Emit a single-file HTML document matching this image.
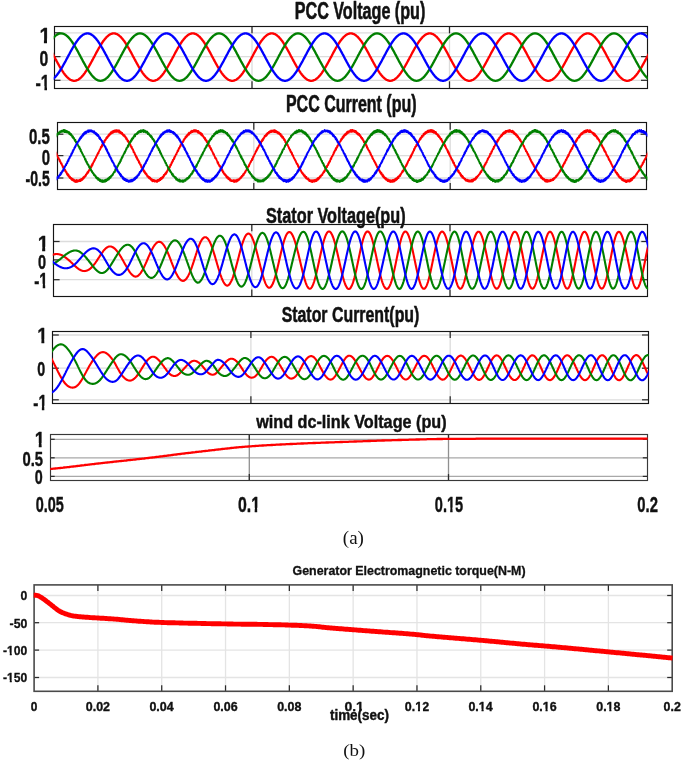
<!DOCTYPE html>
<html><head><meta charset="utf-8"><title>Wind DFIG simulation results</title>
<style>html,body{margin:0;padding:0;background:#fff;} svg{display:block;}</style></head>
<body>
<svg width="685" height="762" viewBox="0 0 685 762">
<rect width="685" height="762" fill="#fff"/>
<line x1="54.5" y1="32.8" x2="647.0" y2="32.8" stroke="#dcdcdc" stroke-width="1.3"/>
<line x1="54.5" y1="56.6" x2="647.0" y2="56.6" stroke="#dcdcdc" stroke-width="1.3"/>
<line x1="54.5" y1="80.3" x2="647.0" y2="80.3" stroke="#dcdcdc" stroke-width="1.3"/>
<line x1="252.0" y1="26.3" x2="252.0" y2="88.3" stroke="#dcdcdc" stroke-width="1.3"/>
<line x1="449.5" y1="26.3" x2="449.5" y2="88.3" stroke="#dcdcdc" stroke-width="1.3"/>
<line x1="54.5" y1="32.8" x2="60.5" y2="32.8" stroke="#2a2a2a" stroke-width="1.25"/>
<line x1="641.0" y1="32.8" x2="647.0" y2="32.8" stroke="#2a2a2a" stroke-width="1.25"/>
<line x1="54.5" y1="56.6" x2="60.5" y2="56.6" stroke="#2a2a2a" stroke-width="1.25"/>
<line x1="641.0" y1="56.6" x2="647.0" y2="56.6" stroke="#2a2a2a" stroke-width="1.25"/>
<line x1="54.5" y1="80.3" x2="60.5" y2="80.3" stroke="#2a2a2a" stroke-width="1.25"/>
<line x1="641.0" y1="80.3" x2="647.0" y2="80.3" stroke="#2a2a2a" stroke-width="1.25"/>
<line x1="252.0" y1="26.3" x2="252.0" y2="33.3" stroke="#2a2a2a" stroke-width="1.25"/>
<line x1="252.0" y1="81.3" x2="252.0" y2="88.3" stroke="#2a2a2a" stroke-width="1.25"/>
<line x1="449.5" y1="26.3" x2="449.5" y2="33.3" stroke="#2a2a2a" stroke-width="1.25"/>
<line x1="449.5" y1="81.3" x2="449.5" y2="88.3" stroke="#2a2a2a" stroke-width="1.25"/>
<rect x="54.5" y="26.5" width="593.0" height="62.0" fill="none" stroke="#151515" stroke-width="1.15"/>
<clipPath id="c1"><rect x="53.7" y="25.5" width="594.1" height="63.6"/></clipPath>
<g clip-path="url(#c1)">
<polyline fill="none" stroke="#ff0000" stroke-width="2.35" stroke-linejoin="round" stroke-linecap="round" points="52.5,53.3 53,54.3 53.5,55.2 54,56.2 54.5,57.1 55,58 55.5,59 56,59.9 56.5,60.9 57,61.8 57.5,62.7 58,63.6 58.5,64.5 59,65.4 59.5,66.3 60,67.1 60.5,68 61,68.8 61.5,69.6 62,70.4 62.5,71.2 63,71.9 63.5,72.7 64,73.4 64.5,74 65,74.7 65.5,75.3 66,75.9 66.5,76.4 67,77 67.5,77.5 68,77.9 68.5,78.4 69,78.8 69.5,79.1 70,79.5 70.5,79.8 71,80 71.5,80.2 72,80.4 72.5,80.6 73,80.7 73.5,80.8 74,80.8 74.5,80.8 75,80.8 75.5,80.7 76,80.6 76.5,80.4 77,80.2 77.5,80 78,79.8 78.5,79.5 79,79.1 79.5,78.8 80,78.4 80.5,77.9 81,77.5 81.5,77 82,76.4 82.5,75.9 83,75.3 83.5,74.7 84,74 84.5,73.4 85,72.7 85.5,71.9 86,71.2 86.5,70.4 87,69.6 87.5,68.8 88,68 88.5,67.1 89,66.3 89.5,65.4 90,64.5 90.5,63.6 91,62.7 91.5,61.8 92,60.9 92.5,59.9 93,59 93.5,58 94,57.1 94.5,56.2 95,55.2 95.5,54.3 96,53.3 96.5,52.4 97,51.5 97.5,50.6 98,49.7 98.5,48.8 99,47.9 99.5,47.1 100,46.2 100.5,45.4 101,44.6 101.5,43.8 102,43 102.5,42.3 103,41.5 103.5,40.8 104,40.2 104.5,39.5 105,38.9 105.5,38.3 106,37.8 106.5,37.2 107,36.7 107.5,36.3 108,35.8 108.5,35.4 109,35.1 109.5,34.7 110,34.4 110.5,34.2 111,34 111.5,33.8 112,33.6 112.5,33.5 113,33.4 113.5,33.4 114,33.4 114.5,33.4 115,33.5 115.5,33.6 116,33.8 116.5,34 117,34.2 117.5,34.4 118,34.7 118.5,35.1 119,35.4 119.5,35.8 120,36.3 120.5,36.7 121,37.2 121.5,37.8 122,38.3 122.5,38.9 123,39.5 123.5,40.2 124,40.8 124.5,41.5 125,42.3 125.5,43 126,43.8 126.5,44.6 127,45.4 127.5,46.2 128,47.1 128.5,47.9 129,48.8 129.5,49.7 130,50.6 130.5,51.5 131,52.4 131.5,53.3 132,54.3 132.5,55.2 133,56.2 133.5,57.1 134,58 134.5,59 135,59.9 135.5,60.9 136,61.8 136.5,62.7 137,63.6 137.5,64.5 138,65.4 138.5,66.3 139,67.1 139.5,68 140,68.8 140.5,69.6 141,70.4 141.5,71.2 142,71.9 142.5,72.7 143,73.4 143.5,74 144,74.7 144.5,75.3 145,75.9 145.5,76.4 146,77 146.5,77.5 147,77.9 147.5,78.4 148,78.8 148.5,79.1 149,79.5 149.5,79.8 150,80 150.5,80.2 151,80.4 151.5,80.6 152,80.7 152.5,80.8 153,80.8 153.5,80.8 154,80.8 154.5,80.7 155,80.6 155.5,80.4 156,80.2 156.5,80 157,79.8 157.5,79.5 158,79.1 158.5,78.8 159,78.4 159.5,77.9 160,77.5 160.5,77 161,76.4 161.5,75.9 162,75.3 162.5,74.7 163,74 163.5,73.4 164,72.7 164.5,71.9 165,71.2 165.5,70.4 166,69.6 166.5,68.8 167,68 167.5,67.1 168,66.3 168.5,65.4 169,64.5 169.5,63.6 170,62.7 170.5,61.8 171,60.9 171.5,59.9 172,59 172.5,58 173,57.1 173.5,56.2 174,55.2 174.5,54.3 175,53.3 175.5,52.4 176,51.5 176.5,50.6 177,49.7 177.5,48.8 178,47.9 178.5,47.1 179,46.2 179.5,45.4 180,44.6 180.5,43.8 181,43 181.5,42.3 182,41.5 182.5,40.8 183,40.2 183.5,39.5 184,38.9 184.5,38.3 185,37.8 185.5,37.2 186,36.7 186.5,36.3 187,35.8 187.5,35.4 188,35.1 188.5,34.7 189,34.4 189.5,34.2 190,34 190.5,33.8 191,33.6 191.5,33.5 192,33.4 192.5,33.4 193,33.4 193.5,33.4 194,33.5 194.5,33.6 195,33.8 195.5,34 196,34.2 196.5,34.4 197,34.7 197.5,35.1 198,35.4 198.5,35.8 199,36.3 199.5,36.7 200,37.2 200.5,37.8 201,38.3 201.5,38.9 202,39.5 202.5,40.2 203,40.8 203.5,41.5 204,42.3 204.5,43 205,43.8 205.5,44.6 206,45.4 206.5,46.2 207,47.1 207.5,47.9 208,48.8 208.5,49.7 209,50.6 209.5,51.5 210,52.4 210.5,53.3 211,54.3 211.5,55.2 212,56.2 212.5,57.1 213,58 213.5,59 214,59.9 214.5,60.9 215,61.8 215.5,62.7 216,63.6 216.5,64.5 217,65.4 217.5,66.3 218,67.1 218.5,68 219,68.8 219.5,69.6 220,70.4 220.5,71.2 221,71.9 221.5,72.7 222,73.4 222.5,74 223,74.7 223.5,75.3 224,75.9 224.5,76.4 225,77 225.5,77.5 226,77.9 226.5,78.4 227,78.8 227.5,79.1 228,79.5 228.5,79.8 229,80 229.5,80.2 230,80.4 230.5,80.6 231,80.7 231.5,80.8 232,80.8 232.5,80.8 233,80.8 233.5,80.7 234,80.6 234.5,80.4 235,80.2 235.5,80 236,79.8 236.5,79.5 237,79.1 237.5,78.8 238,78.4 238.5,77.9 239,77.5 239.5,77 240,76.4 240.5,75.9 241,75.3 241.5,74.7 242,74 242.5,73.4 243,72.7 243.5,71.9 244,71.2 244.5,70.4 245,69.6 245.5,68.8 246,68 246.5,67.1 247,66.3 247.5,65.4 248,64.5 248.5,63.6 249,62.7 249.5,61.8 250,60.9 250.5,59.9 251,59 251.5,58 252,57.1 252.5,56.2 253,55.2 253.5,54.3 254,53.3 254.5,52.4 255,51.5 255.5,50.6 256,49.7 256.5,48.8 257,47.9 257.5,47.1 258,46.2 258.5,45.4 259,44.6 259.5,43.8 260,43 260.5,42.3 261,41.5 261.5,40.8 262,40.2 262.5,39.5 263,38.9 263.5,38.3 264,37.8 264.5,37.2 265,36.7 265.5,36.3 266,35.8 266.5,35.4 267,35.1 267.5,34.7 268,34.4 268.5,34.2 269,34 269.5,33.8 270,33.6 270.5,33.5 271,33.4 271.5,33.4 272,33.4 272.5,33.4 273,33.5 273.5,33.6 274,33.8 274.5,34 275,34.2 275.5,34.4 276,34.7 276.5,35.1 277,35.4 277.5,35.8 278,36.3 278.5,36.7 279,37.2 279.5,37.8 280,38.3 280.5,38.9 281,39.5 281.5,40.2 282,40.8 282.5,41.5 283,42.3 283.5,43 284,43.8 284.5,44.6 285,45.4 285.5,46.2 286,47.1 286.5,47.9 287,48.8 287.5,49.7 288,50.6 288.5,51.5 289,52.4 289.5,53.3 290,54.3 290.5,55.2 291,56.2 291.5,57.1 292,58 292.5,59 293,59.9 293.5,60.9 294,61.8 294.5,62.7 295,63.6 295.5,64.5 296,65.4 296.5,66.3 297,67.1 297.5,68 298,68.8 298.5,69.6 299,70.4 299.5,71.2 300,71.9 300.5,72.7 301,73.4 301.5,74 302,74.7 302.5,75.3 303,75.9 303.5,76.4 304,77 304.5,77.5 305,77.9 305.5,78.4 306,78.8 306.5,79.1 307,79.5 307.5,79.8 308,80 308.5,80.2 309,80.4 309.5,80.6 310,80.7 310.5,80.8 311,80.8 311.5,80.8 312,80.8 312.5,80.7 313,80.6 313.5,80.4 314,80.2 314.5,80 315,79.8 315.5,79.5 316,79.1 316.5,78.8 317,78.4 317.5,77.9 318,77.5 318.5,77 319,76.4 319.5,75.9 320,75.3 320.5,74.7 321,74 321.5,73.4 322,72.7 322.5,71.9 323,71.2 323.5,70.4 324,69.6 324.5,68.8 325,68 325.5,67.1 326,66.3 326.5,65.4 327,64.5 327.5,63.6 328,62.7 328.5,61.8 329,60.9 329.5,59.9 330,59 330.5,58 331,57.1 331.5,56.2 332,55.2 332.5,54.3 333,53.3 333.5,52.4 334,51.5 334.5,50.6 335,49.7 335.5,48.8 336,47.9 336.5,47.1 337,46.2 337.5,45.4 338,44.6 338.5,43.8 339,43 339.5,42.3 340,41.5 340.5,40.8 341,40.2 341.5,39.5 342,38.9 342.5,38.3 343,37.8 343.5,37.2 344,36.7 344.5,36.3 345,35.8 345.5,35.4 346,35.1 346.5,34.7 347,34.4 347.5,34.2 348,34 348.5,33.8 349,33.6 349.5,33.5 350,33.4 350.5,33.4 351,33.4 351.5,33.4 352,33.5 352.5,33.6 353,33.8 353.5,34 354,34.2 354.5,34.4 355,34.7 355.5,35.1 356,35.4 356.5,35.8 357,36.3 357.5,36.7 358,37.2 358.5,37.8 359,38.3 359.5,38.9 360,39.5 360.5,40.2 361,40.8 361.5,41.5 362,42.3 362.5,43 363,43.8 363.5,44.6 364,45.4 364.5,46.2 365,47.1 365.5,47.9 366,48.8 366.5,49.7 367,50.6 367.5,51.5 368,52.4 368.5,53.3 369,54.3 369.5,55.2 370,56.2 370.5,57.1 371,58 371.5,59 372,59.9 372.5,60.9 373,61.8 373.5,62.7 374,63.6 374.5,64.5 375,65.4 375.5,66.3 376,67.1 376.5,68 377,68.8 377.5,69.6 378,70.4 378.5,71.2 379,71.9 379.5,72.7 380,73.4 380.5,74 381,74.7 381.5,75.3 382,75.9 382.5,76.4 383,77 383.5,77.5 384,77.9 384.5,78.4 385,78.8 385.5,79.1 386,79.5 386.5,79.8 387,80 387.5,80.2 388,80.4 388.5,80.6 389,80.7 389.5,80.8 390,80.8 390.5,80.8 391,80.8 391.5,80.7 392,80.6 392.5,80.4 393,80.2 393.5,80 394,79.8 394.5,79.5 395,79.1 395.5,78.8 396,78.4 396.5,77.9 397,77.5 397.5,77 398,76.4 398.5,75.9 399,75.3 399.5,74.7 400,74 400.5,73.4 401,72.7 401.5,71.9 402,71.2 402.5,70.4 403,69.6 403.5,68.8 404,68 404.5,67.1 405,66.3 405.5,65.4 406,64.5 406.5,63.6 407,62.7 407.5,61.8 408,60.9 408.5,59.9 409,59 409.5,58 410,57.1 410.5,56.2 411,55.2 411.5,54.3 412,53.3 412.5,52.4 413,51.5 413.5,50.6 414,49.7 414.5,48.8 415,47.9 415.5,47.1 416,46.2 416.5,45.4 417,44.6 417.5,43.8 418,43 418.5,42.3 419,41.5 419.5,40.8 420,40.2 420.5,39.5 421,38.9 421.5,38.3 422,37.8 422.5,37.2 423,36.7 423.5,36.3 424,35.8 424.5,35.4 425,35.1 425.5,34.7 426,34.4 426.5,34.2 427,34 427.5,33.8 428,33.6 428.5,33.5 429,33.4 429.5,33.4 430,33.4 430.5,33.4 431,33.5 431.5,33.6 432,33.8 432.5,34 433,34.2 433.5,34.4 434,34.7 434.5,35.1 435,35.4 435.5,35.8 436,36.3 436.5,36.7 437,37.2 437.5,37.8 438,38.3 438.5,38.9 439,39.5 439.5,40.2 440,40.8 440.5,41.5 441,42.3 441.5,43 442,43.8 442.5,44.6 443,45.4 443.5,46.2 444,47.1 444.5,47.9 445,48.8 445.5,49.7 446,50.6 446.5,51.5 447,52.4 447.5,53.3 448,54.3 448.5,55.2 449,56.2 449.5,57.1 450,58 450.5,59 451,59.9 451.5,60.9 452,61.8 452.5,62.7 453,63.6 453.5,64.5 454,65.4 454.5,66.3 455,67.1 455.5,68 456,68.8 456.5,69.6 457,70.4 457.5,71.2 458,71.9 458.5,72.7 459,73.4 459.5,74 460,74.7 460.5,75.3 461,75.9 461.5,76.4 462,77 462.5,77.5 463,77.9 463.5,78.4 464,78.8 464.5,79.1 465,79.5 465.5,79.8 466,80 466.5,80.2 467,80.4 467.5,80.6 468,80.7 468.5,80.8 469,80.8 469.5,80.8 470,80.8 470.5,80.7 471,80.6 471.5,80.4 472,80.2 472.5,80 473,79.8 473.5,79.5 474,79.1 474.5,78.8 475,78.4 475.5,77.9 476,77.5 476.5,77 477,76.4 477.5,75.9 478,75.3 478.5,74.7 479,74 479.5,73.4 480,72.7 480.5,71.9 481,71.2 481.5,70.4 482,69.6 482.5,68.8 483,68 483.5,67.1 484,66.3 484.5,65.4 485,64.5 485.5,63.6 486,62.7 486.5,61.8 487,60.9 487.5,59.9 488,59 488.5,58 489,57.1 489.5,56.2 490,55.2 490.5,54.3 491,53.3 491.5,52.4 492,51.5 492.5,50.6 493,49.7 493.5,48.8 494,47.9 494.5,47.1 495,46.2 495.5,45.4 496,44.6 496.5,43.8 497,43 497.5,42.3 498,41.5 498.5,40.8 499,40.2 499.5,39.5 500,38.9 500.5,38.3 501,37.8 501.5,37.2 502,36.7 502.5,36.3 503,35.8 503.5,35.4 504,35.1 504.5,34.7 505,34.4 505.5,34.2 506,34 506.5,33.8 507,33.6 507.5,33.5 508,33.4 508.5,33.4 509,33.4 509.5,33.4 510,33.5 510.5,33.6 511,33.8 511.5,34 512,34.2 512.5,34.4 513,34.7 513.5,35.1 514,35.4 514.5,35.8 515,36.3 515.5,36.7 516,37.2 516.5,37.8 517,38.3 517.5,38.9 518,39.5 518.5,40.2 519,40.8 519.5,41.5 520,42.3 520.5,43 521,43.8 521.5,44.6 522,45.4 522.5,46.2 523,47.1 523.5,47.9 524,48.8 524.5,49.7 525,50.6 525.5,51.5 526,52.4 526.5,53.3 527,54.3 527.5,55.2 528,56.2 528.5,57.1 529,58 529.5,59 530,59.9 530.5,60.9 531,61.8 531.5,62.7 532,63.6 532.5,64.5 533,65.4 533.5,66.3 534,67.1 534.5,68 535,68.8 535.5,69.6 536,70.4 536.5,71.2 537,71.9 537.5,72.7 538,73.4 538.5,74 539,74.7 539.5,75.3 540,75.9 540.5,76.4 541,77 541.5,77.5 542,77.9 542.5,78.4 543,78.8 543.5,79.1 544,79.5 544.5,79.8 545,80 545.5,80.2 546,80.4 546.5,80.6 547,80.7 547.5,80.8 548,80.8 548.5,80.8 549,80.8 549.5,80.7 550,80.6 550.5,80.4 551,80.2 551.5,80 552,79.8 552.5,79.5 553,79.1 553.5,78.8 554,78.4 554.5,77.9 555,77.5 555.5,77 556,76.4 556.5,75.9 557,75.3 557.5,74.7 558,74 558.5,73.4 559,72.7 559.5,71.9 560,71.2 560.5,70.4 561,69.6 561.5,68.8 562,68 562.5,67.1 563,66.3 563.5,65.4 564,64.5 564.5,63.6 565,62.7 565.5,61.8 566,60.9 566.5,59.9 567,59 567.5,58 568,57.1 568.5,56.2 569,55.2 569.5,54.3 570,53.3 570.5,52.4 571,51.5 571.5,50.6 572,49.7 572.5,48.8 573,47.9 573.5,47.1 574,46.2 574.5,45.4 575,44.6 575.5,43.8 576,43 576.5,42.3 577,41.5 577.5,40.8 578,40.2 578.5,39.5 579,38.9 579.5,38.3 580,37.8 580.5,37.2 581,36.7 581.5,36.3 582,35.8 582.5,35.4 583,35.1 583.5,34.7 584,34.4 584.5,34.2 585,34 585.5,33.8 586,33.6 586.5,33.5 587,33.4 587.5,33.4 588,33.4 588.5,33.4 589,33.5 589.5,33.6 590,33.8 590.5,34 591,34.2 591.5,34.4 592,34.7 592.5,35.1 593,35.4 593.5,35.8 594,36.3 594.5,36.7 595,37.2 595.5,37.8 596,38.3 596.5,38.9 597,39.5 597.5,40.2 598,40.8 598.5,41.5 599,42.3 599.5,43 600,43.8 600.5,44.6 601,45.4 601.5,46.2 602,47.1 602.5,47.9 603,48.8 603.5,49.7 604,50.6 604.5,51.5 605,52.4 605.5,53.3 606,54.3 606.5,55.2 607,56.2 607.5,57.1 608,58 608.5,59 609,59.9 609.5,60.9 610,61.8 610.5,62.7 611,63.6 611.5,64.5 612,65.4 612.5,66.3 613,67.1 613.5,68 614,68.8 614.5,69.6 615,70.4 615.5,71.2 616,71.9 616.5,72.7 617,73.4 617.5,74 618,74.7 618.5,75.3 619,75.9 619.5,76.4 620,77 620.5,77.5 621,77.9 621.5,78.4 622,78.8 622.5,79.1 623,79.5 623.5,79.8 624,80 624.5,80.2 625,80.4 625.5,80.6 626,80.7 626.5,80.8 627,80.8 627.5,80.8 628,80.8 628.5,80.7 629,80.6 629.5,80.4 630,80.2 630.5,80 631,79.8 631.5,79.5 632,79.1 632.5,78.8 633,78.4 633.5,77.9 634,77.5 634.5,77 635,76.4 635.5,75.9 636,75.3 636.5,74.7 637,74 637.5,73.4 638,72.7 638.5,71.9 639,71.2 639.5,70.4 640,69.6 640.5,68.8 641,68 641.5,67.1 642,66.3 642.5,65.4 643,64.5 643.5,63.6 644,62.7 644.5,61.8 645,60.9 645.5,59.9 646,59 646.5,58 647,57.1 647.5,56.2 648,55.2 648.5,54.3"/>
<polyline fill="none" stroke="#008000" stroke-width="2.35" stroke-linejoin="round" stroke-linecap="round" points="52.5,38.7 53,38.1 53.5,37.6 54,37.1 54.5,36.6 55,36.1 55.5,35.7 56,35.3 56.5,35 57,34.6 57.5,34.4 58,34.1 58.5,33.9 59,33.7 59.5,33.6 60,33.5 60.5,33.4 61,33.4 61.5,33.4 62,33.5 62.5,33.6 63,33.7 63.5,33.8 64,34 64.5,34.3 65,34.5 65.5,34.8 66,35.2 66.5,35.6 67,36 67.5,36.4 68,36.9 68.5,37.4 69,37.9 69.5,38.5 70,39.1 70.5,39.7 71,40.4 71.5,41.1 72,41.8 72.5,42.5 73,43.3 73.5,44 74,44.8 74.5,45.7 75,46.5 75.5,47.3 76,48.2 76.5,49.1 77,50 77.5,50.9 78,51.8 78.5,52.7 79,53.7 79.5,54.6 80,55.5 80.5,56.5 81,57.4 81.5,58.4 82,59.3 82.5,60.2 83,61.2 83.5,62.1 84,63 84.5,63.9 85,64.8 85.5,65.7 86,66.6 86.5,67.4 87,68.3 87.5,69.1 88,69.9 88.5,70.7 89,71.4 89.5,72.2 90,72.9 90.5,73.6 91,74.2 91.5,74.9 92,75.5 92.5,76.1 93,76.6 93.5,77.1 94,77.6 94.5,78.1 95,78.5 95.5,78.9 96,79.2 96.5,79.6 97,79.8 97.5,80.1 98,80.3 98.5,80.5 99,80.6 99.5,80.7 100,80.8 100.5,80.8 101,80.8 101.5,80.7 102,80.6 102.5,80.5 103,80.4 103.5,80.2 104,79.9 104.5,79.7 105,79.4 105.5,79 106,78.6 106.5,78.2 107,77.8 107.5,77.3 108,76.8 108.5,76.3 109,75.7 109.5,75.1 110,74.5 110.5,73.8 111,73.1 111.5,72.4 112,71.7 112.5,70.9 113,70.2 113.5,69.4 114,68.5 114.5,67.7 115,66.9 115.5,66 116,65.1 116.5,64.2 117,63.3 117.5,62.4 118,61.5 118.5,60.5 119,59.6 119.5,58.7 120,57.7 120.5,56.8 121,55.8 121.5,54.9 122,54 122.5,53 123,52.1 123.5,51.2 124,50.3 124.5,49.4 125,48.5 125.5,47.6 126,46.8 126.5,45.9 127,45.1 127.5,44.3 128,43.5 128.5,42.8 129,42 129.5,41.3 130,40.6 130.5,40 131,39.3 131.5,38.7 132,38.1 132.5,37.6 133,37.1 133.5,36.6 134,36.1 134.5,35.7 135,35.3 135.5,35 136,34.6 136.5,34.4 137,34.1 137.5,33.9 138,33.7 138.5,33.6 139,33.5 139.5,33.4 140,33.4 140.5,33.4 141,33.5 141.5,33.6 142,33.7 142.5,33.8 143,34 143.5,34.3 144,34.5 144.5,34.8 145,35.2 145.5,35.6 146,36 146.5,36.4 147,36.9 147.5,37.4 148,37.9 148.5,38.5 149,39.1 149.5,39.7 150,40.4 150.5,41.1 151,41.8 151.5,42.5 152,43.3 152.5,44 153,44.8 153.5,45.7 154,46.5 154.5,47.3 155,48.2 155.5,49.1 156,50 156.5,50.9 157,51.8 157.5,52.7 158,53.7 158.5,54.6 159,55.5 159.5,56.5 160,57.4 160.5,58.4 161,59.3 161.5,60.2 162,61.2 162.5,62.1 163,63 163.5,63.9 164,64.8 164.5,65.7 165,66.6 165.5,67.4 166,68.3 166.5,69.1 167,69.9 167.5,70.7 168,71.4 168.5,72.2 169,72.9 169.5,73.6 170,74.2 170.5,74.9 171,75.5 171.5,76.1 172,76.6 172.5,77.1 173,77.6 173.5,78.1 174,78.5 174.5,78.9 175,79.2 175.5,79.6 176,79.8 176.5,80.1 177,80.3 177.5,80.5 178,80.6 178.5,80.7 179,80.8 179.5,80.8 180,80.8 180.5,80.7 181,80.6 181.5,80.5 182,80.4 182.5,80.2 183,79.9 183.5,79.7 184,79.4 184.5,79 185,78.6 185.5,78.2 186,77.8 186.5,77.3 187,76.8 187.5,76.3 188,75.7 188.5,75.1 189,74.5 189.5,73.8 190,73.1 190.5,72.4 191,71.7 191.5,70.9 192,70.2 192.5,69.4 193,68.5 193.5,67.7 194,66.9 194.5,66 195,65.1 195.5,64.2 196,63.3 196.5,62.4 197,61.5 197.5,60.5 198,59.6 198.5,58.7 199,57.7 199.5,56.8 200,55.8 200.5,54.9 201,54 201.5,53 202,52.1 202.5,51.2 203,50.3 203.5,49.4 204,48.5 204.5,47.6 205,46.8 205.5,45.9 206,45.1 206.5,44.3 207,43.5 207.5,42.8 208,42 208.5,41.3 209,40.6 209.5,40 210,39.3 210.5,38.7 211,38.1 211.5,37.6 212,37.1 212.5,36.6 213,36.1 213.5,35.7 214,35.3 214.5,35 215,34.6 215.5,34.4 216,34.1 216.5,33.9 217,33.7 217.5,33.6 218,33.5 218.5,33.4 219,33.4 219.5,33.4 220,33.5 220.5,33.6 221,33.7 221.5,33.8 222,34 222.5,34.3 223,34.5 223.5,34.8 224,35.2 224.5,35.6 225,36 225.5,36.4 226,36.9 226.5,37.4 227,37.9 227.5,38.5 228,39.1 228.5,39.7 229,40.4 229.5,41.1 230,41.8 230.5,42.5 231,43.3 231.5,44 232,44.8 232.5,45.7 233,46.5 233.5,47.3 234,48.2 234.5,49.1 235,50 235.5,50.9 236,51.8 236.5,52.7 237,53.7 237.5,54.6 238,55.5 238.5,56.5 239,57.4 239.5,58.4 240,59.3 240.5,60.2 241,61.2 241.5,62.1 242,63 242.5,63.9 243,64.8 243.5,65.7 244,66.6 244.5,67.4 245,68.3 245.5,69.1 246,69.9 246.5,70.7 247,71.4 247.5,72.2 248,72.9 248.5,73.6 249,74.2 249.5,74.9 250,75.5 250.5,76.1 251,76.6 251.5,77.1 252,77.6 252.5,78.1 253,78.5 253.5,78.9 254,79.2 254.5,79.6 255,79.8 255.5,80.1 256,80.3 256.5,80.5 257,80.6 257.5,80.7 258,80.8 258.5,80.8 259,80.8 259.5,80.7 260,80.6 260.5,80.5 261,80.4 261.5,80.2 262,79.9 262.5,79.7 263,79.4 263.5,79 264,78.6 264.5,78.2 265,77.8 265.5,77.3 266,76.8 266.5,76.3 267,75.7 267.5,75.1 268,74.5 268.5,73.8 269,73.1 269.5,72.4 270,71.7 270.5,70.9 271,70.2 271.5,69.4 272,68.5 272.5,67.7 273,66.9 273.5,66 274,65.1 274.5,64.2 275,63.3 275.5,62.4 276,61.5 276.5,60.5 277,59.6 277.5,58.7 278,57.7 278.5,56.8 279,55.8 279.5,54.9 280,54 280.5,53 281,52.1 281.5,51.2 282,50.3 282.5,49.4 283,48.5 283.5,47.6 284,46.8 284.5,45.9 285,45.1 285.5,44.3 286,43.5 286.5,42.8 287,42 287.5,41.3 288,40.6 288.5,40 289,39.3 289.5,38.7 290,38.1 290.5,37.6 291,37.1 291.5,36.6 292,36.1 292.5,35.7 293,35.3 293.5,35 294,34.6 294.5,34.4 295,34.1 295.5,33.9 296,33.7 296.5,33.6 297,33.5 297.5,33.4 298,33.4 298.5,33.4 299,33.5 299.5,33.6 300,33.7 300.5,33.8 301,34 301.5,34.3 302,34.5 302.5,34.8 303,35.2 303.5,35.6 304,36 304.5,36.4 305,36.9 305.5,37.4 306,37.9 306.5,38.5 307,39.1 307.5,39.7 308,40.4 308.5,41.1 309,41.8 309.5,42.5 310,43.3 310.5,44 311,44.8 311.5,45.7 312,46.5 312.5,47.3 313,48.2 313.5,49.1 314,50 314.5,50.9 315,51.8 315.5,52.7 316,53.7 316.5,54.6 317,55.5 317.5,56.5 318,57.4 318.5,58.4 319,59.3 319.5,60.2 320,61.2 320.5,62.1 321,63 321.5,63.9 322,64.8 322.5,65.7 323,66.6 323.5,67.4 324,68.3 324.5,69.1 325,69.9 325.5,70.7 326,71.4 326.5,72.2 327,72.9 327.5,73.6 328,74.2 328.5,74.9 329,75.5 329.5,76.1 330,76.6 330.5,77.1 331,77.6 331.5,78.1 332,78.5 332.5,78.9 333,79.2 333.5,79.6 334,79.8 334.5,80.1 335,80.3 335.5,80.5 336,80.6 336.5,80.7 337,80.8 337.5,80.8 338,80.8 338.5,80.7 339,80.6 339.5,80.5 340,80.4 340.5,80.2 341,79.9 341.5,79.7 342,79.4 342.5,79 343,78.6 343.5,78.2 344,77.8 344.5,77.3 345,76.8 345.5,76.3 346,75.7 346.5,75.1 347,74.5 347.5,73.8 348,73.1 348.5,72.4 349,71.7 349.5,70.9 350,70.2 350.5,69.4 351,68.5 351.5,67.7 352,66.9 352.5,66 353,65.1 353.5,64.2 354,63.3 354.5,62.4 355,61.5 355.5,60.5 356,59.6 356.5,58.7 357,57.7 357.5,56.8 358,55.8 358.5,54.9 359,54 359.5,53 360,52.1 360.5,51.2 361,50.3 361.5,49.4 362,48.5 362.5,47.6 363,46.8 363.5,45.9 364,45.1 364.5,44.3 365,43.5 365.5,42.8 366,42 366.5,41.3 367,40.6 367.5,40 368,39.3 368.5,38.7 369,38.1 369.5,37.6 370,37.1 370.5,36.6 371,36.1 371.5,35.7 372,35.3 372.5,35 373,34.6 373.5,34.4 374,34.1 374.5,33.9 375,33.7 375.5,33.6 376,33.5 376.5,33.4 377,33.4 377.5,33.4 378,33.5 378.5,33.6 379,33.7 379.5,33.8 380,34 380.5,34.3 381,34.5 381.5,34.8 382,35.2 382.5,35.6 383,36 383.5,36.4 384,36.9 384.5,37.4 385,37.9 385.5,38.5 386,39.1 386.5,39.7 387,40.4 387.5,41.1 388,41.8 388.5,42.5 389,43.3 389.5,44 390,44.8 390.5,45.7 391,46.5 391.5,47.3 392,48.2 392.5,49.1 393,50 393.5,50.9 394,51.8 394.5,52.7 395,53.7 395.5,54.6 396,55.5 396.5,56.5 397,57.4 397.5,58.4 398,59.3 398.5,60.2 399,61.2 399.5,62.1 400,63 400.5,63.9 401,64.8 401.5,65.7 402,66.6 402.5,67.4 403,68.3 403.5,69.1 404,69.9 404.5,70.7 405,71.4 405.5,72.2 406,72.9 406.5,73.6 407,74.2 407.5,74.9 408,75.5 408.5,76.1 409,76.6 409.5,77.1 410,77.6 410.5,78.1 411,78.5 411.5,78.9 412,79.2 412.5,79.6 413,79.8 413.5,80.1 414,80.3 414.5,80.5 415,80.6 415.5,80.7 416,80.8 416.5,80.8 417,80.8 417.5,80.7 418,80.6 418.5,80.5 419,80.4 419.5,80.2 420,79.9 420.5,79.7 421,79.4 421.5,79 422,78.6 422.5,78.2 423,77.8 423.5,77.3 424,76.8 424.5,76.3 425,75.7 425.5,75.1 426,74.5 426.5,73.8 427,73.1 427.5,72.4 428,71.7 428.5,70.9 429,70.2 429.5,69.4 430,68.5 430.5,67.7 431,66.9 431.5,66 432,65.1 432.5,64.2 433,63.3 433.5,62.4 434,61.5 434.5,60.5 435,59.6 435.5,58.7 436,57.7 436.5,56.8 437,55.8 437.5,54.9 438,54 438.5,53 439,52.1 439.5,51.2 440,50.3 440.5,49.4 441,48.5 441.5,47.6 442,46.8 442.5,45.9 443,45.1 443.5,44.3 444,43.5 444.5,42.8 445,42 445.5,41.3 446,40.6 446.5,40 447,39.3 447.5,38.7 448,38.1 448.5,37.6 449,37.1 449.5,36.6 450,36.1 450.5,35.7 451,35.3 451.5,35 452,34.6 452.5,34.4 453,34.1 453.5,33.9 454,33.7 454.5,33.6 455,33.5 455.5,33.4 456,33.4 456.5,33.4 457,33.5 457.5,33.6 458,33.7 458.5,33.8 459,34 459.5,34.3 460,34.5 460.5,34.8 461,35.2 461.5,35.6 462,36 462.5,36.4 463,36.9 463.5,37.4 464,37.9 464.5,38.5 465,39.1 465.5,39.7 466,40.4 466.5,41.1 467,41.8 467.5,42.5 468,43.3 468.5,44 469,44.8 469.5,45.7 470,46.5 470.5,47.3 471,48.2 471.5,49.1 472,50 472.5,50.9 473,51.8 473.5,52.7 474,53.7 474.5,54.6 475,55.5 475.5,56.5 476,57.4 476.5,58.4 477,59.3 477.5,60.2 478,61.2 478.5,62.1 479,63 479.5,63.9 480,64.8 480.5,65.7 481,66.6 481.5,67.4 482,68.3 482.5,69.1 483,69.9 483.5,70.7 484,71.4 484.5,72.2 485,72.9 485.5,73.6 486,74.2 486.5,74.9 487,75.5 487.5,76.1 488,76.6 488.5,77.1 489,77.6 489.5,78.1 490,78.5 490.5,78.9 491,79.2 491.5,79.6 492,79.8 492.5,80.1 493,80.3 493.5,80.5 494,80.6 494.5,80.7 495,80.8 495.5,80.8 496,80.8 496.5,80.7 497,80.6 497.5,80.5 498,80.4 498.5,80.2 499,79.9 499.5,79.7 500,79.4 500.5,79 501,78.6 501.5,78.2 502,77.8 502.5,77.3 503,76.8 503.5,76.3 504,75.7 504.5,75.1 505,74.5 505.5,73.8 506,73.1 506.5,72.4 507,71.7 507.5,70.9 508,70.2 508.5,69.4 509,68.5 509.5,67.7 510,66.9 510.5,66 511,65.1 511.5,64.2 512,63.3 512.5,62.4 513,61.5 513.5,60.5 514,59.6 514.5,58.7 515,57.7 515.5,56.8 516,55.8 516.5,54.9 517,54 517.5,53 518,52.1 518.5,51.2 519,50.3 519.5,49.4 520,48.5 520.5,47.6 521,46.8 521.5,45.9 522,45.1 522.5,44.3 523,43.5 523.5,42.8 524,42 524.5,41.3 525,40.6 525.5,40 526,39.3 526.5,38.7 527,38.1 527.5,37.6 528,37.1 528.5,36.6 529,36.1 529.5,35.7 530,35.3 530.5,35 531,34.6 531.5,34.4 532,34.1 532.5,33.9 533,33.7 533.5,33.6 534,33.5 534.5,33.4 535,33.4 535.5,33.4 536,33.5 536.5,33.6 537,33.7 537.5,33.8 538,34 538.5,34.3 539,34.5 539.5,34.8 540,35.2 540.5,35.6 541,36 541.5,36.4 542,36.9 542.5,37.4 543,37.9 543.5,38.5 544,39.1 544.5,39.7 545,40.4 545.5,41.1 546,41.8 546.5,42.5 547,43.3 547.5,44 548,44.8 548.5,45.7 549,46.5 549.5,47.3 550,48.2 550.5,49.1 551,50 551.5,50.9 552,51.8 552.5,52.7 553,53.7 553.5,54.6 554,55.5 554.5,56.5 555,57.4 555.5,58.4 556,59.3 556.5,60.2 557,61.2 557.5,62.1 558,63 558.5,63.9 559,64.8 559.5,65.7 560,66.6 560.5,67.4 561,68.3 561.5,69.1 562,69.9 562.5,70.7 563,71.4 563.5,72.2 564,72.9 564.5,73.6 565,74.2 565.5,74.9 566,75.5 566.5,76.1 567,76.6 567.5,77.1 568,77.6 568.5,78.1 569,78.5 569.5,78.9 570,79.2 570.5,79.6 571,79.8 571.5,80.1 572,80.3 572.5,80.5 573,80.6 573.5,80.7 574,80.8 574.5,80.8 575,80.8 575.5,80.7 576,80.6 576.5,80.5 577,80.4 577.5,80.2 578,79.9 578.5,79.7 579,79.4 579.5,79 580,78.6 580.5,78.2 581,77.8 581.5,77.3 582,76.8 582.5,76.3 583,75.7 583.5,75.1 584,74.5 584.5,73.8 585,73.1 585.5,72.4 586,71.7 586.5,70.9 587,70.2 587.5,69.4 588,68.5 588.5,67.7 589,66.9 589.5,66 590,65.1 590.5,64.2 591,63.3 591.5,62.4 592,61.5 592.5,60.5 593,59.6 593.5,58.7 594,57.7 594.5,56.8 595,55.8 595.5,54.9 596,54 596.5,53 597,52.1 597.5,51.2 598,50.3 598.5,49.4 599,48.5 599.5,47.6 600,46.8 600.5,45.9 601,45.1 601.5,44.3 602,43.5 602.5,42.8 603,42 603.5,41.3 604,40.6 604.5,40 605,39.3 605.5,38.7 606,38.1 606.5,37.6 607,37.1 607.5,36.6 608,36.1 608.5,35.7 609,35.3 609.5,35 610,34.6 610.5,34.4 611,34.1 611.5,33.9 612,33.7 612.5,33.6 613,33.5 613.5,33.4 614,33.4 614.5,33.4 615,33.5 615.5,33.6 616,33.7 616.5,33.8 617,34 617.5,34.3 618,34.5 618.5,34.8 619,35.2 619.5,35.6 620,36 620.5,36.4 621,36.9 621.5,37.4 622,37.9 622.5,38.5 623,39.1 623.5,39.7 624,40.4 624.5,41.1 625,41.8 625.5,42.5 626,43.3 626.5,44 627,44.8 627.5,45.7 628,46.5 628.5,47.3 629,48.2 629.5,49.1 630,50 630.5,50.9 631,51.8 631.5,52.7 632,53.7 632.5,54.6 633,55.5 633.5,56.5 634,57.4 634.5,58.4 635,59.3 635.5,60.2 636,61.2 636.5,62.1 637,63 637.5,63.9 638,64.8 638.5,65.7 639,66.6 639.5,67.4 640,68.3 640.5,69.1 641,69.9 641.5,70.7 642,71.4 642.5,72.2 643,72.9 643.5,73.6 644,74.2 644.5,74.9 645,75.5 645.5,76.1 646,76.6 646.5,77.1 647,77.6 647.5,78.1 648,78.5 648.5,78.9"/>
<polyline fill="none" stroke="#0000ff" stroke-width="2.35" stroke-linejoin="round" stroke-linecap="round" points="52.5,79.2 53,78.9 53.5,78.5 54,78.1 54.5,77.6 55,77.1 55.5,76.6 56,76.1 56.5,75.5 57,74.9 57.5,74.2 58,73.6 58.5,72.9 59,72.2 59.5,71.4 60,70.7 60.5,69.9 61,69.1 61.5,68.3 62,67.4 62.5,66.6 63,65.7 63.5,64.8 64,63.9 64.5,63 65,62.1 65.5,61.2 66,60.2 66.5,59.3 67,58.4 67.5,57.4 68,56.5 68.5,55.5 69,54.6 69.5,53.7 70,52.7 70.5,51.8 71,50.9 71.5,50 72,49.1 72.5,48.2 73,47.3 73.5,46.5 74,45.7 74.5,44.8 75,44 75.5,43.3 76,42.5 76.5,41.8 77,41.1 77.5,40.4 78,39.7 78.5,39.1 79,38.5 79.5,37.9 80,37.4 80.5,36.9 81,36.4 81.5,36 82,35.6 82.5,35.2 83,34.8 83.5,34.5 84,34.3 84.5,34 85,33.8 85.5,33.7 86,33.6 86.5,33.5 87,33.4 87.5,33.4 88,33.4 88.5,33.5 89,33.6 89.5,33.7 90,33.9 90.5,34.1 91,34.4 91.5,34.6 92,35 92.5,35.3 93,35.7 93.5,36.1 94,36.6 94.5,37.1 95,37.6 95.5,38.1 96,38.7 96.5,39.3 97,40 97.5,40.6 98,41.3 98.5,42 99,42.8 99.5,43.5 100,44.3 100.5,45.1 101,45.9 101.5,46.8 102,47.6 102.5,48.5 103,49.4 103.5,50.3 104,51.2 104.5,52.1 105,53 105.5,54 106,54.9 106.5,55.8 107,56.8 107.5,57.7 108,58.7 108.5,59.6 109,60.5 109.5,61.5 110,62.4 110.5,63.3 111,64.2 111.5,65.1 112,66 112.5,66.9 113,67.7 113.5,68.5 114,69.4 114.5,70.2 115,70.9 115.5,71.7 116,72.4 116.5,73.1 117,73.8 117.5,74.5 118,75.1 118.5,75.7 119,76.3 119.5,76.8 120,77.3 120.5,77.8 121,78.2 121.5,78.6 122,79 122.5,79.4 123,79.7 123.5,79.9 124,80.2 124.5,80.4 125,80.5 125.5,80.6 126,80.7 126.5,80.8 127,80.8 127.5,80.8 128,80.7 128.5,80.6 129,80.5 129.5,80.3 130,80.1 130.5,79.8 131,79.6 131.5,79.2 132,78.9 132.5,78.5 133,78.1 133.5,77.6 134,77.1 134.5,76.6 135,76.1 135.5,75.5 136,74.9 136.5,74.2 137,73.6 137.5,72.9 138,72.2 138.5,71.4 139,70.7 139.5,69.9 140,69.1 140.5,68.3 141,67.4 141.5,66.6 142,65.7 142.5,64.8 143,63.9 143.5,63 144,62.1 144.5,61.2 145,60.2 145.5,59.3 146,58.4 146.5,57.4 147,56.5 147.5,55.5 148,54.6 148.5,53.7 149,52.7 149.5,51.8 150,50.9 150.5,50 151,49.1 151.5,48.2 152,47.3 152.5,46.5 153,45.7 153.5,44.8 154,44 154.5,43.3 155,42.5 155.5,41.8 156,41.1 156.5,40.4 157,39.7 157.5,39.1 158,38.5 158.5,37.9 159,37.4 159.5,36.9 160,36.4 160.5,36 161,35.6 161.5,35.2 162,34.8 162.5,34.5 163,34.3 163.5,34 164,33.8 164.5,33.7 165,33.6 165.5,33.5 166,33.4 166.5,33.4 167,33.4 167.5,33.5 168,33.6 168.5,33.7 169,33.9 169.5,34.1 170,34.4 170.5,34.6 171,35 171.5,35.3 172,35.7 172.5,36.1 173,36.6 173.5,37.1 174,37.6 174.5,38.1 175,38.7 175.5,39.3 176,40 176.5,40.6 177,41.3 177.5,42 178,42.8 178.5,43.5 179,44.3 179.5,45.1 180,45.9 180.5,46.8 181,47.6 181.5,48.5 182,49.4 182.5,50.3 183,51.2 183.5,52.1 184,53 184.5,54 185,54.9 185.5,55.8 186,56.8 186.5,57.7 187,58.7 187.5,59.6 188,60.5 188.5,61.5 189,62.4 189.5,63.3 190,64.2 190.5,65.1 191,66 191.5,66.9 192,67.7 192.5,68.5 193,69.4 193.5,70.2 194,70.9 194.5,71.7 195,72.4 195.5,73.1 196,73.8 196.5,74.5 197,75.1 197.5,75.7 198,76.3 198.5,76.8 199,77.3 199.5,77.8 200,78.2 200.5,78.6 201,79 201.5,79.4 202,79.7 202.5,79.9 203,80.2 203.5,80.4 204,80.5 204.5,80.6 205,80.7 205.5,80.8 206,80.8 206.5,80.8 207,80.7 207.5,80.6 208,80.5 208.5,80.3 209,80.1 209.5,79.8 210,79.6 210.5,79.2 211,78.9 211.5,78.5 212,78.1 212.5,77.6 213,77.1 213.5,76.6 214,76.1 214.5,75.5 215,74.9 215.5,74.2 216,73.6 216.5,72.9 217,72.2 217.5,71.4 218,70.7 218.5,69.9 219,69.1 219.5,68.3 220,67.4 220.5,66.6 221,65.7 221.5,64.8 222,63.9 222.5,63 223,62.1 223.5,61.2 224,60.2 224.5,59.3 225,58.4 225.5,57.4 226,56.5 226.5,55.5 227,54.6 227.5,53.7 228,52.7 228.5,51.8 229,50.9 229.5,50 230,49.1 230.5,48.2 231,47.3 231.5,46.5 232,45.7 232.5,44.8 233,44 233.5,43.3 234,42.5 234.5,41.8 235,41.1 235.5,40.4 236,39.7 236.5,39.1 237,38.5 237.5,37.9 238,37.4 238.5,36.9 239,36.4 239.5,36 240,35.6 240.5,35.2 241,34.8 241.5,34.5 242,34.3 242.5,34 243,33.8 243.5,33.7 244,33.6 244.5,33.5 245,33.4 245.5,33.4 246,33.4 246.5,33.5 247,33.6 247.5,33.7 248,33.9 248.5,34.1 249,34.4 249.5,34.6 250,35 250.5,35.3 251,35.7 251.5,36.1 252,36.6 252.5,37.1 253,37.6 253.5,38.1 254,38.7 254.5,39.3 255,40 255.5,40.6 256,41.3 256.5,42 257,42.8 257.5,43.5 258,44.3 258.5,45.1 259,45.9 259.5,46.8 260,47.6 260.5,48.5 261,49.4 261.5,50.3 262,51.2 262.5,52.1 263,53 263.5,54 264,54.9 264.5,55.8 265,56.8 265.5,57.7 266,58.7 266.5,59.6 267,60.5 267.5,61.5 268,62.4 268.5,63.3 269,64.2 269.5,65.1 270,66 270.5,66.9 271,67.7 271.5,68.5 272,69.4 272.5,70.2 273,70.9 273.5,71.7 274,72.4 274.5,73.1 275,73.8 275.5,74.5 276,75.1 276.5,75.7 277,76.3 277.5,76.8 278,77.3 278.5,77.8 279,78.2 279.5,78.6 280,79 280.5,79.4 281,79.7 281.5,79.9 282,80.2 282.5,80.4 283,80.5 283.5,80.6 284,80.7 284.5,80.8 285,80.8 285.5,80.8 286,80.7 286.5,80.6 287,80.5 287.5,80.3 288,80.1 288.5,79.8 289,79.6 289.5,79.2 290,78.9 290.5,78.5 291,78.1 291.5,77.6 292,77.1 292.5,76.6 293,76.1 293.5,75.5 294,74.9 294.5,74.2 295,73.6 295.5,72.9 296,72.2 296.5,71.4 297,70.7 297.5,69.9 298,69.1 298.5,68.3 299,67.4 299.5,66.6 300,65.7 300.5,64.8 301,63.9 301.5,63 302,62.1 302.5,61.2 303,60.2 303.5,59.3 304,58.4 304.5,57.4 305,56.5 305.5,55.5 306,54.6 306.5,53.7 307,52.7 307.5,51.8 308,50.9 308.5,50 309,49.1 309.5,48.2 310,47.3 310.5,46.5 311,45.7 311.5,44.8 312,44 312.5,43.3 313,42.5 313.5,41.8 314,41.1 314.5,40.4 315,39.7 315.5,39.1 316,38.5 316.5,37.9 317,37.4 317.5,36.9 318,36.4 318.5,36 319,35.6 319.5,35.2 320,34.8 320.5,34.5 321,34.3 321.5,34 322,33.8 322.5,33.7 323,33.6 323.5,33.5 324,33.4 324.5,33.4 325,33.4 325.5,33.5 326,33.6 326.5,33.7 327,33.9 327.5,34.1 328,34.4 328.5,34.6 329,35 329.5,35.3 330,35.7 330.5,36.1 331,36.6 331.5,37.1 332,37.6 332.5,38.1 333,38.7 333.5,39.3 334,40 334.5,40.6 335,41.3 335.5,42 336,42.8 336.5,43.5 337,44.3 337.5,45.1 338,45.9 338.5,46.8 339,47.6 339.5,48.5 340,49.4 340.5,50.3 341,51.2 341.5,52.1 342,53 342.5,54 343,54.9 343.5,55.8 344,56.8 344.5,57.7 345,58.7 345.5,59.6 346,60.5 346.5,61.5 347,62.4 347.5,63.3 348,64.2 348.5,65.1 349,66 349.5,66.9 350,67.7 350.5,68.5 351,69.4 351.5,70.2 352,70.9 352.5,71.7 353,72.4 353.5,73.1 354,73.8 354.5,74.5 355,75.1 355.5,75.7 356,76.3 356.5,76.8 357,77.3 357.5,77.8 358,78.2 358.5,78.6 359,79 359.5,79.4 360,79.7 360.5,79.9 361,80.2 361.5,80.4 362,80.5 362.5,80.6 363,80.7 363.5,80.8 364,80.8 364.5,80.8 365,80.7 365.5,80.6 366,80.5 366.5,80.3 367,80.1 367.5,79.8 368,79.6 368.5,79.2 369,78.9 369.5,78.5 370,78.1 370.5,77.6 371,77.1 371.5,76.6 372,76.1 372.5,75.5 373,74.9 373.5,74.2 374,73.6 374.5,72.9 375,72.2 375.5,71.4 376,70.7 376.5,69.9 377,69.1 377.5,68.3 378,67.4 378.5,66.6 379,65.7 379.5,64.8 380,63.9 380.5,63 381,62.1 381.5,61.2 382,60.2 382.5,59.3 383,58.4 383.5,57.4 384,56.5 384.5,55.5 385,54.6 385.5,53.7 386,52.7 386.5,51.8 387,50.9 387.5,50 388,49.1 388.5,48.2 389,47.3 389.5,46.5 390,45.7 390.5,44.8 391,44 391.5,43.3 392,42.5 392.5,41.8 393,41.1 393.5,40.4 394,39.7 394.5,39.1 395,38.5 395.5,37.9 396,37.4 396.5,36.9 397,36.4 397.5,36 398,35.6 398.5,35.2 399,34.8 399.5,34.5 400,34.3 400.5,34 401,33.8 401.5,33.7 402,33.6 402.5,33.5 403,33.4 403.5,33.4 404,33.4 404.5,33.5 405,33.6 405.5,33.7 406,33.9 406.5,34.1 407,34.4 407.5,34.6 408,35 408.5,35.3 409,35.7 409.5,36.1 410,36.6 410.5,37.1 411,37.6 411.5,38.1 412,38.7 412.5,39.3 413,40 413.5,40.6 414,41.3 414.5,42 415,42.8 415.5,43.5 416,44.3 416.5,45.1 417,45.9 417.5,46.8 418,47.6 418.5,48.5 419,49.4 419.5,50.3 420,51.2 420.5,52.1 421,53 421.5,54 422,54.9 422.5,55.8 423,56.8 423.5,57.7 424,58.7 424.5,59.6 425,60.5 425.5,61.5 426,62.4 426.5,63.3 427,64.2 427.5,65.1 428,66 428.5,66.9 429,67.7 429.5,68.5 430,69.4 430.5,70.2 431,70.9 431.5,71.7 432,72.4 432.5,73.1 433,73.8 433.5,74.5 434,75.1 434.5,75.7 435,76.3 435.5,76.8 436,77.3 436.5,77.8 437,78.2 437.5,78.6 438,79 438.5,79.4 439,79.7 439.5,79.9 440,80.2 440.5,80.4 441,80.5 441.5,80.6 442,80.7 442.5,80.8 443,80.8 443.5,80.8 444,80.7 444.5,80.6 445,80.5 445.5,80.3 446,80.1 446.5,79.8 447,79.6 447.5,79.2 448,78.9 448.5,78.5 449,78.1 449.5,77.6 450,77.1 450.5,76.6 451,76.1 451.5,75.5 452,74.9 452.5,74.2 453,73.6 453.5,72.9 454,72.2 454.5,71.4 455,70.7 455.5,69.9 456,69.1 456.5,68.3 457,67.4 457.5,66.6 458,65.7 458.5,64.8 459,63.9 459.5,63 460,62.1 460.5,61.2 461,60.2 461.5,59.3 462,58.4 462.5,57.4 463,56.5 463.5,55.5 464,54.6 464.5,53.7 465,52.7 465.5,51.8 466,50.9 466.5,50 467,49.1 467.5,48.2 468,47.3 468.5,46.5 469,45.7 469.5,44.8 470,44 470.5,43.3 471,42.5 471.5,41.8 472,41.1 472.5,40.4 473,39.7 473.5,39.1 474,38.5 474.5,37.9 475,37.4 475.5,36.9 476,36.4 476.5,36 477,35.6 477.5,35.2 478,34.8 478.5,34.5 479,34.3 479.5,34 480,33.8 480.5,33.7 481,33.6 481.5,33.5 482,33.4 482.5,33.4 483,33.4 483.5,33.5 484,33.6 484.5,33.7 485,33.9 485.5,34.1 486,34.4 486.5,34.6 487,35 487.5,35.3 488,35.7 488.5,36.1 489,36.6 489.5,37.1 490,37.6 490.5,38.1 491,38.7 491.5,39.3 492,40 492.5,40.6 493,41.3 493.5,42 494,42.8 494.5,43.5 495,44.3 495.5,45.1 496,45.9 496.5,46.8 497,47.6 497.5,48.5 498,49.4 498.5,50.3 499,51.2 499.5,52.1 500,53 500.5,54 501,54.9 501.5,55.8 502,56.8 502.5,57.7 503,58.7 503.5,59.6 504,60.5 504.5,61.5 505,62.4 505.5,63.3 506,64.2 506.5,65.1 507,66 507.5,66.9 508,67.7 508.5,68.5 509,69.4 509.5,70.2 510,70.9 510.5,71.7 511,72.4 511.5,73.1 512,73.8 512.5,74.5 513,75.1 513.5,75.7 514,76.3 514.5,76.8 515,77.3 515.5,77.8 516,78.2 516.5,78.6 517,79 517.5,79.4 518,79.7 518.5,79.9 519,80.2 519.5,80.4 520,80.5 520.5,80.6 521,80.7 521.5,80.8 522,80.8 522.5,80.8 523,80.7 523.5,80.6 524,80.5 524.5,80.3 525,80.1 525.5,79.8 526,79.6 526.5,79.2 527,78.9 527.5,78.5 528,78.1 528.5,77.6 529,77.1 529.5,76.6 530,76.1 530.5,75.5 531,74.9 531.5,74.2 532,73.6 532.5,72.9 533,72.2 533.5,71.4 534,70.7 534.5,69.9 535,69.1 535.5,68.3 536,67.4 536.5,66.6 537,65.7 537.5,64.8 538,63.9 538.5,63 539,62.1 539.5,61.2 540,60.2 540.5,59.3 541,58.4 541.5,57.4 542,56.5 542.5,55.5 543,54.6 543.5,53.7 544,52.7 544.5,51.8 545,50.9 545.5,50 546,49.1 546.5,48.2 547,47.3 547.5,46.5 548,45.7 548.5,44.8 549,44 549.5,43.3 550,42.5 550.5,41.8 551,41.1 551.5,40.4 552,39.7 552.5,39.1 553,38.5 553.5,37.9 554,37.4 554.5,36.9 555,36.4 555.5,36 556,35.6 556.5,35.2 557,34.8 557.5,34.5 558,34.3 558.5,34 559,33.8 559.5,33.7 560,33.6 560.5,33.5 561,33.4 561.5,33.4 562,33.4 562.5,33.5 563,33.6 563.5,33.7 564,33.9 564.5,34.1 565,34.4 565.5,34.6 566,35 566.5,35.3 567,35.7 567.5,36.1 568,36.6 568.5,37.1 569,37.6 569.5,38.1 570,38.7 570.5,39.3 571,40 571.5,40.6 572,41.3 572.5,42 573,42.8 573.5,43.5 574,44.3 574.5,45.1 575,45.9 575.5,46.8 576,47.6 576.5,48.5 577,49.4 577.5,50.3 578,51.2 578.5,52.1 579,53 579.5,54 580,54.9 580.5,55.8 581,56.8 581.5,57.7 582,58.7 582.5,59.6 583,60.5 583.5,61.5 584,62.4 584.5,63.3 585,64.2 585.5,65.1 586,66 586.5,66.9 587,67.7 587.5,68.5 588,69.4 588.5,70.2 589,70.9 589.5,71.7 590,72.4 590.5,73.1 591,73.8 591.5,74.5 592,75.1 592.5,75.7 593,76.3 593.5,76.8 594,77.3 594.5,77.8 595,78.2 595.5,78.6 596,79 596.5,79.4 597,79.7 597.5,79.9 598,80.2 598.5,80.4 599,80.5 599.5,80.6 600,80.7 600.5,80.8 601,80.8 601.5,80.8 602,80.7 602.5,80.6 603,80.5 603.5,80.3 604,80.1 604.5,79.8 605,79.6 605.5,79.2 606,78.9 606.5,78.5 607,78.1 607.5,77.6 608,77.1 608.5,76.6 609,76.1 609.5,75.5 610,74.9 610.5,74.2 611,73.6 611.5,72.9 612,72.2 612.5,71.4 613,70.7 613.5,69.9 614,69.1 614.5,68.3 615,67.4 615.5,66.6 616,65.7 616.5,64.8 617,63.9 617.5,63 618,62.1 618.5,61.2 619,60.2 619.5,59.3 620,58.4 620.5,57.4 621,56.5 621.5,55.5 622,54.6 622.5,53.7 623,52.7 623.5,51.8 624,50.9 624.5,50 625,49.1 625.5,48.2 626,47.3 626.5,46.5 627,45.7 627.5,44.8 628,44 628.5,43.3 629,42.5 629.5,41.8 630,41.1 630.5,40.4 631,39.7 631.5,39.1 632,38.5 632.5,37.9 633,37.4 633.5,36.9 634,36.4 634.5,36 635,35.6 635.5,35.2 636,34.8 636.5,34.5 637,34.3 637.5,34 638,33.8 638.5,33.7 639,33.6 639.5,33.5 640,33.4 640.5,33.4 641,33.4 641.5,33.5 642,33.6 642.5,33.7 643,33.9 643.5,34.1 644,34.4 644.5,34.6 645,35 645.5,35.3 646,35.7 646.5,36.1 647,36.6 647.5,37.1 648,37.6 648.5,38.1"/>
</g>
<line x1="57.4" y1="134.2" x2="646.6" y2="134.2" stroke="#dcdcdc" stroke-width="1.3"/>
<line x1="57.4" y1="155.6" x2="646.6" y2="155.6" stroke="#dcdcdc" stroke-width="1.3"/>
<line x1="57.4" y1="178.0" x2="646.6" y2="178.0" stroke="#dcdcdc" stroke-width="1.3"/>
<line x1="253.8" y1="122.8" x2="253.8" y2="189.9" stroke="#dcdcdc" stroke-width="1.3"/>
<line x1="450.2" y1="122.8" x2="450.2" y2="189.9" stroke="#dcdcdc" stroke-width="1.3"/>
<line x1="57.4" y1="134.2" x2="63.4" y2="134.2" stroke="#2a2a2a" stroke-width="1.25"/>
<line x1="640.6" y1="134.2" x2="646.6" y2="134.2" stroke="#2a2a2a" stroke-width="1.25"/>
<line x1="57.4" y1="155.6" x2="63.4" y2="155.6" stroke="#2a2a2a" stroke-width="1.25"/>
<line x1="640.6" y1="155.6" x2="646.6" y2="155.6" stroke="#2a2a2a" stroke-width="1.25"/>
<line x1="57.4" y1="178.0" x2="63.4" y2="178.0" stroke="#2a2a2a" stroke-width="1.25"/>
<line x1="640.6" y1="178.0" x2="646.6" y2="178.0" stroke="#2a2a2a" stroke-width="1.25"/>
<line x1="253.8" y1="122.8" x2="253.8" y2="129.8" stroke="#2a2a2a" stroke-width="1.25"/>
<line x1="253.8" y1="182.9" x2="253.8" y2="189.9" stroke="#2a2a2a" stroke-width="1.25"/>
<line x1="450.2" y1="122.8" x2="450.2" y2="129.8" stroke="#2a2a2a" stroke-width="1.25"/>
<line x1="450.2" y1="182.9" x2="450.2" y2="189.9" stroke="#2a2a2a" stroke-width="1.25"/>
<rect x="57.5" y="122.5" width="589.0" height="67.0" fill="none" stroke="#151515" stroke-width="1.15"/>
<clipPath id="c2"><rect x="56.6" y="122.0" width="590.8000000000001" height="68.7"/></clipPath>
<g clip-path="url(#c2)">
<polyline fill="none" stroke="#ff0000" stroke-width="1.6" stroke-linejoin="round" stroke-linecap="round" points="55.4,152.4 55.7,152 56,154.2 56.3,152.9 56.6,154.8 56.9,154.3 57.2,156.4 57.5,155.7 57.8,157.8 58.1,157 58.4,158.7 58.7,157.8 59,159.9 59.3,159 59.6,161.4 59.9,159.8 60.2,162.2 60.5,161.3 60.8,163.7 61.1,162.7 61.4,164.2 61.7,163.3 62,165.6 62.3,165 62.6,167.2 62.9,165.8 63.2,168 63.5,166.8 63.8,168.7 64.1,167.9 64.4,170 64.7,169.4 65,171.2 65.3,169.7 65.6,171.8 65.9,170.9 66.2,172.8 66.5,171.7 66.8,174.1 67.1,173 67.4,175.1 67.7,173.5 68,175.8 68.3,174.2 68.6,176.3 68.9,175 69.2,177.4 69.5,176.2 69.8,178.1 70.1,176.6 70.4,178.4 70.7,177.5 71,179.2 71.3,177.9 71.6,179.9 71.9,178.4 72.2,180.1 72.5,178.8 72.8,180.5 73.1,179.3 73.4,180.5 73.7,179.2 74,181.4 74.3,179.7 74.6,181.8 74.9,180.2 75.2,181.9 75.5,180.4 75.8,182.1 76.1,180.1 76.4,181.9 76.7,179.9 77,182.1 77.3,180.1 77.6,181.5 77.9,180.4 78.2,181.4 78.5,180.4 78.8,181.4 79.1,179.7 79.4,181.1 79.7,179.9 80,181.2 80.3,179.2 80.6,181.3 80.9,179 81.2,180.3 81.5,178.7 81.8,180.3 82.1,178.7 82.4,179.8 82.7,177.9 83,179.2 83.3,177.1 83.6,178.6 83.9,176.6 84.2,177.9 84.5,176.2 84.8,177.2 85.1,175.6 85.4,176.5 85.7,174.5 86,175.9 86.3,173.8 86.6,174.5 86.9,172.9 87.2,173.8 87.5,171.8 87.8,173 88.1,171.2 88.4,172.6 88.7,170.3 89,171.1 89.3,169.3 89.6,170.2 89.9,168.5 90.2,169.2 90.5,166.8 90.8,168.2 91.1,165.9 91.4,167.4 91.7,164.7 92,166.2 92.3,163.6 92.6,165.1 92.9,162.9 93.2,163.7 93.5,161.7 93.8,162.3 94.1,160.3 94.4,161.2 94.7,159.1 95,160.2 95.3,158.3 95.6,158.9 95.9,156.9 96.2,157.9 96.5,155.9 96.8,156.3 97.1,154.4 97.4,155.2 97.7,153 98,154 98.3,152.2 98.6,153.3 98.9,151 99.2,151.5 99.5,149.8 99.8,150.4 100.1,148.7 100.4,149.4 100.7,146.9 101,148 101.3,146.2 101.6,147.3 101.9,144.7 102.2,146.5 102.5,144.3 102.8,145 103.1,142.6 103.4,143.5 103.7,141.8 104,142.6 104.3,140.6 104.6,142.3 104.9,139.9 105.2,140.5 105.5,139.3 105.8,140 106.1,137.8 106.4,138.9 106.7,137.1 107,138.3 107.3,136.6 107.6,137.7 107.9,135.8 108.2,136.7 108.5,134.7 108.8,136.1 109.1,134 109.4,135.4 109.7,133.9 110,134.8 110.3,132.7 110.6,134.3 110.9,132.1 111.2,133.3 111.5,132.1 111.8,133.5 112.1,131.4 112.4,133 112.7,131 113,132.9 113.3,130.7 113.6,132.3 113.9,130.5 114.2,132.2 114.5,130.5 114.8,132 115.1,130.1 115.4,132 115.7,130.2 116,131.3 116.3,130.1 116.6,132 116.9,130 117.2,131.9 117.5,130.3 117.8,131.7 118.1,130.2 118.4,131.7 118.7,130.3 119,132.6 119.3,130.4 119.6,132.2 119.9,131.5 120.2,133.2 120.5,131.6 120.8,133.1 121.1,132 121.4,133.9 121.7,132.7 122,134.2 122.3,132.8 122.6,135 122.9,133.9 123.2,135.6 123.5,134.2 123.8,136 124.1,134.8 124.4,136.5 124.7,135.2 125,137.2 125.3,136.3 125.6,138 125.9,137 126.2,139.5 126.5,137.7 126.8,139.7 127.1,138.8 127.4,141.2 127.7,140.1 128,141.8 128.3,140.6 128.6,143 128.9,141.8 129.2,144 129.5,142.7 129.8,144.8 130.1,143.8 130.4,146 130.7,144.8 131,147.1 131.3,146.2 131.6,148.1 131.9,146.9 132.2,149.1 132.5,148.7 132.8,150.1 133.1,149.2 133.4,152.1 133.7,150.9 134,152.7 134.3,152.2 134.6,154.1 134.9,153.1 135.2,155.5 135.5,154.5 135.8,156.8 136.1,155.5 136.4,157.9 136.7,156.5 137,159.2 137.3,157.9 137.6,160.2 137.9,159.1 138.2,161 138.5,160.3 138.8,162.8 139.1,161.1 139.4,163.2 139.7,162.5 140,164.6 140.3,164.1 140.6,165.6 140.9,164.6 141.2,167.4 141.5,166 141.8,168 142.1,167.1 142.4,169.4 142.7,167.9 143,169.8 143.3,169.4 143.6,171.5 143.9,170.1 144.2,172.3 144.5,170.8 144.8,173.2 145.1,171.8 145.4,174 145.7,173.1 146,174.6 146.3,173.3 146.6,175.2 146.9,174.3 147.2,176.7 147.5,175.5 147.8,176.8 148.1,176 148.4,177.7 148.7,176.6 149,178.4 149.3,176.8 149.6,178.7 149.9,177.4 150.2,179.2 150.5,177.9 150.8,179.9 151.1,178.5 151.4,180 151.7,179.2 152,181 152.3,179.3 152.6,181.4 152.9,180 153.2,181.3 153.5,179.9 153.8,181.2 154.1,179.9 154.4,181.7 154.7,180.5 155,181.6 155.3,180.2 155.6,181.5 155.9,180.5 156.2,181.7 156.5,180.5 156.8,182 157.1,180.1 157.4,182 157.7,179.8 158,181.2 158.3,179.9 158.6,180.8 158.9,179.7 159.2,180.9 159.5,178.9 159.8,180.3 160.1,178.8 160.4,180.3 160.7,177.9 161,179.2 161.3,178.1 161.6,179.3 161.9,177.2 162.2,178.4 162.5,176.5 162.8,178 163.1,176.3 163.4,177.5 163.7,174.9 164,176.3 164.3,174.5 164.6,175.5 164.9,173.6 165.2,174.6 165.5,172.8 165.8,174.3 166.1,172 166.4,173.4 166.7,171.3 167,172.5 167.3,170.4 167.6,170.9 167.9,168.9 168.2,170 168.5,168.4 168.8,168.8 169.1,166.8 169.4,167.7 169.7,166.4 170,167.4 170.3,164.6 170.6,165.8 170.9,164 171.2,165.1 171.5,162.4 171.8,163.7 172.1,161.4 172.4,162.4 172.7,159.9 173,161.3 173.3,159.5 173.6,159.7 173.9,157.8 174.2,159.1 174.5,156.6 174.8,157.9 175.1,155.7 175.4,156.3 175.7,154.5 176,155.1 176.3,153.3 176.6,154.3 176.9,152.2 177.2,152.6 177.5,150.5 177.8,151.6 178.1,149.7 178.4,150.9 178.7,148 179,149.1 179.3,147.5 179.6,148.2 179.9,146 180.2,146.9 180.5,144.9 180.8,146.1 181.1,143.6 181.4,144.7 181.7,142.7 182,143.5 182.3,142.2 182.6,142.5 182.9,141.1 183.2,142.1 183.5,139.9 183.8,140.9 184.1,138.9 184.4,139.7 184.7,138.4 185,138.8 185.3,136.8 185.6,138.1 185.9,136.4 186.2,137.3 186.5,135.3 186.8,136.9 187.1,134.9 187.4,136 187.7,134.2 188,135.4 188.3,133.4 188.6,134.8 188.9,132.6 189.2,134.6 189.5,132.8 189.8,133.6 190.1,132.3 190.4,133.2 190.7,131.3 191,133 191.3,131.1 191.6,132.2 191.9,130.6 192.2,132.3 192.5,130.7 192.8,132.3 193.1,130.8 193.4,131.6 193.7,130 194,131.4 194.3,130.5 194.6,131.7 194.9,129.9 195.2,131.8 195.5,130.5 195.8,131.6 196.1,130.1 196.4,131.7 196.7,130.7 197,131.6 197.3,130.8 197.6,132.6 197.9,131.2 198.2,132.6 198.5,130.8 198.8,133.1 199.1,131.7 199.4,133.4 199.7,132.3 200,133.7 200.3,132.6 200.6,134.6 200.9,132.7 201.2,135 201.5,133.7 201.8,135.7 202.1,133.8 202.4,136 202.7,134.9 203,136.5 203.3,135.9 203.6,137.7 203.9,136.8 204.2,138.4 204.5,137.5 204.8,139.3 205.1,137.8 205.4,140.4 205.7,139 206,140.9 206.3,140 206.6,142.1 206.9,140.6 207.2,142.6 207.5,142 207.8,143.5 208.1,143.1 208.4,145.2 208.7,143.6 209,146.5 209.3,145.4 209.6,147.1 209.9,145.8 210.2,148.3 210.5,147.4 210.8,149.7 211.1,148.1 211.4,150.3 211.7,149.6 212,151.5 212.3,151.1 212.6,153 212.9,152.2 213.2,154.4 213.5,153.3 213.8,155.1 214.1,154.3 214.4,156.3 214.7,156 215,158.2 215.3,157.1 215.6,158.6 215.9,158 216.2,159.7 216.5,158.9 216.8,161 217.1,160.8 217.4,162.9 217.7,161.5 218,164 218.3,162.4 218.6,165 218.9,164.2 219.2,166.1 219.5,165.3 219.8,166.6 220.1,165.8 220.4,168 220.7,166.9 221,169.2 221.3,167.9 221.6,170.4 221.9,168.8 222.2,171.2 222.5,169.9 222.8,172.5 223.1,171.1 223.4,173.1 223.7,172.1 224,174.2 224.3,173.2 224.6,174.8 224.9,173.6 225.2,175.5 225.5,174.8 225.8,176.1 226.1,175 226.4,177.5 226.7,175.7 227,178 227.3,176.6 227.6,178.1 227.9,176.9 228.2,179.1 228.5,177.6 228.8,179.3 229.1,178.1 229.4,179.8 229.7,178.4 230,180.7 230.3,179.1 230.6,181 230.9,179.7 231.2,181.2 231.5,180.1 231.8,181.2 232.1,180.2 232.4,181.3 232.7,180.2 233,181.4 233.3,180.7 233.6,181.7 233.9,179.9 234.2,182.1 234.5,180.4 234.8,181.6 235.1,180.6 235.4,181.7 235.7,180 236,181.9 236.3,180 236.6,181.7 236.9,179.5 237.2,181.4 237.5,179.6 237.8,180.8 238.1,179.4 238.4,180.5 238.7,179.1 239,180 239.3,178.5 239.6,179.5 239.9,178 240.2,178.6 240.5,177.2 240.8,178.4 241.1,176.5 241.4,177.5 241.7,175.9 242,176.9 242.3,175.5 242.6,176.3 242.9,174.3 243.2,175.4 243.5,173.5 243.8,175 244.1,173.2 244.4,173.7 244.7,172.1 245,173.1 245.3,171 245.6,172.1 245.9,170.4 246.2,170.9 246.5,169.3 246.8,170.3 247.1,167.9 247.4,168.9 247.7,166.7 248,167.7 248.3,166.3 248.6,166.8 248.9,164.7 249.2,166.2 249.5,163.7 249.8,164.4 250.1,162.5 250.4,163.1 250.7,161.1 251,162.2 251.3,160.5 251.6,160.9 251.9,158.7 252.2,160.3 252.5,158.1 252.8,159.2 253.1,156.3 253.4,157.4 253.7,155.8 254,156.1 254.3,154.3 254.6,154.9 254.9,153.3 255.2,153.8 255.5,151.5 255.8,152.4 256.1,150.3 256.4,151.5 256.7,149.3 257,150.4 257.3,147.9 257.6,149 257.9,147.3 258.2,148.1 258.5,146 258.8,146.9 259.1,145.1 259.4,145.6 259.7,143.8 260,145.1 260.3,142.4 260.6,143.7 260.9,141.3 261.2,143.2 261.5,140.9 261.8,141.5 262.1,139.5 262.4,141.2 262.7,138.7 263,140.3 263.3,138 263.6,139.1 263.9,137.4 264.2,138.1 264.5,135.9 264.8,137.1 265.1,135.8 265.4,136.3 265.7,134.8 266,136.1 266.3,134.1 266.6,135.7 266.9,133.3 267.2,134.9 267.5,132.8 267.8,134.2 268.1,132.7 268.4,133.3 268.7,131.8 269,133 269.3,131.6 269.6,133 269.9,131 270.2,132.3 270.5,131 270.8,131.9 271.1,130.4 271.4,132.2 271.7,130.7 272,131.6 272.3,130.5 272.6,131.8 272.9,130.3 273.2,132 273.5,130.3 273.8,131.8 274.1,130 274.4,132.1 274.7,130.1 275,132.2 275.3,130.3 275.6,131.6 275.9,130.8 276.2,132.5 276.5,131 276.8,132.7 277.1,131.5 277.4,133 277.7,131.7 278,133.7 278.3,132.4 278.6,133.7 278.9,132.3 279.2,134.2 279.5,133 279.8,134.7 280.1,133.9 280.4,135.3 280.7,133.9 281,136.4 281.3,135.1 281.6,137 281.9,135.4 282.2,137.8 282.5,136.8 282.8,138.1 283.1,136.9 283.4,139 283.7,137.9 284,140.2 284.3,138.7 284.6,140.7 284.9,139.6 285.2,142.3 285.5,141.1 285.8,143.2 286.1,142.3 286.4,144.3 286.7,143 287,145.2 287.3,143.8 287.6,145.7 287.9,144.8 288.2,146.9 288.5,146.5 288.8,148.3 289.1,147.6 289.4,149.6 289.7,148.8 290,150.8 290.3,149.5 290.6,152.2 290.9,151 291.2,152.8 291.5,152 291.8,154.3 292.1,152.9 292.4,155.5 292.7,154.5 293,156.4 293.3,155.5 293.6,157.9 293.9,157.2 294.2,158.8 294.5,158.4 294.8,160.2 295.1,159.4 295.4,161.1 295.7,160.4 296,162.7 296.3,161.8 296.6,164 296.9,163.1 297.2,164.5 297.5,163.7 297.8,166.1 298.1,164.8 298.4,167.5 298.7,166.1 299,168.5 299.3,167.1 299.6,169.3 299.9,168.2 300.2,170.7 300.5,169.4 300.8,171.2 301.1,170.3 301.4,172.4 301.7,171.6 302,173.3 302.3,172.5 302.6,174 302.9,173 303.2,175 303.5,173.7 303.8,175.8 304.1,175 304.4,176.4 304.7,175.1 305,177.2 305.3,175.8 305.6,178 305.9,176.6 306.2,178.7 306.5,176.9 306.8,178.7 307.1,178.2 307.4,179.3 307.7,178.6 308,179.7 308.3,178.4 308.6,180.2 308.9,179.2 309.2,181.2 309.5,179.5 309.8,181 310.1,180 310.4,181.4 310.7,180.2 311,181.6 311.3,180.2 311.6,181.4 311.9,180 312.2,182.3 312.5,180.3 312.8,181.5 313.1,180 313.4,181.7 313.7,180.3 314,181.5 314.3,179.8 314.6,181.8 314.9,180.1 315.2,181.3 315.5,179.8 315.8,181 316.1,179.3 316.4,181.2 316.7,179.5 317,180.7 317.3,178.4 317.6,179.7 317.9,177.8 318.2,179.8 318.5,177.5 318.8,178.6 319.1,177.2 319.4,178.6 319.7,176.5 320,177.4 320.3,175.6 320.6,177 320.9,175.4 321.2,176.2 321.5,174.7 321.8,175.4 322.1,174 322.4,175.1 322.7,173.1 323,173.7 323.3,172 323.6,172.9 323.9,171.1 324.2,172.3 324.5,170.3 324.8,171.5 325.1,169.1 325.4,170.4 325.7,168.1 326,168.6 326.3,166.6 326.6,167.6 326.9,165.6 327.2,167.2 327.5,165 327.8,165.6 328.1,163.6 328.4,164.9 328.7,162.2 329,163.4 329.3,161.3 329.6,162.5 329.9,160.4 330.2,161.5 330.5,158.6 330.8,159.7 331.1,157.6 331.4,158.9 331.7,156.4 332,157.1 332.3,155.7 332.6,156.1 332.9,154.5 333.2,155.1 333.5,152.7 333.8,154 334.1,151.4 334.4,152.7 334.7,150.6 335,151.2 335.3,149 335.6,150.5 335.9,147.8 336.2,149.6 336.5,147.4 336.8,148.1 337.1,145.9 337.4,147.1 337.7,145.2 338,146 338.3,143.6 338.6,144.7 338.9,143 339.2,143.9 339.5,142 339.8,142.6 340.1,141.1 340.4,141.6 340.7,139.9 341,140.9 341.3,138.6 341.6,140 341.9,138 342.2,139.2 342.5,136.9 342.8,138.2 343.1,136 343.4,137.8 343.7,135.5 344,137 344.3,134.6 344.6,135.8 344.9,134.1 345.2,135.4 345.5,133.6 345.8,135.1 346.1,133 346.4,134.3 346.7,132 347,133.9 347.3,131.7 347.6,133.4 347.9,131.2 348.2,132.9 348.5,131.2 348.8,132.8 349.1,131.1 349.4,131.9 349.7,130.7 350,131.8 350.3,130 350.6,131.9 350.9,129.9 351.2,131.8 351.5,130.4 351.8,132 352.1,129.8 352.4,131.4 352.7,129.9 353,131.8 353.3,130.5 353.6,131.7 353.9,130.2 354.2,131.8 354.5,130.5 354.8,132.3 355.1,130.9 355.4,132.3 355.7,130.9 356,133 356.3,131.4 356.6,133.5 356.9,132.2 357.2,134 357.5,132.6 357.8,134.7 358.1,133.1 358.4,134.6 358.7,133.7 359,135.4 359.3,133.9 359.6,136 359.9,134.6 360.2,136.5 360.5,136 360.8,137.5 361.1,136.3 361.4,138.5 361.7,137.4 362,139.2 362.3,137.9 362.6,139.9 362.9,138.8 363.2,141 363.5,139.9 363.8,142.3 364.1,141 364.4,142.8 364.7,142.2 365,143.8 365.3,143.4 365.6,145.1 365.9,144 366.2,146.1 366.5,144.8 366.8,147.7 367.1,146.1 367.4,148.7 367.7,147.6 368,149.8 368.3,149 368.6,150.3 368.9,150.1 369.2,151.8 369.5,150.8 369.8,152.7 370.1,152.2 370.4,154.4 370.7,153 371,155.5 371.3,154.8 371.6,156.3 371.9,155.7 372.2,158.2 372.5,156.7 372.8,159.2 373.1,158.4 373.4,159.9 373.7,159.7 374,161.3 374.3,160.5 374.6,162.4 374.9,161.6 375.2,163.7 375.5,162.6 375.8,165 376.1,163.8 376.4,165.9 376.7,165 377,167.5 377.3,166.6 377.6,168.7 377.9,167.2 378.2,169.8 378.5,168.5 378.8,170.4 379.1,169.2 379.4,171.5 379.7,170.2 380,172.6 380.3,171.5 380.6,173.4 380.9,172.2 381.2,174.5 381.5,172.6 381.8,175 382.1,174 382.4,176.1 382.7,174.3 383,176.8 383.3,175 383.6,177.7 383.9,176.1 384.2,177.8 384.5,177.1 384.8,178.5 385.1,177.6 385.4,179.3 385.7,177.8 386,180 386.3,178.2 386.6,179.9 386.9,178.9 387.2,180.6 387.5,179.2 387.8,181.3 388.1,179.4 388.4,181.1 388.7,180 389,181.5 389.3,180.4 389.6,181.6 389.9,179.8 390.2,182.1 390.5,180.2 390.8,181.9 391.1,180.5 391.4,181.9 391.7,180.3 392,182 392.3,179.9 392.6,182 392.9,180.4 393.2,181.3 393.5,179.8 393.8,181.8 394.1,179.6 394.4,181.4 394.7,179.6 395,180.6 395.3,178.6 395.6,180.7 395.9,178.7 396.2,180.2 396.5,178 396.8,179.7 397.1,177.6 397.4,179.1 397.7,176.7 398,178.3 398.3,176.3 398.6,178.1 398.9,176.2 399.2,176.8 399.5,175.2 399.8,176.3 400.1,174.4 400.4,175.9 400.7,173.8 401,174.5 401.3,173 401.6,173.5 401.9,171.7 402.2,172.5 402.5,170.5 402.8,172.2 403.1,170.3 403.4,171.2 403.7,169.2 404,170 404.3,168.1 404.6,168.7 404.9,166.8 405.2,168.2 405.5,166.1 405.8,166.5 406.1,164.7 406.4,166 406.7,163.7 407,164.8 407.3,162.4 407.6,163.3 407.9,161 408.2,161.9 408.5,160 408.8,160.6 409.1,158.8 409.4,160.2 409.7,158 410,158.3 410.3,156.4 410.6,157.8 410.9,155.2 411.2,156.6 411.5,154.2 411.8,155.4 412.1,153.1 412.4,154 412.7,151.8 413,152.9 413.3,150.9 413.6,151.3 413.9,148.9 414.2,150.5 414.5,148.1 414.8,149 415.1,146.6 415.4,147.7 415.7,146.1 416,146.5 416.3,144.6 416.6,146.1 416.9,144 417.2,144.9 417.5,142.4 417.8,143.4 418.1,141.6 418.4,142.7 418.7,141 419,142 419.3,139.9 419.6,140.4 419.9,138.5 420.2,139.8 420.5,137.6 420.8,139.1 421.1,137.3 421.4,138.1 421.7,135.8 422,137.2 422.3,135.7 422.6,136.9 422.9,135 423.2,135.8 423.5,133.6 423.8,135.6 424.1,133.7 424.4,134.3 424.7,132.8 425,134.3 425.3,132 425.6,133.4 425.9,131.9 426.2,133.1 426.5,131.6 426.8,133 427.1,131 427.4,132.4 427.7,130.5 428,132 428.3,130.4 428.6,132.2 428.9,130.5 429.2,131.4 429.5,130.6 429.8,132 430.1,129.9 430.4,131.9 430.7,130.5 431,131.5 431.3,129.8 431.6,131.8 431.9,130.3 432.2,132.3 432.5,130 432.8,131.9 433.1,130.5 433.4,132.6 433.7,130.6 434,133 434.3,131 434.6,132.6 434.9,131.8 435.2,133.1 435.5,131.9 435.8,133.9 436.1,132.1 436.4,134.1 436.7,133.4 437,134.5 437.3,133.9 437.6,135.9 437.9,134.2 438.2,136 438.5,135 438.8,137.1 439.1,135.9 439.4,137.3 439.7,136.4 440,138.6 440.3,137.7 440.6,139.3 440.9,138.5 441.2,140.2 441.5,138.9 441.8,141.2 442.1,140.2 442.4,142.3 442.7,141.3 443,143.2 443.3,142.2 443.6,144.2 443.9,143 444.2,145.3 444.5,143.9 444.8,146.5 445.1,144.9 445.4,147.1 445.7,146 446,148.6 446.3,147.8 446.6,149.2 446.9,148.9 447.2,150.8 447.5,149.7 447.8,152.3 448.1,150.7 448.4,153.5 448.7,151.9 449,154.7 449.3,153 449.6,155.8 449.9,154.9 450.2,156.8 450.5,155.9 450.8,158.1 451.1,157.2 451.4,159.5 451.7,158.4 452,160.3 452.3,159.7 452.6,161.9 452.9,160.3 453.2,163.1 453.5,162 453.8,163.8 454.1,162.6 454.4,165.4 454.7,164.4 455,166.1 455.3,165.6 455.6,167.6 455.9,166 456.2,168.7 456.5,167.1 456.8,169.4 457.1,168.5 457.4,170.6 457.7,169.5 458,171.8 458.3,170.4 458.6,172.4 458.9,170.9 459.2,173.1 459.5,172.4 459.8,173.8 460.1,172.7 460.4,175.1 460.7,174 461,176.2 461.3,174.3 461.6,176.4 461.9,175.8 462.2,177.7 462.5,175.7 462.8,178 463.1,176.6 463.4,178.2 463.7,177.4 464,178.8 464.3,178.2 464.6,179.3 464.9,178.4 465.2,180.2 465.5,178.9 465.8,180.8 466.1,179.6 466.4,180.7 466.7,179.8 467,181.2 467.3,179.6 467.6,181.2 467.9,179.7 468.2,181.5 468.5,180.4 468.8,181.6 469.1,180.1 469.4,181.4 469.7,180.4 470,181.7 470.3,180.3 470.6,181.7 470.9,180.6 471.2,181.4 471.5,179.7 471.8,181.6 472.1,179.6 472.4,181.7 472.7,179.6 473,181.4 473.3,179.4 473.6,180.6 473.9,178.7 474.2,180.2 474.5,178.8 474.8,179.9 475.1,178.2 475.4,179.8 475.7,177.3 476,179.1 476.3,176.7 476.6,178.1 476.9,176.6 477.2,177.5 477.5,175.7 477.8,176.6 478.1,175.4 478.4,176 478.7,174.6 479,175.2 479.3,173.8 479.6,174.4 479.9,172.7 480.2,173.8 480.5,171.5 480.8,172.7 481.1,170.9 481.4,172.2 481.7,170.3 482,170.9 482.3,169.2 482.6,169.5 482.9,167.5 483.2,169 483.5,166.8 483.8,168.1 484.1,165.3 484.4,166.8 484.7,164.6 485,165.2 485.3,163.1 485.6,164.7 485.9,162.6 486.2,163.2 486.5,161.4 486.8,162.5 487.1,160.1 487.4,160.6 487.7,158.4 488,159.6 488.3,157.9 488.6,158.2 488.9,156.7 489.2,157.3 489.5,155.4 489.8,156.3 490.1,153.6 490.4,154.6 490.7,153.2 491,154 491.3,151.4 491.6,152.9 491.9,150.7 492.2,151.5 492.5,149.4 492.8,149.9 493.1,148.2 493.4,149.3 493.7,146.6 494,148.2 494.3,146 494.6,146.7 494.9,145 495.2,145.5 495.5,143.3 495.8,144.3 496.1,142.2 496.4,144 496.7,141.6 497,142.7 497.3,140.1 497.6,141.8 497.9,139.3 498.2,140.9 498.5,139 498.8,140 499.1,137.6 499.4,138.7 499.7,137.3 500,137.9 500.3,136.1 500.6,137.2 500.9,135.3 501.2,136.5 501.5,134.5 501.8,136.2 502.1,134.4 502.4,135.3 502.7,133.1 503,134.2 503.3,132.8 503.6,134.3 503.9,132.1 504.2,133.5 504.5,132 504.8,132.8 505.1,131.4 505.4,133.1 505.7,130.8 506,132.6 506.3,130.8 506.6,132 506.9,130.7 507.2,131.7 507.5,130.5 507.8,131.4 508.1,130.2 508.4,132 508.7,130.3 509,132 509.3,130.1 509.6,131.9 509.9,129.8 510.2,131.4 510.5,130.4 510.8,131.6 511.1,130.7 511.4,132.3 511.7,131.1 512,132.4 512.3,130.6 512.6,132.6 512.9,131.1 513.2,132.7 513.5,131.4 513.8,133.6 514.1,132 514.4,134.2 514.7,132.5 515,134.5 515.3,133.5 515.6,135.2 515.9,133.9 516.2,135.8 516.5,134.4 516.8,136 517.1,135.1 517.4,137.3 517.7,135.7 518,137.4 518.3,136.6 518.6,138.9 518.9,137.8 519.2,139 519.5,138 519.8,140.4 520.1,139 520.4,141.1 520.7,140.1 521,141.9 521.3,141.4 521.6,143.2 521.9,141.8 522.2,144.2 522.5,143.6 522.8,144.8 523.1,144 523.4,146.2 523.7,145.6 524,147.2 524.3,146.1 524.6,148.6 524.9,147.9 525.2,149.5 525.5,149.1 525.8,151.3 526.1,150 526.4,152 526.7,151.5 527,153.1 527.3,152 527.6,154.7 527.9,153.5 528.2,155.5 528.5,154.3 528.8,156.7 529.1,156.1 529.4,157.8 529.7,157.1 530,159.5 530.3,158.3 530.6,160.7 530.9,159.6 531.2,161.8 531.5,161 531.8,162.8 532.1,162 532.4,163.8 532.7,162.8 533,164.9 533.3,164.1 533.6,166.1 533.9,164.9 534.2,167.1 534.5,166.5 534.8,168.6 535.1,167.6 535.4,169.7 535.7,168 536,170.4 536.3,169.4 536.6,171.1 536.9,170.2 537.2,172.4 537.5,171.3 537.8,173.1 538.1,172.1 538.4,174.3 538.7,172.7 539,175.5 539.3,173.9 539.6,175.6 539.9,174.9 540.2,176.7 540.5,175.2 540.8,177.7 541.1,175.8 541.4,178.3 541.7,176.8 542,178.7 542.3,177.6 542.6,179.3 542.9,178 543.2,179.8 543.5,178.8 543.8,179.8 544.1,178.7 544.4,180.5 544.7,179.5 545,181.4 545.3,180 545.6,181.6 545.9,179.5 546.2,181.1 546.5,179.7 546.8,181.9 547.1,180.4 547.4,182 547.7,179.9 548,181.5 548.3,180.5 548.6,181.6 548.9,180 549.2,181.5 549.5,180.6 549.8,181.4 550.1,179.8 550.4,181.3 550.7,179.5 551,180.9 551.3,179.7 551.6,180.7 551.9,179.6 552.2,180.5 552.5,178.9 552.8,180.1 553.1,178.7 553.4,180.2 553.7,178 554,179 554.3,177.8 554.6,178.9 554.9,177.2 555.2,177.9 555.5,176.7 555.8,177.5 556.1,175.6 556.4,176.9 556.7,175.2 557,175.9 557.3,174.4 557.6,175.7 557.9,173.8 558.2,174.2 558.5,172.9 558.8,173.7 559.1,172.1 559.4,172.6 559.7,170.9 560,171.8 560.3,169.8 560.6,171.1 560.9,169 561.2,169.5 561.5,167.5 561.8,168.6 562.1,167 562.4,167.3 562.7,165.2 563,166.8 563.3,164.4 563.6,165.2 563.9,163.1 564.2,164 564.5,162.1 564.8,163.5 565.1,161.1 565.4,161.8 565.7,159.5 566,160.5 566.3,158.9 566.6,159.8 566.9,157.4 567.2,158.2 567.5,156.5 567.8,157.2 568.1,154.7 568.4,156.5 568.7,154.2 569,155.2 569.3,152.8 569.6,153.4 569.9,151.6 570.2,152.1 570.5,150.1 570.8,151.4 571.1,149.4 571.4,149.7 571.7,147.8 572,149.4 572.3,147.2 572.6,148.2 572.9,145.7 573.2,146.5 573.5,144.4 573.8,145.8 574.1,143.7 574.4,144.6 574.7,142.7 575,143.6 575.3,141.7 575.6,142.4 575.9,140.2 576.2,141.8 576.5,139.4 576.8,140.9 577.1,138.4 577.4,139.8 577.7,137.6 578,138.5 578.3,137.3 578.6,137.8 578.9,135.8 579.2,137.6 579.5,135.5 579.8,136.9 580.1,134.3 580.4,135.5 580.7,133.9 581,135 581.3,133.1 581.6,134.5 581.9,132.8 582.2,134.1 582.5,132.4 582.8,133.8 583.1,131.7 583.4,132.8 583.7,131.3 584,132.7 584.3,130.7 584.6,132.8 584.9,131.1 585.2,132.4 585.5,130.4 585.8,132 586.1,130.7 586.4,132.1 586.7,130.1 587,131.8 587.3,129.7 587.6,131.4 587.9,130.2 588.2,131.3 588.5,130.4 588.8,132.2 589.1,130.4 589.4,132.2 589.7,130.1 590,132.1 590.3,130.4 590.6,132.1 590.9,131.3 591.2,132.4 591.5,131.6 591.8,132.7 592.1,132.1 592.4,133.1 592.7,132.5 593,134 593.3,132.8 593.6,134.9 593.9,133.1 594.2,135.4 594.5,133.6 594.8,136 595.1,134 595.4,136.2 595.7,135.3 596,136.7 596.3,135.5 596.6,137.6 596.9,136.2 597.2,138.8 597.5,137.2 597.8,139.1 598.1,138 598.4,140 598.7,139 599,140.9 599.3,139.8 599.6,141.9 599.9,141.5 600.2,143.2 600.5,142.5 600.8,143.9 601.1,143.4 601.4,145 601.7,144.3 602,146.6 602.3,145.4 602.6,147.6 602.9,146.8 603.2,148.6 603.5,147.6 603.8,150.2 604.1,148.8 604.4,151.4 604.7,150.1 605,152.2 605.3,151 605.6,153 605.9,152.1 606.2,154.8 606.5,153.9 606.8,155.9 607.1,154.9 607.4,156.7 607.7,156.2 608,157.8 608.3,156.8 608.6,159.6 608.9,158.2 609.2,160.3 609.5,159.4 609.8,161.5 610.1,160.8 610.4,162.5 610.7,161.6 611,163.9 611.3,162.9 611.6,164.9 611.9,164.5 612.2,166.5 612.5,165.2 612.8,167.5 613.1,166.5 613.4,168.6 613.7,167.1 614,169.8 614.3,168.3 614.6,170.5 614.9,169.6 615.2,171.9 615.5,170.7 615.8,172.6 616.1,171.7 616.4,173.4 616.7,172.6 617,174.6 617.3,172.9 617.6,175 617.9,173.8 618.2,176.2 618.5,174.5 618.8,176.9 619.1,175.8 619.4,177.5 619.7,176.4 620,178.1 620.3,177.2 620.6,178.3 620.9,177.1 621.2,179.2 621.5,178 621.8,179.9 622.1,178.9 622.4,180.4 622.7,178.7 623,180.3 623.3,179 623.6,181 623.9,179.6 624.2,181.1 624.5,180.2 624.8,181.3 625.1,180.3 625.4,181.9 625.7,180.1 626,182.2 626.3,180.6 626.6,182.1 626.9,180.2 627.2,181.8 627.5,180.1 627.8,181.5 628.1,180 628.4,181.5 628.7,180.1 629,181.7 629.3,180.1 629.6,181.7 629.9,180 630.2,181.4 630.5,178.9 630.8,181 631.1,179 631.4,180.6 631.7,178.4 632,180.3 632.3,177.9 632.6,179 632.9,177.5 633.2,178.5 633.5,176.9 633.8,177.9 634.1,176.4 634.4,177.8 634.7,176.1 635,176.7 635.3,175.3 635.6,176 635.9,174.3 636.2,174.9 636.5,173.5 636.8,174.6 637.1,172.5 637.4,173.3 637.7,171.7 638,172.3 638.3,171 638.6,171.7 638.9,170 639.2,170.8 639.5,169 639.8,170 640.1,167.4 640.4,169 640.7,166.4 641,167.7 641.3,165.2 641.6,166.2 641.9,164.8 642.2,165.3 642.5,162.9 642.8,164.3 643.1,162.1 643.4,162.9 643.7,160.9 644,162.2 644.3,159.8 644.6,160.4 644.9,158.7 645.2,159.5 645.5,157.8 645.8,158 646.1,156.1 646.4,156.8 646.7,155.2 647,156.1 647.3,153.6 647.6,154.6 647.9,153 648.2,153.9 648.5,151.3"/>
<polyline fill="none" stroke="#008000" stroke-width="1.6" stroke-linejoin="round" stroke-linecap="round" points="55.4,137.5 55.7,135.2 56,136.7 56.3,135 56.6,135.6 56.9,133.7 57.2,135.1 57.5,133.3 57.8,134.8 58.1,132.8 58.4,133.7 58.7,132.2 59,133.6 59.3,132 59.6,133.1 59.9,131.4 60.2,132.4 60.5,131.2 60.8,132.2 61.1,130.8 61.4,131.9 61.7,130.6 62,131.9 62.3,130.6 62.6,131.6 62.9,130.2 63.2,131.8 63.5,129.8 63.8,131.8 64.1,130.1 64.4,132.1 64.7,129.8 65,131.8 65.3,130.3 65.6,132.3 65.9,130.5 66.2,132.4 66.5,130.9 66.8,132.1 67.1,131.1 67.4,132.6 67.7,131.4 68,132.7 68.3,132 68.6,133 68.9,131.7 69.2,134.1 69.5,132.3 69.8,134.5 70.1,133 70.4,134.9 70.7,133.5 71,135.5 71.3,134 71.6,136 71.9,135.1 72.2,137.2 72.5,135.7 72.8,137.9 73.1,136.4 73.4,138.4 73.7,137.4 74,139 74.3,138.3 74.6,140.6 74.9,139.5 75.2,141.5 75.5,139.8 75.8,142.4 76.1,141.4 76.4,143.4 76.7,141.7 77,144 77.3,143.4 77.6,144.9 77.9,144.4 78.2,146.1 78.5,145.7 78.8,147.2 79.1,146.5 79.4,148.7 79.7,147.1 80,149.3 80.3,148.4 80.6,151.2 80.9,149.5 81.2,152 81.5,151.2 81.8,153 82.1,152.4 82.4,154.2 82.7,153.6 83,155.5 83.3,155 83.6,156.5 83.9,155.9 84.2,157.6 84.5,156.8 84.8,159.4 85.1,158.5 85.4,160.6 85.7,159 86,161.8 86.3,160.8 86.6,162.9 86.9,161.6 87.2,164.2 87.5,163 87.8,164.9 88.1,164.2 88.4,165.8 88.7,164.9 89,167.5 89.3,166.3 89.6,168.4 89.9,167 90.2,169 90.5,168.1 90.8,170.3 91.1,169.4 91.4,171.4 91.7,170.5 92,172.3 92.3,171.3 92.6,173.2 92.9,172.5 93.2,173.8 93.5,173.3 93.8,175.1 94.1,174.3 94.4,175.5 94.7,174.4 95,176.2 95.3,175.8 95.6,177.2 95.9,176 96.2,178.2 96.5,176.7 96.8,178.6 97.1,177.5 97.4,178.8 97.7,177.7 98,180 98.3,178 98.6,180 98.9,178.9 99.2,180.4 99.5,179 99.8,181.1 100.1,179.8 100.4,181 100.7,179.5 101,181.6 101.3,180.3 101.6,181.5 101.9,180.2 102.2,182 102.5,180 102.8,182.1 103.1,180.6 103.4,181.5 103.7,180.2 104,182 104.3,180.6 104.6,181.7 104.9,179.8 105.2,181.8 105.5,179.6 105.8,181.4 106.1,179.7 106.4,181.2 106.7,179.2 107,180.5 107.3,178.8 107.6,180.2 107.9,178.2 108.2,179.7 108.5,177.9 108.8,179.7 109.1,177.4 109.4,179 109.7,176.7 110,177.9 110.3,176.5 110.6,178 110.9,175.7 111.2,176.8 111.5,175.2 111.8,176 112.1,174.7 112.4,175.6 112.7,173.9 113,174.8 113.3,173 113.6,173.4 113.9,171.8 114.2,172.5 114.5,171.2 114.8,172.3 115.1,169.5 115.4,171 115.7,168.7 116,169.6 116.3,168.2 116.6,168.6 116.9,166.8 117.2,168 117.5,165.7 117.8,166.6 118.1,164.9 118.4,165.3 118.7,163.5 119,164.2 119.3,162.4 119.6,163.4 119.9,161.3 120.2,162.5 120.5,159.9 120.8,161.3 121.1,158.8 121.4,159.8 121.7,157.2 122,158.4 122.3,156.2 122.6,157.5 122.9,155.4 123.2,156 123.5,154.1 123.8,154.6 124.1,152.9 124.4,153.5 124.7,151.3 125,152.9 125.3,150.8 125.6,151.5 125.9,149.1 126.2,150 126.5,147.8 126.8,148.9 127.1,147.2 127.4,147.5 127.7,145.6 128,147.2 128.3,144.6 128.6,146.1 128.9,143.8 129.2,144.4 129.5,142.2 129.8,143.4 130.1,141.3 130.4,142.6 130.7,140.6 131,141.8 131.3,139.4 131.6,141 131.9,138.3 132.2,139.9 132.5,137.9 132.8,139 133.1,137.1 133.4,138.4 133.7,136 134,137 134.3,135.1 134.6,136.8 134.9,134.2 135.2,136.3 135.5,134 135.8,134.9 136.1,133.7 136.4,134.2 136.7,133.1 137,134.3 137.3,132.7 137.6,133.5 137.9,131.7 138.2,132.9 138.5,131.3 138.8,132.9 139.1,131 139.4,132 139.7,130.7 140,131.8 140.3,130.9 140.6,132.3 140.9,130 141.2,132.2 141.5,130.5 141.8,131.6 142.1,130.4 142.4,131.5 142.7,130.4 143,131.7 143.3,129.9 143.6,132.2 143.9,130 144.2,131.9 144.5,130.6 144.8,132 145.1,130.6 145.4,132.5 145.7,131.1 146,132.7 146.3,131.6 146.6,132.6 146.9,131.4 147.2,133.2 147.5,131.8 147.8,134.3 148.1,132.8 148.4,134.2 148.7,133.1 149,134.8 149.3,134.1 149.6,135.6 149.9,134.7 150.2,136.3 150.5,135.3 150.8,137.1 151.1,135.6 151.4,137.4 151.7,136.2 152,138.7 152.3,137.3 152.6,139.5 152.9,138.5 153.2,139.9 153.5,139.1 153.8,141.1 154.1,139.8 154.4,142 154.7,140.9 155,143.4 155.3,142 155.6,144.3 155.9,143.4 156.2,145.7 156.5,144.4 156.8,146.2 157.1,145.1 157.4,147.8 157.7,146.5 158,148.2 158.3,147.6 158.6,150.1 158.9,148.4 159.2,150.7 159.5,149.7 159.8,152.3 160.1,150.8 160.4,153.6 160.7,152.2 161,154.4 161.3,153.6 161.6,155.8 161.9,154.9 162.2,156.9 162.5,156.3 162.8,157.9 163.1,157.5 163.4,158.9 163.7,158.7 164,160.1 164.3,159.8 164.6,161.4 164.9,160.4 165.2,162.9 165.5,162.3 165.8,163.7 166.1,162.8 166.4,165.3 166.7,164.3 167,165.9 167.3,165.4 167.6,167.2 167.9,166.6 168.2,168.9 168.5,167.2 168.8,169.7 169.1,168.4 169.4,170.8 169.7,169.2 170,171.6 170.3,170.5 170.6,172.3 170.9,171.4 171.2,173.2 171.5,172.6 171.8,174.6 172.1,173.5 172.4,175 172.7,173.6 173,176.1 173.3,174.7 173.6,176.3 173.9,175.9 174.2,177 174.5,176.5 174.8,177.8 175.1,177.2 175.4,178.3 175.7,177 176,179.6 176.3,177.8 176.6,179.9 176.9,178.6 177.2,180.1 177.5,179 177.8,180.8 178.1,179.5 178.4,180.8 178.7,179.9 179,181.4 179.3,179.4 179.6,181.6 179.9,180.3 180.2,181.4 180.5,180.1 180.8,181.8 181.1,180.4 181.4,181.4 181.7,180.6 182,181.6 182.3,180.2 182.6,182 182.9,180 183.2,182 183.5,180.3 183.8,181.8 184.1,180.2 184.4,181.1 184.7,179.9 185,180.9 185.3,179.4 185.6,180.9 185.9,179.3 186.2,180.1 186.5,178.5 186.8,179.8 187.1,177.7 187.4,179 187.7,177.9 188,178.8 188.3,177.3 188.6,178.4 188.9,176.4 189.2,177.6 189.5,175.6 189.8,177 190.1,175 190.4,176 190.7,174.1 191,175 191.3,173.6 191.6,174.6 191.9,172.7 192.2,173.8 192.5,171.4 192.8,173 193.1,170.6 193.4,171.7 193.7,169.8 194,171 194.3,168.4 194.6,170.1 194.9,167.6 195.2,169 195.5,167.1 195.8,167.6 196.1,165.2 196.4,166.8 196.7,164.3 197,165.8 197.3,163.5 197.6,163.9 197.9,162.1 198.2,163.1 198.5,161.1 198.8,161.7 199.1,160.1 199.4,161 199.7,158.3 200,159.2 200.3,157.4 200.6,158.2 200.9,156.2 201.2,157 201.5,154.7 201.8,155.9 202.1,153.8 202.4,154.8 202.7,152.5 203,153.8 203.3,151.6 203.6,152 203.9,150.7 204.2,151.1 204.5,148.9 204.8,150.1 205.1,148 205.4,148.5 205.7,147 206,147.8 206.3,145.5 206.6,146.9 206.9,144.7 207.2,145.8 207.5,143.9 207.8,144.5 208.1,142.3 208.4,143.8 208.7,141.1 209,142.7 209.3,140.3 209.6,141.5 209.9,139.5 210.2,140.4 210.5,138.2 210.8,139.6 211.1,137.9 211.4,139.1 211.7,136.8 212,137.9 212.3,135.7 212.6,136.8 212.9,135.6 213.2,136.5 213.5,135 213.8,136.1 214.1,133.5 214.4,135 214.7,133 215,134.5 215.3,132.7 215.6,134 215.9,131.9 216.2,133.4 216.5,131.4 216.8,133 217.1,131.6 217.4,133.2 217.7,131.4 218,132.1 218.3,130.6 218.6,132.5 218.9,130.2 219.2,132.1 219.5,130.7 219.8,131.4 220.1,130 220.4,132 220.7,129.7 221,131.6 221.3,130.1 221.6,131.5 221.9,130.5 222.2,131.9 222.5,130.1 222.8,131.5 223.1,130.4 223.4,132.4 223.7,130.5 224,132.2 224.3,131.4 224.6,132.4 224.9,131.6 225.2,132.9 225.5,131.7 225.8,133.4 226.1,132.4 226.4,133.8 226.7,132.9 227,134.7 227.3,132.9 227.6,135.4 227.9,133.9 228.2,135.9 228.5,134.7 228.8,136.2 229.1,135.2 229.4,136.9 229.7,136.1 230,138.2 230.3,136.7 230.6,138.8 230.9,137.7 231.2,139.6 231.5,138.2 231.8,140.7 232.1,139.5 232.4,141.7 232.7,139.9 233,142 233.3,141.3 233.6,143.2 233.9,141.8 234.2,144.4 234.5,143.6 234.8,145.3 235.1,144.1 235.4,146.1 235.7,145.2 236,147.7 236.3,146.3 236.6,148.4 236.9,147.3 237.2,149.7 237.5,148.7 237.8,150.8 238.1,150.4 238.4,151.8 238.7,151.2 239,153.7 239.3,152.3 239.6,154.2 239.9,154 240.2,156.2 240.5,154.9 240.8,157.3 241.1,155.8 241.4,158.4 241.7,156.9 242,159.3 242.3,158.6 242.6,160.2 242.9,159.2 243.2,161.4 243.5,160.5 243.8,162.6 244.1,161.9 244.4,164.4 244.7,163 245,165.3 245.3,164.2 245.6,166 245.9,165 246.2,167.6 246.5,166.1 246.8,168.8 247.1,167.7 247.4,169.8 247.7,168.5 248,170.4 248.3,169.5 248.6,172 248.9,170.9 249.2,172.7 249.5,171.5 249.8,173.5 250.1,172.2 250.4,174.1 250.7,173.6 251,174.9 251.3,174.1 251.6,176.1 251.9,174.8 252.2,177 252.5,175.7 252.8,177.1 253.1,176.2 253.4,178.3 253.7,176.9 254,178.3 254.3,177.5 254.6,179.4 254.9,178.1 255.2,180.1 255.5,178.7 255.8,180.4 256.1,179 256.4,180.3 256.7,179.5 257,180.7 257.3,179.5 257.6,181.6 257.9,179.6 258.2,181.6 258.5,180.4 258.8,181.8 259.1,180 259.4,181.6 259.7,180.3 260,181.8 260.3,180.3 260.6,181.5 260.9,180.3 261.2,181.6 261.5,180.2 261.8,181.3 262.1,180.2 262.4,181.2 262.7,179.7 263,181.7 263.3,179.4 263.6,180.9 263.9,179.4 264.2,180.8 264.5,179.2 264.8,179.9 265.1,178.2 265.4,179.8 265.7,177.9 266,179.3 266.3,177.7 266.6,178.4 266.9,176.9 267.2,178.2 267.5,176.7 267.8,177.2 268.1,175.3 268.4,177 268.7,175.2 269,176 269.3,174 269.6,175.6 269.9,173.7 270.2,174.6 270.5,172.4 270.8,173.8 271.1,171.9 271.4,172.6 271.7,170.5 272,171.6 272.3,169.7 272.6,170.7 272.9,168.7 273.2,170 273.5,167.5 273.8,168.4 274.1,166.5 274.4,167.2 274.7,165.7 275,166.7 275.3,164.2 275.6,165.8 275.9,163.5 276.2,164.3 276.5,162 276.8,163.3 277.1,160.6 277.4,161.8 277.7,160.1 278,160.5 278.3,158.4 278.6,159.2 278.9,157.6 279.2,158.6 279.5,155.8 279.8,157.1 280.1,154.8 280.4,155.8 280.7,154 281,154.8 281.3,152.9 281.6,153.5 281.9,151.3 282.2,152.7 282.5,149.9 282.8,150.9 283.1,149.1 283.4,149.6 283.7,148.3 284,149.3 284.3,147 284.6,147.6 284.9,145.4 285.2,146.4 285.5,144.6 285.8,145.2 286.1,143.2 286.4,144.3 286.7,142.7 287,143.3 287.3,141.3 287.6,142.4 287.9,140.5 288.2,141.3 288.5,139.6 288.8,140.5 289.1,138.6 289.4,139.8 289.7,137.8 290,138.4 290.3,137.2 290.6,137.8 290.9,135.6 291.2,137.1 291.5,135.3 291.8,136 292.1,134.5 292.4,135.3 292.7,134.1 293,134.9 293.3,133.4 293.6,134.2 293.9,133 294.2,133.6 294.5,132.2 294.8,133.3 295.1,131.5 295.4,133.3 295.7,131.4 296,133.1 296.3,131.2 296.6,132 296.9,130.4 297.2,132.5 297.5,130.9 297.8,131.9 298.1,130.7 298.4,131.9 298.7,129.9 299,131.4 299.3,129.9 299.6,131.7 299.9,130.4 300.2,131.5 300.5,130.4 300.8,131.5 301.1,130.3 301.4,131.6 301.7,130.1 302,132 302.3,130.8 302.6,132.6 302.9,131.3 303.2,132.4 303.5,131.2 303.8,133.2 304.1,131.7 304.4,133.7 304.7,132.1 305,134.1 305.3,132.4 305.6,134.7 305.9,132.9 306.2,135 306.5,133.6 306.8,135.9 307.1,134.9 307.4,136.4 307.7,134.8 308,137 308.3,136 308.6,137.7 308.9,136.4 309.2,138.6 309.5,137.8 309.8,139.7 310.1,138 310.4,140.5 310.7,139.7 311,141 311.3,140.5 311.6,142.5 311.9,140.9 312.2,143.6 312.5,142.6 312.8,144.5 313.1,143.1 313.4,145.4 313.7,144.7 314,146.5 314.3,145.6 314.6,147.5 314.9,147 315.2,148.6 315.5,147.6 315.8,149.7 316.1,148.8 316.4,151 316.7,150.3 317,152.5 317.3,150.9 317.6,153.6 317.9,152.3 318.2,154.6 318.5,153.4 318.8,156.2 319.1,154.8 319.4,157.2 319.7,156.4 320,157.9 320.3,157.2 320.6,159.3 320.9,158.7 321.2,160.7 321.5,160.1 321.8,161.9 322.1,160.7 322.4,163.2 322.7,162.4 323,163.8 323.3,162.9 323.6,165.6 323.9,164 324.2,166.5 324.5,165.6 324.8,167.8 325.1,166.6 325.4,169 325.7,167.6 326,169.2 326.3,169 326.6,171 326.9,169.8 327.2,171.4 327.5,171 327.8,172.5 328.1,171.1 328.4,173.1 328.7,172.2 329,174.3 329.3,173 329.6,175.5 329.9,173.7 330.2,175.8 330.5,174.7 330.8,176.5 331.1,175.8 331.4,177.2 331.7,175.9 332,178.5 332.3,176.7 332.6,178.5 332.9,177.8 333.2,179.5 333.5,178 333.8,180.1 334.1,178.3 334.4,180.1 334.7,178.9 335,180.9 335.3,179.3 335.6,180.6 335.9,179.7 336.2,181.5 336.5,179.8 336.8,181.8 337.1,179.9 337.4,181.8 337.7,180 338,181.6 338.3,180.6 338.6,181.5 338.9,180.4 339.2,181.8 339.5,180.5 339.8,182.1 340.1,180.5 340.4,181.3 340.7,180.1 341,181.4 341.3,180.3 341.6,181.3 341.9,179.6 342.2,181.3 342.5,179.2 342.8,180.4 343.1,178.5 343.4,180.6 343.7,178.2 344,179.7 344.3,178.3 344.6,179.6 344.9,177.2 345.2,178.9 345.5,177.3 345.8,178.1 346.1,176.6 346.4,177.9 346.7,175.8 347,177.1 347.3,174.7 347.6,176.1 347.9,173.9 348.2,175.1 348.5,173.7 348.8,174.7 349.1,172.5 349.4,173.2 349.7,171.6 350,172.8 350.3,170.4 350.6,171.9 350.9,169.9 351.2,170.3 351.5,168.3 351.8,169.7 352.1,167.8 352.4,168.3 352.7,166.2 353,167.2 353.3,165.2 353.6,166.6 353.9,164.6 354.2,165.7 354.5,162.9 354.8,163.8 355.1,162.1 355.4,163 355.7,161 356,162.2 356.3,159.8 356.6,160.8 356.9,158.2 357.2,159.8 357.5,157.2 357.8,158.7 358.1,156.2 358.4,157.3 358.7,155.3 359,155.8 359.3,153.9 359.6,154.7 359.9,152.9 360.2,153.1 360.5,151.3 360.8,152.7 361.1,149.8 361.4,151.1 361.7,149.2 362,150.1 362.3,148 362.6,148.5 362.9,146.7 363.2,147.3 363.5,145.9 363.8,146.8 364.1,144.6 364.4,145.1 364.7,143.4 365,144.1 365.3,141.9 365.6,143.3 365.9,141.2 366.2,142.7 366.5,140.3 366.8,141.6 367.1,139.4 367.4,140.7 367.7,138.4 368,139.5 368.3,137.2 368.6,138.7 368.9,136.9 369.2,138.2 369.5,135.9 369.8,137.3 370.1,135.2 370.4,136.4 370.7,134.2 371,135.4 371.3,133.5 371.6,135.2 371.9,133 372.2,134.9 372.5,132.5 372.8,133.6 373.1,131.9 373.4,133.7 373.7,131.3 374,132.9 374.3,131.1 374.6,132.9 374.9,130.9 375.2,132.6 375.5,130.9 375.8,132.1 376.1,130.4 376.4,132.3 376.7,130.1 377,131.4 377.3,129.9 377.6,131.9 377.9,129.9 378.2,131.9 378.5,130 378.8,131.8 379.1,130.5 379.4,131.8 379.7,130 380,132.3 380.3,130.7 380.6,132.3 380.9,130.9 381.2,132.5 381.5,131.1 381.8,132.5 382.1,131.3 382.4,133 382.7,131.8 383,133.8 383.3,132.1 383.6,133.8 383.9,132.9 384.2,134.6 384.5,133.6 384.8,135.4 385.1,133.7 385.4,135.4 385.7,134.9 386,136 386.3,135.2 386.6,136.9 386.9,136 387.2,137.9 387.5,136.5 387.8,138.8 388.1,138 388.4,139.4 388.7,138.2 389,140.7 389.3,139.1 389.6,141.6 389.9,140.6 390.2,142.2 390.5,141.5 390.8,143.2 391.1,142.3 391.4,144.2 391.7,143.2 392,145.1 392.3,144.3 392.6,146.4 392.9,145.3 393.2,148 393.5,146.7 393.8,148.4 394.1,148.2 394.4,150.2 394.7,149.2 395,151.2 395.3,149.9 395.6,152.6 395.9,151 396.2,153.6 396.5,152.7 396.8,154.7 397.1,153.8 397.4,155.8 397.7,154.5 398,157.4 398.3,156.3 398.6,158.7 398.9,157 399.2,159.5 399.5,158.5 399.8,160.7 400.1,159.7 400.4,162.1 400.7,160.7 401,162.7 401.3,162.5 401.6,164.3 401.9,163.4 402.2,165.6 402.5,164.8 402.8,166.3 403.1,165.4 403.4,167.8 403.7,166.7 404,168.7 404.3,167.8 404.6,169.5 404.9,168.8 405.2,170.9 405.5,169.6 405.8,171.4 406.1,170.6 406.4,173 406.7,171.7 407,173.9 407.3,172.3 407.6,174.4 407.9,173.7 408.2,175.3 408.5,174.3 408.8,176.5 409.1,174.6 409.4,176.9 409.7,175.5 410,177.8 410.3,175.9 410.6,178.3 410.9,177 411.2,178.5 411.5,177.3 411.8,179 412.1,178.4 412.4,180.1 412.7,178.3 413,180.2 413.3,178.7 413.6,181 413.9,179.4 414.2,180.6 414.5,179.9 414.8,181.2 415.1,180.1 415.4,181.2 415.7,180.2 416,181.7 416.3,180.1 416.6,182.1 416.9,180.2 417.2,182.3 417.5,180.6 417.8,181.9 418.1,180.4 418.4,181.7 418.7,180.5 419,181.7 419.3,179.9 419.6,181.2 419.9,180.2 420.2,180.9 420.5,179.6 420.8,181.3 421.1,179.7 421.4,180.2 421.7,178.6 422,180.1 422.3,178.5 422.6,180 422.9,178.2 423.2,179.7 423.5,177.6 423.8,178.7 424.1,176.5 424.4,178.2 424.7,176.5 425,177.3 425.3,175.3 425.6,176.6 425.9,175 426.2,175.6 426.5,174.5 426.8,174.9 427.1,173.4 427.4,174.8 427.7,172.4 428,173.1 428.3,171.5 428.6,172.4 428.9,170.2 429.2,172 429.5,169.5 429.8,170.8 430.1,168.7 430.4,169.3 430.7,167.4 431,168.2 431.3,166.5 431.6,167.7 431.9,165.6 432.2,166.6 432.5,164.5 432.8,165.4 433.1,163.4 433.4,164.1 433.7,162.1 434,162.6 434.3,160.7 434.6,161.4 434.9,159.5 435.2,160.6 435.5,158.2 435.8,159.3 436.1,157.6 436.4,158.1 436.7,155.9 437,156.6 437.3,155.1 437.6,155.5 437.9,153.4 438.2,154.4 438.5,152.7 438.8,153.5 439.1,151.4 439.4,152.3 439.7,149.8 440,151.1 440.3,148.6 440.6,149.6 440.9,147.5 441.2,148.8 441.5,146.7 441.8,147.7 442.1,145.3 442.4,146.2 442.7,144.6 443,145.4 443.3,143.5 443.6,144.3 443.9,142.4 444.2,143.3 444.5,141.5 444.8,142.4 445.1,140.1 445.4,141.3 445.7,139.4 446,140.1 446.3,138.1 446.6,139.9 446.9,137.3 447.2,138.5 447.5,136.4 447.8,137.8 448.1,136.1 448.4,137 448.7,135.6 449,136 449.3,134.4 449.6,136 449.9,133.4 450.2,135.2 450.5,133.4 450.8,134 451.1,132.4 451.4,133.5 451.7,131.9 452,133.7 452.3,132 452.6,133.2 452.9,131.3 453.2,132.5 453.5,130.7 453.8,132.2 454.1,130.6 454.4,131.8 454.7,130.1 455,132.1 455.3,130.3 455.6,131.4 455.9,129.8 456.2,131.7 456.5,129.8 456.8,132.1 457.1,130.1 457.4,131.7 457.7,130.4 458,131.8 458.3,130.4 458.6,131.6 458.9,130.8 459.2,132.4 459.5,130.4 459.8,132.4 460.1,130.6 460.4,132.8 460.7,131.5 461,133.3 461.3,131.6 461.6,133.8 461.9,131.8 462.2,133.9 462.5,133 462.8,134.6 463.1,133.4 463.4,135.2 463.7,133.6 464,135.6 464.3,134.5 464.6,136.8 464.9,135 465.2,136.8 465.5,136.2 465.8,137.9 466.1,136.7 466.4,138.7 466.7,137.8 467,139.6 467.3,138.4 467.6,140.2 467.9,139.5 468.2,141.8 468.5,140.3 468.8,142.7 469.1,141.2 469.4,143.8 469.7,142.8 470,144.1 470.3,143.8 470.6,145.4 470.9,144.9 471.2,146.8 471.5,145.4 471.8,148 472.1,146.8 472.4,148.8 472.7,148.1 473,150.4 473.3,148.8 473.6,151.5 473.9,150.3 474.2,152 474.5,151.8 474.8,153.2 475.1,152.3 475.4,154.5 475.7,153.8 476,156.2 476.3,154.8 476.6,157.2 476.9,156.1 477.2,158.3 477.5,157.2 477.8,159.3 478.1,158.9 478.4,160.6 478.7,159.7 479,161.8 479.3,161.4 479.6,163.5 479.9,162.5 480.2,164.1 480.5,163 480.8,165.7 481.1,164.4 481.4,166.7 481.7,165.7 482,167.8 482.3,166.8 482.6,168.6 482.9,167.6 483.2,169.8 483.5,168.4 483.8,170.6 484.1,170 484.4,172 484.7,171.1 485,172.5 485.3,171.4 485.6,173.2 485.9,172.9 486.2,174.7 486.5,173.5 486.8,175 487.1,174.5 487.4,176.3 487.7,175.1 488,177 488.3,175.3 488.6,178 488.9,176.2 489.2,178.1 489.5,176.8 489.8,179.2 490.1,177.3 490.4,179.4 490.7,177.7 491,180.2 491.3,178.6 491.6,180.3 491.9,179 492.2,180.4 492.5,179 492.8,181.4 493.1,180 493.4,181.1 493.7,179.6 494,181.2 494.3,180.3 494.6,181.7 494.9,180.1 495.2,182.1 495.5,180.5 495.8,181.7 496.1,180.6 496.4,181.7 496.7,180.1 497,181.7 497.3,180.1 497.6,181.8 497.9,180 498.2,181.4 498.5,179.8 498.8,181.6 499.1,179.7 499.4,180.7 499.7,179.5 500,180.4 500.3,179.2 500.6,180.6 500.9,178.7 501.2,180 501.5,177.9 501.8,179.7 502.1,177.6 502.4,179 502.7,177.2 503,177.9 503.3,176.2 503.6,177.7 503.9,175.4 504.2,176.9 504.5,174.8 504.8,175.6 505.1,174.3 505.4,175 505.7,173.5 506,174.7 506.3,172.3 506.6,173.7 506.9,171 507.2,172.9 507.5,170.8 507.8,171.1 508.1,169.3 508.4,170.4 508.7,168.5 509,169.8 509.3,167.3 509.6,168.7 509.9,166.2 510.2,167.4 510.5,165.4 510.8,166.4 511.1,163.8 511.4,165.5 511.7,162.8 512,163.8 512.3,162.2 512.6,163 512.9,160.7 513.2,162.1 513.5,159.8 513.8,160.9 514.1,158 514.4,158.9 514.7,157.4 515,158.3 515.3,155.9 515.6,156.6 515.9,154.5 516.2,155.9 516.5,153.5 516.8,154.4 517.1,152 517.4,153.2 517.7,151 518,152.2 518.3,150.3 518.6,151.1 518.9,149 519.2,149.7 519.5,147.9 519.8,148.4 520.1,146.3 520.4,147.1 520.7,145.3 521,146.5 521.3,144.1 521.6,145.1 521.9,143.6 522.2,144.3 522.5,142.6 522.8,143.6 523.1,141.6 523.4,142.5 523.7,140.2 524,141.2 524.3,139.4 524.6,139.9 524.9,138.2 525.2,139.4 525.5,137.4 525.8,138.6 526.1,136.3 526.4,137.7 526.7,135.5 527,136.6 527.3,135.2 527.6,136.3 527.9,134.8 528.2,135.7 528.5,134.1 528.8,135.4 529.1,132.9 529.4,134.5 529.7,132.4 530,134.2 530.3,132 530.6,133.8 530.9,132 531.2,133.1 531.5,131.7 531.8,132.6 532.1,130.8 532.4,132.5 532.7,131 533,132.2 533.3,130.3 533.6,131.5 533.9,130.6 534.2,131.8 534.5,129.9 534.8,131.6 535.1,129.9 535.4,131.3 535.7,129.8 536,131.9 536.3,130.5 536.6,131.5 536.9,130.2 537.2,132.3 537.5,130.5 537.8,131.8 538.1,130.9 538.4,132.4 538.7,131.5 539,132.4 539.3,131.5 539.6,132.8 539.9,131.5 540.2,133.5 540.5,132 540.8,134 541.1,132.9 541.4,134.8 541.7,133.2 542,135.2 542.3,134.2 542.6,135.5 542.9,134.3 543.2,136.4 543.5,134.9 543.8,137 544.1,136 544.4,138.2 544.7,136.6 545,138.6 545.3,137.5 545.6,139.4 545.9,138.2 546.2,140.3 546.5,139.5 546.8,141.9 547.1,140.6 547.4,142.6 547.7,141.5 548,143.7 548.3,142.4 548.6,144.4 548.9,144 549.2,145.7 549.5,144.3 549.8,146.9 550.1,145.3 550.4,147.5 550.7,147.1 551,149.3 551.3,148.4 551.6,150 551.9,149.6 552.2,151.1 552.5,150.1 552.8,152.3 553.1,151.9 553.4,153.5 553.7,152.5 554,155 554.3,153.8 554.6,156.4 554.9,155.2 555.2,157.3 555.5,156.1 555.8,158.1 556.1,157.4 556.4,160 556.7,158.8 557,161.1 557.3,159.6 557.6,162.4 557.9,161.1 558.2,162.9 558.5,162.1 558.8,164 559.1,163.3 559.4,165.6 559.7,164.1 560,166.8 560.3,165.9 560.6,167.4 560.9,166.4 561.2,168.8 561.5,167.4 561.8,170.2 562.1,168.8 562.4,171.2 562.7,170.1 563,172.1 563.3,170.4 563.6,172.4 563.9,171.7 564.2,174 564.5,172.5 564.8,174.8 565.1,173.6 565.4,175.5 565.7,174.5 566,176.6 566.3,174.8 566.6,176.9 566.9,175.5 567.2,178 567.5,176.7 567.8,178.2 568.1,176.9 568.4,178.8 568.7,177.6 569,179.7 569.3,178.5 569.6,179.7 569.9,178.9 570.2,180.1 570.5,179 570.8,180.9 571.1,179.5 571.4,181 571.7,179.7 572,181.5 572.3,180.3 572.6,181.7 572.9,179.7 573.2,181.9 573.5,180 573.8,181.9 574.1,180.6 574.4,182.2 574.7,180.7 575,182.1 575.3,180.4 575.6,182 575.9,180.4 576.2,182 576.5,179.8 576.8,181.1 577.1,180 577.4,181 577.7,179.9 578,180.8 578.3,179.5 578.6,180.9 578.9,179.1 579.2,180.2 579.5,178.6 579.8,179.8 580.1,177.8 580.4,178.8 580.7,177.8 581,179.1 581.3,176.6 581.6,178.4 581.9,176.1 582.2,177.6 582.5,175.8 582.8,176.5 583.1,174.7 583.4,175.9 583.7,174.1 584,174.7 584.3,173.1 584.6,174.6 584.9,172.1 585.2,173.6 585.5,170.9 585.8,172.8 586.1,170.2 586.4,171.8 586.7,169.7 587,170.8 587.3,168.5 587.6,169.1 587.9,167.6 588.2,168.7 588.5,166 588.8,167.6 589.1,164.9 589.4,166.6 589.7,164.2 590,164.7 590.3,163.4 590.6,164.1 590.9,161.9 591.2,162.5 591.5,160.9 591.8,161.4 592.1,159.6 592.4,160.8 592.7,158.1 593,159 593.3,157.2 593.6,158.2 593.9,155.6 594.2,156.6 594.5,154.5 594.8,155.7 595.1,153.1 595.4,154.1 595.7,152.2 596,153.3 596.3,150.8 596.6,152.2 596.9,149.5 597.2,151 597.5,148.9 597.8,149.8 598.1,147.7 598.4,149 598.7,146.7 599,147.2 599.3,145.3 599.6,146.1 599.9,144.4 600.2,145 600.5,143.5 600.8,144.4 601.1,142.1 601.4,143.4 601.7,140.9 602,142.5 602.3,140.5 602.6,141.5 602.9,139.4 603.2,140.2 603.5,138 603.8,139.6 604.1,137.2 604.4,138.8 604.7,136.4 605,138.1 605.3,135.5 605.6,137.3 605.9,134.7 606.2,136.6 606.5,134 606.8,135.8 607.1,133.6 607.4,134.7 607.7,132.9 608,134.2 608.3,132.5 608.6,133.6 608.9,132.2 609.2,133.3 609.5,131.5 609.8,133.2 610.1,131.2 610.4,132.3 610.7,130.7 611,132.3 611.3,130.5 611.6,131.9 611.9,130.3 612.2,131.7 612.5,130.2 612.8,131.4 613.1,130.3 613.4,131.6 613.7,129.8 614,131.4 614.3,130.1 614.6,132 614.9,130.4 615.2,131.7 615.5,129.9 615.8,131.6 616.1,130.7 616.4,132.3 616.7,131.1 617,132.6 617.3,131.3 617.6,133.1 617.9,131 618.2,132.9 618.5,132.2 618.8,133.7 619.1,132.7 619.4,133.8 619.7,133.2 620,134.4 620.3,133.1 620.6,135.4 620.9,134.4 621.2,135.6 621.5,134.4 621.8,136.7 622.1,135.3 622.4,137.5 622.7,135.9 623,137.7 623.3,137 623.6,138.6 623.9,137.5 624.2,139.9 624.5,138.6 624.8,141 625.1,139.4 625.4,141.5 625.7,140.9 626,142.6 626.3,141.2 626.6,143.2 626.9,142.2 627.2,144.7 627.5,143.7 627.8,145.8 628.1,144.3 628.4,147.1 628.7,145.5 629,148.2 629.3,147.3 629.6,149.5 629.9,147.9 630.2,150 630.5,149.6 630.8,151.5 631.1,150.6 631.4,152.8 631.7,151.3 632,153.9 632.3,152.4 632.6,154.6 632.9,154 633.2,155.9 633.5,155.5 633.8,157.8 634.1,156.8 634.4,158.6 634.7,157.3 635,159.7 635.3,159 635.6,161.2 635.9,159.9 636.2,162.2 636.5,161.4 636.8,163.7 637.1,162.3 637.4,164.5 637.7,163.1 638,165.6 638.3,164.8 638.6,167.1 638.9,165.7 639.2,168.1 639.5,166.8 639.8,169.1 640.1,167.7 640.4,169.7 640.7,169.3 641,170.7 641.3,169.8 641.6,171.8 641.9,170.7 642.2,173 642.5,171.4 642.8,173.7 643.1,172.5 643.4,174.4 643.7,173.4 644,175.1 644.3,174.4 644.6,176.1 644.9,174.7 645.2,176.6 645.5,176.1 645.8,177.5 646.1,176.8 646.4,178.2 646.7,176.8 647,178.9 647.3,177.3 647.6,179.3 647.9,178.6 648.2,180.1 648.5,178.9"/>
<polyline fill="none" stroke="#0000ff" stroke-width="1.6" stroke-linejoin="round" stroke-linecap="round" points="55.4,180.5 55.7,178.5 56,179.6 56.3,177.9 56.6,179.4 56.9,177.1 57.2,178.7 57.5,176.8 57.8,178 58.1,176.5 58.4,177.8 58.7,175.7 59,176.6 59.3,175.1 59.6,175.8 59.9,174.2 60.2,175.5 60.5,172.9 60.8,174.6 61.1,172.3 61.4,173.8 61.7,171.9 62,172.6 62.3,170.6 62.6,171.5 62.9,169.9 63.2,171 63.5,168.2 63.8,169.9 64.1,167.9 64.4,168.8 64.7,166.6 65,167 65.3,165.3 65.6,166 65.9,164.1 66.2,165.3 66.5,163.5 66.8,163.9 67.1,161.8 67.4,163.1 67.7,160.7 68,161.4 68.3,159.4 68.6,161 68.9,158.5 69.2,159.1 69.5,156.9 69.8,158.2 70.1,156.4 70.4,156.7 70.7,155.1 71,156 71.3,153.4 71.6,154.9 71.9,152.7 72.2,153.4 72.5,151.1 72.8,152.4 73.1,149.7 73.4,150.9 73.7,149.3 74,149.8 74.3,147.6 74.6,148.4 74.9,146.5 75.2,147.4 75.5,145.2 75.8,146.5 76.1,144.3 76.4,144.9 76.7,143.6 77,144.3 77.3,142.2 77.6,143.2 77.9,141.5 78.2,141.9 78.5,140.5 78.8,141.4 79.1,139.2 79.4,140.3 79.7,138.2 80,139.7 80.3,137.2 80.6,138.7 80.9,136.5 81.2,138.1 81.5,135.9 81.8,137.3 82.1,135.3 82.4,136.1 82.7,134.1 83,135.9 83.3,133.8 83.6,135.2 83.9,132.9 84.2,134.5 84.5,132.4 84.8,133.5 85.1,131.8 85.4,133.8 85.7,131.5 86,133.4 86.3,131.3 86.6,132.7 86.9,131.4 87.2,131.9 87.5,130.8 87.8,132 88.1,130.1 88.4,132.2 88.7,130.5 89,131.7 89.3,130.3 89.6,131.8 89.9,130 90.2,131.3 90.5,130.3 90.8,131.5 91.1,130.2 91.4,131.7 91.7,130.4 92,131.8 92.3,130.8 92.6,132 92.9,131.1 93.2,132.4 93.5,131.3 93.8,132.9 94.1,131.1 94.4,132.8 94.7,131.9 95,133.7 95.3,132.5 95.6,134.4 95.9,132.9 96.2,134.7 96.5,133.3 96.8,135.5 97.1,133.7 97.4,136 97.7,135 98,136.2 98.3,134.9 98.6,136.9 98.9,135.8 99.2,138.4 99.5,137.1 99.8,139.2 100.1,137.4 100.4,139.2 100.7,138.9 101,140.2 101.3,139.7 101.6,141.1 101.9,140.7 102.2,142.8 102.5,141.1 102.8,143.6 103.1,142.5 103.4,144.7 103.7,143.3 104,145.6 104.3,145 104.6,146.3 104.9,146 105.2,147.6 105.5,146.4 105.8,149.1 106.1,147.8 106.4,150.1 106.7,148.9 107,151.3 107.3,149.9 107.6,152.8 107.9,151.7 108.2,153.7 108.5,152.6 108.8,155.2 109.1,153.7 109.4,156.4 109.7,155.1 110,157.4 110.3,156.7 110.6,158.3 110.9,157.6 111.2,160 111.5,158.8 111.8,161.1 112.1,160.2 112.4,162 112.7,161.1 113,163 113.3,162.4 113.6,163.9 113.9,163.3 114.2,165.9 114.5,164.7 114.8,166.4 115.1,165.9 115.4,168.1 115.7,166.3 116,168.5 116.3,167.4 116.6,169.9 116.9,168.8 117.2,171.1 117.5,169.6 117.8,172 118.1,171 118.4,172.5 118.7,171.4 119,173.4 119.3,172.4 119.6,174.5 119.9,173.3 120.2,175.4 120.5,173.8 120.8,176.4 121.1,174.6 121.4,176.5 121.7,175.6 122,177.2 122.3,176.6 122.6,178.6 122.9,176.8 123.2,179.1 123.5,177.6 123.8,179.7 124.1,178 124.4,180.1 124.7,178.9 125,179.9 125.3,178.7 125.6,180.7 125.9,179.1 126.2,181.1 126.5,179.8 126.8,181 127.1,179.6 127.4,181.3 127.7,180.5 128,181.6 128.3,180.2 128.6,182 128.9,180.6 129.2,181.9 129.5,180.5 129.8,181.5 130.1,180.1 130.4,181.7 130.7,180 131,181.6 131.3,179.6 131.6,181.3 131.9,180.1 132.2,181.5 132.5,179.5 132.8,180.7 133.1,179.3 133.4,180.7 133.7,178.8 134,179.8 134.3,178.1 134.6,179.9 134.9,177.5 135.2,179.3 135.5,177.6 135.8,178.6 136.1,176.5 136.4,178.2 136.7,176.3 137,177.7 137.3,175.4 137.6,176.6 137.9,175 138.2,175.7 138.5,174 138.8,175.3 139.1,173.1 139.4,174.1 139.7,171.9 140,173.1 140.3,171.5 140.6,172.1 140.9,170.5 141.2,171.6 141.5,169.4 141.8,170.6 142.1,168.8 142.4,169.7 142.7,167.5 143,168.7 143.3,166 143.6,167.7 143.9,164.9 144.2,166.3 144.5,164.1 144.8,165 145.1,163.1 145.4,163.8 145.7,161.8 146,163.2 146.3,160.6 146.6,161.3 146.9,159.6 147.2,160.8 147.5,158.5 147.8,159.5 148.1,157.5 148.4,157.8 148.7,156.1 149,156.8 149.3,154.5 149.6,155.4 149.9,153.3 150.2,154.6 150.5,152.7 150.8,153.1 151.1,151.1 151.4,151.8 151.7,150 152,151.1 152.3,148.6 152.6,149.6 152.9,147.4 153.2,148.5 153.5,146.7 153.8,147.3 154.1,145.7 154.4,146.7 154.7,144.6 155,145.3 155.3,143.3 155.6,144.2 155.9,142.6 156.2,143.5 156.5,141.2 156.8,142.1 157.1,140.5 157.4,141.5 157.7,139.5 158,140.4 158.3,138.4 158.6,139.3 158.9,137.7 159.2,138.6 159.5,136.7 159.8,137.4 160.1,135.6 160.4,137.4 160.7,134.7 161,136.5 161.3,134 161.6,135.7 161.9,134 162.2,134.9 162.5,133.1 162.8,134.4 163.1,132.3 163.4,134.2 163.7,132.2 164,133.3 164.3,131.8 164.6,132.8 164.9,131.3 165.2,132.5 165.5,131.3 165.8,132.1 166.1,130.7 166.4,132 166.7,130.3 167,132.2 167.3,130.1 167.6,131.8 167.9,130.2 168.2,131.8 168.5,130.2 168.8,131.4 169.1,129.7 169.4,131.6 169.7,130 170,132.2 170.3,130.5 170.6,131.8 170.9,130.8 171.2,132.3 171.5,131 171.8,132.2 172.1,131.4 172.4,132.9 172.7,131.7 173,132.9 173.3,131.7 173.6,134 173.9,132.3 174.2,133.6 174.5,132.7 174.8,134.2 175.1,133.4 175.4,135.6 175.7,134.2 176,135.4 176.3,134.7 176.6,136.6 176.9,135.1 177.2,137.7 177.5,135.7 177.8,137.7 178.1,136.5 178.4,138.7 178.7,137.9 179,139.8 179.3,138.3 179.6,140.7 179.9,139.4 180.2,141.9 180.5,140.7 180.8,142.3 181.1,141.8 181.4,143.2 181.7,142.8 182,144.5 182.3,143.8 182.6,145.8 182.9,144.6 183.2,147 183.5,145.7 183.8,147.6 184.1,146.9 184.4,149.4 184.7,147.9 185,150.5 185.3,148.9 185.6,151.2 185.9,150.6 186.2,152.6 186.5,151.6 186.8,153.8 187.1,152.5 187.4,154.8 187.7,153.6 188,156.5 188.3,155.5 188.6,157.4 188.9,156 189.2,158.2 189.5,157.4 189.8,159.9 190.1,158.6 190.4,160.6 190.7,160.3 191,162.4 191.3,161.5 191.6,163.1 191.9,162.4 192.2,164.8 192.5,163.4 192.8,165.9 193.1,164.6 193.4,167 193.7,166.1 194,168.1 194.3,166.5 194.6,168.7 194.9,167.4 195.2,169.6 195.5,169.1 195.8,171.1 196.1,170.2 196.4,171.7 196.7,170.4 197,173 197.3,171.5 197.6,173.6 197.9,172.7 198.2,174.9 198.5,173.3 198.8,175.2 199.1,174.3 199.4,176.1 199.7,174.6 200,177 200.3,175.7 200.6,177.5 200.9,176.6 201.2,178.3 201.5,177.3 201.8,179 202.1,177.7 202.4,179.4 202.7,178.4 203,180.2 203.3,178.3 203.6,180.4 203.9,178.8 204.2,180.5 204.5,179.7 204.8,181.4 205.1,179.8 205.4,181.3 205.7,180 206,182 206.3,179.8 206.6,181.8 206.9,180.3 207.2,181.4 207.5,180.3 207.8,182.2 208.1,180 208.4,181.6 208.7,180.2 209,181.6 209.3,180.2 209.6,182 209.9,180.3 210.2,181.9 210.5,180.2 210.8,180.8 211.1,179.7 211.4,181.2 211.7,179 212,180.9 212.3,178.6 212.6,180.1 212.9,178.4 213.2,179.7 213.5,177.9 213.8,179.5 214.1,177.6 214.4,178.3 214.7,176.5 215,177.8 215.3,175.9 215.6,177.2 215.9,175.3 216.2,177 216.5,174.5 216.8,176.1 217.1,173.8 217.4,175.5 217.7,172.9 218,174.5 218.3,172 218.6,173.1 218.9,171.4 219.2,172.4 219.5,170.2 219.8,171.4 220.1,169.1 220.4,170.4 220.7,168.4 221,169.1 221.3,167.1 221.6,168.8 221.9,166.5 222.2,167.7 222.5,165.1 222.8,166 223.1,164.2 223.4,165.4 223.7,163.1 224,164.2 224.3,161.8 224.6,163.1 224.9,160.9 225.2,161.9 225.5,159.6 225.8,160 226.1,158.3 226.4,159.1 226.7,157.4 227,157.9 227.3,155.6 227.6,156.9 227.9,154.6 228.2,155.4 228.5,153.7 228.8,154.7 229.1,152.7 229.4,152.9 229.7,150.9 230,152.4 230.3,150.3 230.6,150.5 230.9,148.4 231.2,149.6 231.5,147.3 231.8,148.7 232.1,146.4 232.4,147.8 232.7,145.3 233,146.4 233.3,144.3 233.6,144.9 233.9,143 234.2,144 234.5,142.5 234.8,143.1 235.1,141.2 235.4,141.8 235.7,140.1 236,140.8 236.3,139.2 236.6,140 236.9,138.6 237.2,139 237.5,137.4 237.8,138.7 238.1,136.3 238.4,137.3 238.7,135.7 239,136.6 239.3,135.3 239.6,136.5 239.9,134.6 240.2,135.4 240.5,133.4 240.8,134.5 241.1,133 241.4,134.1 241.7,132.6 242,133.6 242.3,132.1 242.6,133.5 242.9,131.7 243.2,132.9 243.5,130.8 243.8,132.8 244.1,130.6 244.4,132.3 244.7,131 245,132 245.3,130.7 245.6,131.5 245.9,129.9 246.2,131.7 246.5,130.4 246.8,131.6 247.1,130.5 247.4,131.4 247.7,130 248,131.8 248.3,130.6 248.6,131.4 248.9,130.1 249.2,131.9 249.5,130.6 249.8,131.8 250.1,130.5 250.4,132.4 250.7,131.3 251,132.4 251.3,131.5 251.6,133.4 251.9,131.4 252.2,133.4 252.5,132.4 252.8,133.7 253.1,132.9 253.4,134.3 253.7,133.3 254,135.2 254.3,134.3 254.6,135.7 254.9,135 255.2,136.6 255.5,135.8 255.8,137 256.1,136.5 256.4,138.5 256.7,136.6 257,139 257.3,138 257.6,139.8 257.9,138.9 258.2,140.5 258.5,139.6 258.8,142 259.1,140.6 259.4,143 259.7,141.5 260,143.2 260.3,142.2 260.6,144.7 260.9,143.3 261.2,146.2 261.5,145 261.8,147 262.1,145.8 262.4,147.5 262.7,146.8 263,149.3 263.3,148.3 263.6,150.1 263.9,149.3 264.2,151 264.5,150.1 264.8,152.2 265.1,151.8 265.4,153.9 265.7,152.7 266,155.3 266.3,154.3 266.6,156.3 266.9,155.6 267.2,157.6 267.5,156.4 267.8,158.9 268.1,157.3 268.4,159.4 268.7,159.1 269,161.1 269.3,160.2 269.6,161.8 269.9,160.9 270.2,163.7 270.5,162.6 270.8,164.2 271.1,163.3 271.4,165.6 271.7,164.2 272,166.6 272.3,165.7 272.6,168 272.9,166.9 273.2,169.2 273.5,168 273.8,169.9 274.1,168.6 274.4,170.8 274.7,169.5 275,172.2 275.3,171.3 275.6,173.2 275.9,172.1 276.2,173.4 276.5,172.5 276.8,174.7 277.1,173.1 277.4,175.6 277.7,174.4 278,176.2 278.3,175 278.6,177 278.9,175.8 279.2,178.1 279.5,176.4 279.8,178.3 280.1,176.8 280.4,178.9 280.7,177.7 281,179.1 281.3,177.8 281.6,179.6 281.9,178.7 282.2,180 282.5,179 282.8,180.5 283.1,179.3 283.4,181.4 283.7,180 284,181.3 284.3,179.6 284.6,181.2 284.9,180.3 285.2,181.5 285.5,179.9 285.8,181.8 286.1,180 286.4,182.2 286.7,180.1 287,181.7 287.3,180 287.6,181.5 287.9,180.1 288.2,182 288.5,179.6 288.8,181.7 289.1,180.2 289.4,181.3 289.7,179.1 290,181.2 290.3,179.6 290.6,180.3 290.9,179 291.2,180.1 291.5,178.1 291.8,179.9 292.1,177.7 292.4,179.2 292.7,177 293,178.6 293.3,176.9 293.6,178 293.9,176.4 294.2,177.3 294.5,175 294.8,176.2 295.1,175 295.4,175.6 295.7,173.9 296,174.8 296.3,173.5 296.6,173.9 296.9,172.1 297.2,173.1 297.5,170.9 297.8,172.4 298.1,169.9 298.4,171.3 298.7,169.6 299,170.6 299.3,168.2 299.6,169.5 299.9,167.3 300.2,168.6 300.5,166.5 300.8,167.6 301.1,165.2 301.4,166.4 301.7,163.8 302,165.2 302.3,162.5 302.6,164.1 302.9,161.6 303.2,162.8 303.5,160.7 303.8,161.7 304.1,159 304.4,159.9 304.7,158.1 305,159.1 305.3,156.7 305.6,157.8 305.9,156 306.2,157 306.5,154.3 306.8,155.3 307.1,153 307.4,154 307.7,152 308,152.8 308.3,151.3 308.6,151.6 308.9,150.1 309.2,150.6 309.5,148.8 309.8,149.4 310.1,147.6 310.4,148.8 310.7,146 311,147.1 311.3,145.6 311.6,146.5 311.9,144.4 312.2,145.5 312.5,142.7 312.8,143.9 313.1,142.1 313.4,143.1 313.7,140.7 314,141.7 314.3,140.1 314.6,140.8 314.9,138.9 315.2,139.8 315.5,138 315.8,139.5 316.1,137.5 316.4,138.7 316.7,136.7 317,137.5 317.3,135.9 317.6,137.1 317.9,134.7 318.2,136.2 318.5,134.3 318.8,135.9 319.1,133.8 319.4,135.2 319.7,133.3 320,134.3 320.3,132.6 320.6,133.6 320.9,132.3 321.2,133.5 321.5,131.4 321.8,132.5 322.1,131.2 322.4,132.7 322.7,130.9 323,132.2 323.3,131 323.6,131.8 323.9,130.8 324.2,131.6 324.5,129.9 324.8,131.4 325.1,130.4 325.4,131.6 325.7,130.3 326,131.4 326.3,130.5 326.6,131.5 326.9,130.2 327.2,131.4 327.5,130.5 327.8,132 328.1,130.5 328.4,132 328.7,131 329,132.2 329.3,131.1 329.6,132.8 329.9,131.1 330.2,133.4 330.5,131.6 330.8,133.3 331.1,132.5 331.4,133.9 331.7,132.9 332,134.4 332.3,133.3 332.6,135.7 332.9,134.3 333.2,136.3 333.5,134.6 333.8,136.3 334.1,135.4 334.4,137.5 334.7,136.6 335,137.9 335.3,136.7 335.6,139.3 335.9,137.8 336.2,139.9 336.5,138.4 336.8,140.9 337.1,139.5 337.4,142.1 337.7,140.9 338,142.6 338.3,141.8 338.6,144 338.9,143.1 339.2,144.8 339.5,143.5 339.8,145.5 340.1,145 340.4,146.7 340.7,145.9 341,147.7 341.3,147.1 341.6,149.2 341.9,148.6 342.2,150.5 342.5,149.7 342.8,151.1 343.1,150.5 343.4,153 343.7,151.9 344,154 344.3,153.3 344.6,155 344.9,153.8 345.2,156.5 345.5,155 345.8,157.5 346.1,156.1 346.4,159 346.7,157.9 347,160.1 347.3,158.8 347.6,161.5 347.9,160 348.2,162.1 348.5,161.2 348.8,163.6 349.1,162.2 349.4,164.7 349.7,163.7 350,165.8 350.3,165 350.6,167.2 350.9,165.8 351.2,167.8 351.5,166.5 351.8,169.2 352.1,168.1 352.4,170.2 352.7,168.9 353,171.2 353.3,170.2 353.6,172.1 353.9,170.8 354.2,172.8 354.5,171.5 354.8,174.2 355.1,172.4 355.4,175 355.7,173.4 356,175.8 356.3,174.5 356.6,176.2 356.9,174.9 357.2,177.2 357.5,175.8 357.8,177.3 358.1,176.5 358.4,178.1 358.7,176.9 359,179.1 359.3,177.6 359.6,179.8 359.9,178.1 360.2,179.9 360.5,179 360.8,180.1 361.1,179.4 361.4,180.7 361.7,179.2 362,181 362.3,179.4 362.6,181.4 362.9,179.6 363.2,181.9 363.5,180.4 363.8,182 364.1,179.8 364.4,182 364.7,180.6 365,182.2 365.3,180.3 365.6,181.7 365.9,180.1 366.2,181.6 366.5,180.2 366.8,181.5 367.1,180 367.4,181.8 367.7,179.8 368,181 368.3,179.1 368.6,180.8 368.9,179.1 369.2,180.9 369.5,178.8 369.8,179.9 370.1,178.2 370.4,180 370.7,177.7 371,179.5 371.3,177.3 371.6,178.2 371.9,177.1 372.2,177.7 372.5,175.9 372.8,176.8 373.1,175.7 373.4,176.5 373.7,174.7 374,176 374.3,173.9 374.6,174.7 374.9,172.6 375.2,173.9 375.5,171.7 375.8,173.4 376.1,170.9 376.4,172.7 376.7,170 377,171.5 377.3,169.6 377.6,169.9 377.9,168.2 378.2,169.7 378.5,166.8 378.8,168.3 379.1,166.4 379.4,167.3 379.7,164.7 380,166.4 380.3,164.4 380.6,164.7 380.9,162.9 381.2,163.6 381.5,161.9 381.8,162.7 382.1,160.4 382.4,161.6 382.7,159.5 383,160 383.3,157.8 383.6,158.9 383.9,157.1 384.2,158 384.5,155.9 384.8,156.4 385.1,154.5 385.4,155.1 385.7,153.5 386,154.6 386.3,152.2 386.6,152.7 386.9,150.6 387.2,151.8 387.5,149.3 387.8,150.9 388.1,148.7 388.4,149.9 388.7,147.7 389,148.7 389.3,146.3 389.6,147.3 389.9,144.8 390.2,146.5 390.5,144.5 390.8,145 391.1,142.6 391.4,144 391.7,142.3 392,143.3 392.3,141.1 392.6,142.2 392.9,139.9 393.2,141.2 393.5,138.6 393.8,140.2 394.1,138.1 394.4,138.8 394.7,137.4 395,138.6 395.3,136.3 395.6,137.6 395.9,135.9 396.2,136.7 396.5,135.3 396.8,135.8 397.1,134.1 397.4,135.6 397.7,133.4 398,135.1 398.3,132.8 398.6,134.3 398.9,132.7 399.2,133.5 399.5,132.2 399.8,133.6 400.1,131.3 400.4,132.8 400.7,131.1 401,132.3 401.3,130.5 401.6,131.9 401.9,130.5 402.2,132.1 402.5,130.6 402.8,132.2 403.1,130.7 403.4,131.8 403.7,130 404,131.9 404.3,130 404.6,131.9 404.9,129.9 405.2,131.8 405.5,130.2 405.8,131.5 406.1,130.5 406.4,132.3 406.7,130.6 407,132.1 407.3,131 407.6,132.4 407.9,131 408.2,133 408.5,131.7 408.8,133.5 409.1,132.3 409.4,133.5 409.7,132.7 410,134.3 410.3,132.9 410.6,135 410.9,133.1 411.2,135.6 411.5,133.9 411.8,136.4 412.1,134.9 412.4,136.7 412.7,135.9 413,137.7 413.3,136.5 413.6,138.4 413.9,136.8 414.2,139.1 414.5,137.8 414.8,140.3 415.1,138.8 415.4,140.7 415.7,139.7 416,142 416.3,140.5 416.6,142.3 416.9,141.6 417.2,143.5 417.5,142.8 417.8,145.2 418.1,143.5 418.4,145.7 418.7,145 419,146.9 419.3,146.1 419.6,148.1 419.9,147 420.2,149.6 420.5,148.4 420.8,150 421.1,149.6 421.4,151.5 421.7,150.6 422,152.4 422.3,152.2 422.6,153.9 422.9,152.8 423.2,155.4 423.5,154.6 423.8,156.4 424.1,155.4 424.4,157.4 424.7,156.5 425,158.5 425.3,157.4 425.6,160 425.9,159.4 426.2,160.8 426.5,160.4 426.8,162.1 427.1,161.3 427.4,163.6 427.7,162.5 428,164.9 428.3,164 428.6,166.1 428.9,164.8 429.2,166.5 429.5,166.2 429.8,168.2 430.1,167.1 430.4,169 430.7,168.3 431,170.3 431.3,169.4 431.6,171.4 431.9,170.4 432.2,172.3 432.5,171 432.8,172.9 433.1,172.2 433.4,173.8 433.7,172.4 434,174.4 434.3,174 434.6,176 434.9,174.2 435.2,176.7 435.5,174.8 435.8,177.5 436.1,176 436.4,178 436.7,176.7 437,178.5 437.3,177.6 437.6,178.8 437.9,177.9 438.2,179.4 438.5,178.5 438.8,179.6 439.1,178.9 439.4,180 439.7,179.3 440,180.9 440.3,179.4 440.6,181.3 440.9,179.6 441.2,181 441.5,179.9 441.8,181.5 442.1,180.2 442.4,181.6 442.7,180.3 443,182.1 443.3,180.6 443.6,182 443.9,180.4 444.2,182 444.5,180.4 444.8,182.1 445.1,180 445.4,181.6 445.7,180.4 446,181 446.3,180 446.6,181.4 446.9,179.7 447.2,181.1 447.5,179.3 447.8,180.6 448.1,179 448.4,179.8 448.7,177.9 449,179.8 449.3,178.1 449.6,178.9 449.9,177.6 450.2,178.3 450.5,176.4 450.8,177.7 451.1,175.7 451.4,176.8 451.7,175.2 452,176.3 452.3,174.2 452.6,175.6 452.9,173.9 453.2,174.8 453.5,173.3 453.8,174.4 454.1,171.7 454.4,173.3 454.7,171.1 455,172.1 455.3,170.2 455.6,171.7 455.9,169.2 456.2,170.5 456.5,168.3 456.8,169.5 457.1,167.1 457.4,168.1 457.7,166.3 458,167 458.3,165.3 458.6,166 458.9,163.5 459.2,165.1 459.5,162.6 459.8,163.8 460.1,161.6 460.4,162.3 460.7,160.7 461,161.6 461.3,158.9 461.6,160.3 461.9,158.1 462.2,158.7 462.5,157.2 462.8,157.4 463.1,155.5 463.4,156.5 463.7,154.5 464,155.5 464.3,152.9 464.6,154.2 464.9,151.8 465.2,153.1 465.5,150.8 465.8,151.7 466.1,149.9 466.4,151 466.7,148.2 467,149.5 467.3,147.1 467.6,148.1 467.9,146.1 468.2,147.3 468.5,145.4 468.8,146.3 469.1,144.3 469.4,144.9 469.7,142.9 470,143.9 470.3,142.1 470.6,143 470.9,141.3 471.2,141.7 471.5,140.3 471.8,140.6 472.1,139 472.4,140.1 472.7,137.9 473,139 473.3,137.5 473.6,138.7 473.9,136.7 474.2,137.8 474.5,135.7 474.8,136.4 475.1,134.9 475.4,136.2 475.7,133.9 476,135.3 476.3,133.7 476.6,134.7 476.9,133.1 477.2,134.1 477.5,132.4 477.8,133.6 478.1,132.1 478.4,133.3 478.7,131.4 479,133.1 479.3,131.1 479.6,132.8 479.9,130.7 480.2,132.4 480.5,130.9 480.8,131.7 481.1,130.8 481.4,131.7 481.7,130.3 482,131.5 482.3,130.1 482.6,131.3 482.9,130.1 483.2,131.5 483.5,130.3 483.8,132 484.1,130.6 484.4,132 484.7,130.5 485,132.4 485.3,130.7 485.6,132.4 485.9,131 486.2,132.5 486.5,131.1 486.8,132.7 487.1,131.6 487.4,132.9 487.7,131.6 488,133.8 488.3,132.4 488.6,134.1 488.9,133.4 489.2,134.7 489.5,133.8 489.8,135.4 490.1,134 490.4,135.8 490.7,134.6 491,136.7 491.3,135.8 491.6,137.3 491.9,136.2 492.2,138.3 492.5,136.9 492.8,139.2 493.1,137.8 493.4,139.7 493.7,138.8 494,140.9 494.3,139.9 494.6,141.8 494.9,140.5 495.2,142.7 495.5,141.8 495.8,144.2 496.1,142.8 496.4,144.6 496.7,143.8 497,146 497.3,145.2 497.6,146.6 497.9,146.4 498.2,148.3 498.5,147.1 498.8,149.4 499.1,148.3 499.4,150.6 499.7,149.5 500,151.3 500.3,151.1 500.6,153 500.9,151.5 501.2,154.4 501.5,153.2 501.8,155 502.1,154.3 502.4,156.2 502.7,155.2 503,157.4 503.3,156.7 503.6,158.6 503.9,157.5 504.2,159.9 504.5,159 504.8,161.2 505.1,160.5 505.4,162.6 505.7,161.6 506,163.2 506.3,162.6 506.6,164.8 506.9,163.9 507.2,165.6 507.5,164.5 507.8,166.8 508.1,166.2 508.4,168.4 508.7,166.9 509,169.4 509.3,168.1 509.6,170.5 509.9,168.7 510.2,171.3 510.5,169.8 510.8,171.9 511.1,171.1 511.4,173.1 511.7,171.9 512,173.6 512.3,173.2 512.6,175 512.9,174.1 513.2,175.5 513.5,174.1 513.8,176.1 514.1,175.1 514.4,177.1 514.7,176.3 515,177.4 515.3,176.7 515.6,178.2 515.9,177 516.2,179.3 516.5,177.6 516.8,179.6 517.1,178.3 517.4,179.7 517.7,178.3 518,180.7 518.3,179.4 518.6,180.4 518.9,179.9 519.2,181.2 519.5,179.4 519.8,181.8 520.1,179.8 520.4,181.3 520.7,180 521,181.8 521.3,180.7 521.6,182.1 521.9,180.4 522.2,182 522.5,180.3 522.8,181.8 523.1,180.4 523.4,181.4 523.7,180.4 524,181.8 524.3,179.9 524.6,181.8 524.9,179.9 525.2,180.9 525.5,179.3 525.8,181.3 526.1,179 526.4,180.3 526.7,178.5 527,180 527.3,177.9 527.6,179.9 527.9,177.4 528.2,178.9 528.5,177 528.8,178.4 529.1,177 529.4,177.9 529.7,176.3 530,177.2 530.3,175.2 530.6,176.8 530.9,174.5 531.2,175.3 531.5,173.6 531.8,174.6 532.1,173.1 532.4,173.7 532.7,172.1 533,172.7 533.3,171.4 533.6,172.2 533.9,170 534.2,171.3 534.5,169.2 534.8,170.4 535.1,168.3 535.4,169.5 535.7,167 536,168.1 536.3,165.6 536.6,166.8 536.9,164.5 537.2,165.6 537.5,163.5 537.8,164.4 538.1,162.5 538.4,163.7 538.7,161.6 539,162.9 539.3,159.9 539.6,161.6 539.9,159.2 540.2,160.5 540.5,158.3 540.8,159 541.1,156.8 541.4,157.7 541.7,155.4 542,156.9 542.3,154.4 542.6,155.1 542.9,153.2 543.2,153.9 543.5,152.2 543.8,153.2 544.1,150.6 544.4,152 544.7,149.5 545,150.8 545.3,148.5 545.6,149.4 545.9,147 546.2,148.1 546.5,145.9 546.8,147.4 547.1,145.2 547.4,146.3 547.7,143.8 548,145.2 548.3,142.9 548.6,143.5 548.9,141.7 549.2,142.5 549.5,140.8 549.8,142 550.1,139.8 550.4,140.6 550.7,139.1 551,140.2 551.3,138 551.6,138.9 551.9,136.9 552.2,137.9 552.5,136.4 552.8,137.4 553.1,135.6 553.4,136.9 553.7,134.7 554,135.8 554.3,134.2 554.6,135.1 554.9,133.3 555.2,134.7 555.5,133.3 555.8,134.3 556.1,132.4 556.4,133.5 556.7,132.1 557,133.4 557.3,131.3 557.6,133.3 557.9,130.8 558.2,132.1 558.5,130.9 558.8,131.9 559.1,130.3 559.4,132.4 559.7,130.7 560,132 560.3,130.6 560.6,131.3 560.9,130.1 561.2,131.5 561.5,129.9 561.8,131.7 562.1,130.2 562.4,132.1 562.7,130.7 563,132.1 563.3,130 563.6,132.3 563.9,130.8 564.2,132.5 564.5,130.9 564.8,132.4 565.1,130.9 565.4,133.3 565.7,131.3 566,133.6 566.3,132.2 566.6,134 566.9,132.3 567.2,134.1 567.5,133 567.8,134.4 568.1,133.1 568.4,135.7 568.7,133.8 569,135.7 569.3,135.3 569.6,137.1 569.9,135.4 570.2,137.4 570.5,136.6 570.8,138 571.1,137.3 571.4,139.5 571.7,137.7 572,139.9 572.3,138.5 572.6,141.3 572.9,139.9 573.2,142.1 573.5,140.9 573.8,142.9 574.1,142.1 574.4,144.3 574.7,142.9 575,145.1 575.3,144 575.6,146.1 575.9,144.6 576.2,147.3 576.5,146.1 576.8,147.9 577.1,146.9 577.4,149.3 577.7,148 578,150.6 578.3,150 578.6,151.7 578.9,150.7 579.2,153.2 579.5,151.7 579.8,154.1 580.1,153 580.4,155.2 580.7,154.6 581,156.7 581.3,155.3 581.6,157.6 581.9,156.8 582.2,158.5 582.5,157.8 582.8,160.4 583.1,158.8 583.4,161.3 583.7,160.1 584,162.3 584.3,161.7 584.6,164 584.9,162.6 585.2,164.8 585.5,164.2 585.8,165.5 586.1,164.9 586.4,167.4 586.7,166.4 587,168.4 587.3,166.7 587.6,168.8 587.9,168.3 588.2,170 588.5,168.8 588.8,170.9 589.1,170.5 589.4,171.8 589.7,170.7 590,173.2 590.3,172.3 590.6,174.1 590.9,172.6 591.2,175.2 591.5,173.4 591.8,175.3 592.1,174.4 592.4,176.9 592.7,175.3 593,177 593.3,175.6 593.6,178 593.9,176.4 594.2,178.8 594.5,177.2 594.8,179.3 595.1,177.6 595.4,179.3 595.7,178.6 596,179.9 596.3,178.5 596.6,180.7 596.9,179.4 597.2,180.7 597.5,179.8 597.8,180.9 598.1,179.4 598.4,181.6 598.7,179.9 599,181.8 599.3,180.1 599.6,181.9 599.9,180.3 600.2,182.1 600.5,180.5 600.8,182.2 601.1,180 601.4,181.6 601.7,180 602,181.6 602.3,180.2 602.6,181.8 602.9,180.3 603.2,181.3 603.5,179.5 603.8,181.5 604.1,179.6 604.4,180.7 604.7,178.9 605,180.7 605.3,178.5 605.6,180.3 605.9,177.9 606.2,179.2 606.5,178 606.8,179 607.1,177.1 607.4,178 607.7,176.8 608,177.9 608.3,176 608.6,176.8 608.9,175.6 609.2,176.6 609.5,174.7 609.8,175.3 610.1,173.4 610.4,174.8 610.7,173 611,173.9 611.3,171.9 611.6,172.6 611.9,171.1 612.2,172.2 612.5,169.8 612.8,170.8 613.1,169.5 613.4,170.5 613.7,167.8 614,168.8 614.3,166.6 614.6,167.7 614.9,165.6 615.2,166.7 615.5,164.8 615.8,165.5 616.1,163.9 616.4,164.5 616.7,162.5 617,163.7 617.3,161.3 617.6,162.2 617.9,160.1 618.2,161 618.5,159.3 618.8,160.4 619.1,158.1 619.4,159 619.7,156.9 620,158 620.3,155.6 620.6,156.8 620.9,154.3 621.2,155.1 621.5,153.3 621.8,153.7 622.1,151.5 622.4,152.5 622.7,150.3 623,151.9 623.3,149.5 623.6,150 623.9,148.1 624.2,149.5 624.5,147.4 624.8,148.6 625.1,145.9 625.4,147.2 625.7,144.9 626,145.8 626.3,144.2 626.6,144.7 626.9,142.4 627.2,144 627.5,141.8 627.8,143.2 628.1,140.5 628.4,141.5 628.7,140.2 629,140.9 629.3,139.1 629.6,139.9 629.9,138.3 630.2,138.8 630.5,137.4 630.8,138.3 631.1,136.7 631.4,137.6 631.7,135.4 632,136.9 632.3,134.6 632.6,135.9 632.9,133.9 633.2,135.3 633.5,133.9 633.8,134.5 634.1,133.2 634.4,134.1 634.7,132.6 635,134.1 635.3,131.9 635.6,132.8 635.9,131.2 636.2,132.6 636.5,131.4 636.8,132.4 637.1,131.2 637.4,132.6 637.7,130.4 638,131.8 638.3,130.5 638.6,131.6 638.9,130.3 639.2,131.5 639.5,129.7 639.8,131.7 640.1,130.2 640.4,131.7 640.7,130.6 641,132 641.3,129.9 641.6,132.1 641.9,130.5 642.2,132.2 642.5,130.7 642.8,132 643.1,130.7 643.4,132.8 643.7,130.9 644,133.1 644.3,131.8 644.6,133.2 644.9,131.8 645.2,133.6 645.5,132.1 645.8,134 646.1,133 646.4,135 646.7,133.3 647,135.5 647.3,134.6 647.6,136 647.9,135 648.2,136.7 648.5,135.7"/>
</g>
<line x1="53.6" y1="241.5" x2="647.3" y2="241.5" stroke="#dcdcdc" stroke-width="1.3"/>
<line x1="53.6" y1="259.9" x2="647.3" y2="259.9" stroke="#dcdcdc" stroke-width="1.3"/>
<line x1="53.6" y1="279.7" x2="647.3" y2="279.7" stroke="#dcdcdc" stroke-width="1.3"/>
<line x1="251.8" y1="224.2" x2="251.8" y2="296.6" stroke="#dcdcdc" stroke-width="1.3"/>
<line x1="450.0" y1="224.2" x2="450.0" y2="296.6" stroke="#dcdcdc" stroke-width="1.3"/>
<line x1="53.6" y1="241.5" x2="59.6" y2="241.5" stroke="#2a2a2a" stroke-width="1.25"/>
<line x1="641.3" y1="241.5" x2="647.3" y2="241.5" stroke="#2a2a2a" stroke-width="1.25"/>
<line x1="53.6" y1="259.9" x2="59.6" y2="259.9" stroke="#2a2a2a" stroke-width="1.25"/>
<line x1="641.3" y1="259.9" x2="647.3" y2="259.9" stroke="#2a2a2a" stroke-width="1.25"/>
<line x1="53.6" y1="279.7" x2="59.6" y2="279.7" stroke="#2a2a2a" stroke-width="1.25"/>
<line x1="641.3" y1="279.7" x2="647.3" y2="279.7" stroke="#2a2a2a" stroke-width="1.25"/>
<line x1="251.8" y1="224.2" x2="251.8" y2="231.2" stroke="#2a2a2a" stroke-width="1.25"/>
<line x1="251.8" y1="289.6" x2="251.8" y2="296.6" stroke="#2a2a2a" stroke-width="1.25"/>
<line x1="450.0" y1="224.2" x2="450.0" y2="231.2" stroke="#2a2a2a" stroke-width="1.25"/>
<line x1="450.0" y1="289.6" x2="450.0" y2="296.6" stroke="#2a2a2a" stroke-width="1.25"/>
<rect x="53.5" y="224.5" width="594.0" height="72.0" fill="none" stroke="#151515" stroke-width="1.15"/>
<clipPath id="c3"><rect x="52.800000000000004" y="223.39999999999998" width="595.3" height="74.00000000000003"/></clipPath>
<g clip-path="url(#c3)">
<polyline fill="none" stroke="#ff0000" stroke-width="2.1" stroke-linejoin="round" stroke-linecap="round" points="51.6,255.3 52,255.1 52.4,254.9 52.8,254.7 53.2,254.6 53.6,254.5 54,254.4 54.4,254.3 54.8,254.2 55.2,254.1 55.6,254.1 56,254 56.4,254 56.8,254 57.2,254 57.6,254.1 58,254.1 58.4,254.2 58.8,254.2 59.2,254.3 59.6,254.4 60,254.5 60.4,254.7 60.8,254.8 61.2,254.9 61.6,255.1 62,255.3 62.4,255.5 62.8,255.7 63.2,255.9 63.6,256.2 64,256.4 64.4,256.7 64.8,257 65.2,257.3 65.6,257.6 66,257.9 66.4,258.2 66.8,258.5 67.2,258.8 67.6,259.1 68,259.5 68.4,259.8 68.8,260.2 69.2,260.5 69.6,260.9 70,261.2 70.4,261.6 70.8,262 71.2,262.3 71.6,262.7 72,263.1 72.4,263.5 72.8,263.9 73.2,264.3 73.6,264.6 74,265 74.4,265.4 74.8,265.8 75.2,266.1 75.6,266.5 76,266.9 76.4,267.2 76.8,267.6 77.2,267.9 77.6,268.2 78,268.5 78.4,268.8 78.8,269.1 79.2,269.4 79.6,269.6 80,269.8 80.4,270 80.8,270.2 81.2,270.4 81.6,270.6 82,270.7 82.4,270.8 82.8,270.9 83.2,271 83.6,271 84,271 84.4,271.1 84.8,271 85.2,271 85.6,270.9 86,270.9 86.4,270.7 86.8,270.6 87.2,270.5 87.6,270.3 88,270.1 88.4,269.9 88.8,269.7 89.2,269.4 89.6,269.1 90,268.8 90.4,268.5 90.8,268.2 91.2,267.8 91.6,267.4 92,267 92.4,266.6 92.8,266.1 93.2,265.7 93.6,265.2 94,264.7 94.4,264.2 94.8,263.6 95.2,263.1 95.6,262.5 96,261.9 96.4,261.4 96.8,260.8 97.2,260.1 97.6,259.5 98,258.9 98.4,258.3 98.8,257.7 99.2,257.1 99.6,256.4 100,255.8 100.4,255.2 100.8,254.6 101.2,254 101.6,253.4 102,252.9 102.4,252.3 102.8,251.8 103.2,251.2 103.6,250.7 104,250.2 104.4,249.8 104.8,249.3 105.2,248.9 105.6,248.5 106,248.2 106.4,247.9 106.8,247.6 107.2,247.3 107.6,247.1 108,246.9 108.4,246.7 108.8,246.6 109.2,246.5 109.6,246.5 110,246.5 110.4,246.5 110.8,246.5 111.2,246.6 111.6,246.7 112,246.9 112.4,247 112.8,247.3 113.2,247.5 113.6,247.7 114,248 114.4,248.4 114.8,248.7 115.2,249.1 115.6,249.5 116,249.9 116.4,250.3 116.8,250.8 117.2,251.3 117.6,251.8 118,252.4 118.4,252.9 118.8,253.5 119.2,254.1 119.6,254.7 120,255.4 120.4,256 120.8,256.7 121.2,257.3 121.6,258 122,258.7 122.4,259.4 122.8,260.1 123.2,260.8 123.6,261.5 124,262.3 124.4,263 124.8,263.7 125.2,264.4 125.6,265.1 126,265.8 126.4,266.5 126.8,267.2 127.2,267.9 127.6,268.6 128,269.3 128.4,269.9 128.8,270.6 129.2,271.2 129.6,271.8 130,272.3 130.4,272.9 130.8,273.4 131.2,273.8 131.6,274.3 132,274.7 132.4,275.1 132.8,275.4 133.2,275.7 133.6,276 134,276.2 134.4,276.4 134.8,276.5 135.2,276.6 135.6,276.6 136,276.6 136.4,276.5 136.8,276.4 137.2,276.2 137.6,276 138,275.8 138.4,275.5 138.8,275.1 139.2,274.7 139.6,274.3 140,273.8 140.4,273.3 140.8,272.8 141.2,272.2 141.6,271.5 142,270.9 142.4,270.2 142.8,269.5 143.2,268.7 143.6,268 144,267.2 144.4,266.3 144.8,265.5 145.2,264.6 145.6,263.8 146,262.9 146.4,262 146.8,261 147.2,260.1 147.6,259.2 148,258.3 148.4,257.3 148.8,256.4 149.2,255.5 149.6,254.6 150,253.7 150.4,252.8 150.8,251.9 151.2,251.1 151.6,250.3 152,249.5 152.4,248.7 152.8,248 153.2,247.3 153.6,246.6 154,246 154.4,245.4 154.8,244.8 155.2,244.3 155.6,243.9 156,243.4 156.4,243.1 156.8,242.7 157.2,242.5 157.6,242.2 158,242.1 158.4,241.9 158.8,241.9 159.2,241.8 159.6,241.9 160,241.9 160.4,242.1 160.8,242.2 161.2,242.5 161.6,242.7 162,243.1 162.4,243.4 162.8,243.9 163.2,244.3 163.6,244.9 164,245.4 164.4,246 164.8,246.7 165.2,247.4 165.6,248.1 166,248.9 166.4,249.7 166.8,250.5 167.2,251.4 167.6,252.3 168,253.2 168.4,254.2 168.8,255.2 169.2,256.2 169.6,257.2 170,258.2 170.4,259.2 170.8,260.2 171.2,261.3 171.6,262.3 172,263.3 172.4,264.4 172.8,265.4 173.2,266.4 173.6,267.4 174,268.4 174.4,269.4 174.8,270.3 175.2,271.2 175.6,272.1 176,273 176.4,273.8 176.8,274.6 177.2,275.3 177.6,276 178,276.7 178.4,277.3 178.8,277.9 179.2,278.4 179.6,278.9 180,279.4 180.4,279.7 180.8,280.1 181.2,280.3 181.6,280.6 182,280.7 182.4,280.8 182.8,280.9 183.2,280.9 183.6,280.8 184,280.7 184.4,280.5 184.8,280.2 185.2,279.9 185.6,279.6 186,279.1 186.4,278.7 186.8,278.1 187.2,277.5 187.6,276.9 188,276.2 188.4,275.4 188.8,274.6 189.2,273.8 189.6,272.9 190,271.9 190.4,271 190.8,269.9 191.2,268.9 191.6,267.8 192,266.7 192.4,265.5 192.8,264.3 193.2,263.1 193.6,261.9 194,260.6 194.4,259.4 194.8,258.1 195.2,256.8 195.6,255.6 196,254.3 196.4,253.1 196.8,251.8 197.2,250.6 197.6,249.4 198,248.3 198.4,247.2 198.8,246.1 199.2,245.1 199.6,244.1 200,243.2 200.4,242.3 200.8,241.5 201.2,240.8 201.6,240.1 202,239.5 202.4,239 202.8,238.5 203.2,238.1 203.6,237.8 204,237.5 204.4,237.3 204.8,237.2 205.2,237.2 205.6,237.2 206,237.3 206.4,237.5 206.8,237.8 207.2,238.1 207.6,238.5 208,238.9 208.4,239.5 208.8,240.1 209.2,240.8 209.6,241.5 210,242.3 210.4,243.2 210.8,244.1 211.2,245.1 211.6,246.1 212,247.2 212.4,248.3 212.8,249.5 213.2,250.7 213.6,252 214,253.3 214.4,254.6 214.8,255.9 215.2,257.3 215.6,258.7 216,260 216.4,261.4 216.8,262.8 217.2,264.2 217.6,265.5 218,266.9 218.4,268.2 218.8,269.5 219.2,270.8 219.6,272.1 220,273.3 220.4,274.5 220.8,275.6 221.2,276.7 221.6,277.8 222,278.8 222.4,279.7 222.8,280.6 223.2,281.5 223.6,282.2 224,282.9 224.4,283.5 224.8,284.1 225.2,284.5 225.6,284.9 226,285.2 226.4,285.4 226.8,285.6 227.2,285.6 227.6,285.6 228,285.4 228.4,285.2 228.8,284.9 229.2,284.5 229.6,284 230,283.5 230.4,282.8 230.8,282.1 231.2,281.3 231.6,280.5 232,279.5 232.4,278.6 232.8,277.5 233.2,276.4 233.6,275.2 234,273.9 234.4,272.7 234.8,271.3 235.2,269.9 235.6,268.5 236,267.1 236.4,265.6 236.8,264.1 237.2,262.6 237.6,261 238,259.5 238.4,257.9 238.8,256.4 239.2,254.8 239.6,253.3 240,251.8 240.4,250.3 240.8,248.8 241.2,247.4 241.6,246.1 242,244.7 242.4,243.5 242.8,242.3 243.2,241.1 243.6,240.1 244,239.1 244.4,238.1 244.8,237.3 245.2,236.5 245.6,235.8 246,235.2 246.4,234.7 246.8,234.3 247.2,234 247.6,233.8 248,233.6 248.4,233.6 248.8,233.6 249.2,233.8 249.6,234 250,234.3 250.4,234.7 250.8,235.2 251.2,235.8 251.6,236.5 252,237.3 252.4,238.2 252.8,239.1 253.2,240.1 253.6,241.2 254,242.3 254.4,243.5 254.8,244.8 255.2,246.1 255.6,247.5 256,249 256.4,250.4 256.8,252 257.2,253.5 257.6,255.1 258,256.7 258.4,258.3 258.8,259.9 259.2,261.6 259.6,263.2 260,264.8 260.4,266.4 260.8,268 261.2,269.6 261.6,271.1 262,272.6 262.4,274.1 262.8,275.5 263.2,276.8 263.6,278.1 264,279.4 264.4,280.5 264.8,281.6 265.2,282.7 265.6,283.6 266,284.4 266.4,285.2 266.8,285.9 267.2,286.4 267.6,286.9 268,287.3 268.4,287.5 268.8,287.7 269.2,287.8 269.6,287.7 270,287.6 270.4,287.3 270.8,287 271.2,286.5 271.6,286 272,285.3 272.4,284.6 272.8,283.7 273.2,282.8 273.6,281.7 274,280.6 274.4,279.4 274.8,278.1 275.2,276.8 275.6,275.4 276,273.9 276.4,272.4 276.8,270.8 277.2,269.2 277.6,267.5 278,265.8 278.4,264.1 278.8,262.3 279.2,260.6 279.6,258.8 280,257 280.4,255.3 280.8,253.5 281.2,251.8 281.6,250.2 282,248.5 282.4,246.9 282.8,245.4 283.2,243.9 283.6,242.5 284,241.1 284.4,239.8 284.8,238.7 285.2,237.6 285.6,236.5 286,235.6 286.4,234.8 286.8,234.1 287.2,233.5 287.6,233 288,232.6 288.4,232.3 288.8,232.1 289.2,232 289.6,232 290,232.2 290.4,232.4 290.8,232.7 291.2,233.2 291.6,233.7 292,234.3 292.4,235 292.8,235.8 293.2,236.7 293.6,237.7 294,238.7 294.4,239.8 294.8,241 295.2,242.3 295.6,243.6 296,244.9 296.4,246.4 296.8,247.8 297.2,249.4 297.6,250.9 298,252.5 298.4,254.1 298.8,255.8 299.2,257.4 299.6,259.1 300,260.8 300.4,262.5 300.8,264.2 301.2,265.9 301.6,267.6 302,269.3 302.4,270.9 302.8,272.5 303.2,274.1 303.6,275.6 304,277.1 304.4,278.5 304.8,279.9 305.2,281.2 305.6,282.4 306,283.5 306.4,284.5 306.8,285.4 307.2,286.2 307.6,286.9 308,287.5 308.4,288 308.8,288.4 309.2,288.6 309.6,288.7 310,288.7 310.4,288.6 310.8,288.3 311.2,287.9 311.6,287.4 312,286.8 312.4,286 312.8,285.2 313.2,284.2 313.6,283.1 314,282 314.4,280.7 314.8,279.3 315.2,277.9 315.6,276.4 316,274.8 316.4,273.2 316.8,271.5 317.2,269.8 317.6,268 318,266.2 318.4,264.3 318.8,262.5 319.2,260.6 319.6,258.8 320,256.9 320.4,255 320.8,253.2 321.2,251.4 321.6,249.7 322,247.9 322.4,246.3 322.8,244.7 323.2,243.1 323.6,241.7 324,240.3 324.4,239 324.8,237.8 325.2,236.6 325.6,235.6 326,234.7 326.4,233.9 326.8,233.2 327.2,232.6 327.6,232.2 328,231.8 328.4,231.6 328.8,231.5 329.2,231.5 329.6,231.6 330,231.8 330.4,232.2 330.8,232.6 331.2,233.2 331.6,233.9 332,234.6 332.4,235.5 332.8,236.5 333.2,237.5 333.6,238.7 334,239.9 334.4,241.3 334.8,242.6 335.2,244.1 335.6,245.6 336,247.2 336.4,248.8 336.8,250.5 337.2,252.2 337.6,254 338,255.7 338.4,257.5 338.8,259.3 339.2,261.1 339.6,262.9 340,264.7 340.4,266.5 340.8,268.3 341.2,270 341.6,271.7 342,273.4 342.4,275 342.8,276.5 343.2,278 343.6,279.4 344,280.8 344.4,282 344.8,283.2 345.2,284.3 345.6,285.2 346,286.1 346.4,286.8 346.8,287.5 347.2,288 347.6,288.4 348,288.8 348.4,288.9 348.8,289 349.2,288.9 349.6,288.8 350,288.5 350.4,288 350.8,287.5 351.2,286.8 351.6,286.1 352,285.2 352.4,284.2 352.8,283.1 353.2,281.9 353.6,280.6 354,279.2 354.4,277.8 354.8,276.2 355.2,274.6 355.6,272.9 356,271.2 356.4,269.4 356.8,267.5 357.2,265.6 357.6,263.7 358,261.8 358.4,259.9 358.8,257.9 359.2,256 359.6,254.1 360,252.2 360.4,250.3 360.8,248.5 361.2,246.7 361.6,245 362,243.4 362.4,241.9 362.8,240.4 363.2,239 363.6,237.8 364,236.6 364.4,235.5 364.8,234.6 365.2,233.7 365.6,233 366,232.5 366.4,232 366.8,231.7 367.2,231.5 367.6,231.4 368,231.5 368.4,231.7 368.8,232 369.2,232.5 369.6,233 370,233.7 370.4,234.5 370.8,235.5 371.2,236.5 371.6,237.7 372,238.9 372.4,240.2 372.8,241.7 373.2,243.2 373.6,244.8 374,246.4 374.4,248.1 374.8,249.9 375.2,251.7 375.6,253.5 376,255.4 376.4,257.3 376.8,259.2 377.2,261.1 377.6,263 378,264.9 378.4,266.7 378.8,268.5 379.2,270.3 379.6,272.1 380,273.8 380.4,275.4 380.8,276.9 381.2,278.4 381.6,279.8 382,281.1 382.4,282.3 382.8,283.4 383.2,284.5 383.6,285.4 384,286.2 384.4,286.9 384.8,287.5 385.2,288 385.6,288.4 386,288.7 386.4,288.9 386.8,288.9 387.2,288.9 387.6,288.7 388,288.4 388.4,288 388.8,287.5 389.2,286.9 389.6,286.1 390,285.3 390.4,284.3 390.8,283.3 391.2,282.1 391.6,280.9 392,279.5 392.4,278.1 392.8,276.6 393.2,275 393.6,273.3 394,271.6 394.4,269.8 394.8,267.9 395.2,266 395.6,264.1 396,262.1 396.4,260.1 396.8,258.1 397.2,256.2 397.6,254.2 398,252.3 398.4,250.4 398.8,248.5 399.2,246.7 399.6,244.9 400,243.3 400.4,241.7 400.8,240.2 401.2,238.8 401.6,237.5 402,236.3 402.4,235.3 402.8,234.4 403.2,233.6 403.6,232.9 404,232.3 404.4,231.9 404.8,231.7 405.2,231.5 405.6,231.5 406,231.7 406.4,231.9 406.8,232.3 407.2,232.8 407.6,233.5 408,234.3 408.4,235.2 408.8,236.2 409.2,237.3 409.6,238.5 410,239.8 410.4,241.2 410.8,242.7 411.2,244.2 411.6,245.9 412,247.6 412.4,249.3 412.8,251.1 413.2,253 413.6,254.9 414,256.8 414.4,258.7 414.8,260.6 415.2,262.5 415.6,264.5 416,266.4 416.4,268.3 416.8,270.1 417.2,271.9 417.6,273.7 418,275.4 418.4,277 418.8,278.6 419.2,280 419.6,281.4 420,282.7 420.4,283.8 420.8,284.9 421.2,285.9 421.6,286.7 422,287.4 422.4,287.9 422.8,288.4 423.2,288.7 423.6,288.8 424,288.8 424.4,288.7 424.8,288.5 425.2,288.1 425.6,287.5 426,286.9 426.4,286.1 426.8,285.2 427.2,284.2 427.6,283 428,281.8 428.4,280.4 428.8,278.9 429.2,277.4 429.6,275.8 430,274.1 430.4,272.3 430.8,270.5 431.2,268.6 431.6,266.7 432,264.8 432.4,262.9 432.8,260.9 433.2,258.9 433.6,256.9 434,255 434.4,253.1 434.8,251.2 435.2,249.3 435.6,247.5 436,245.8 436.4,244.1 436.8,242.6 437.2,241.1 437.6,239.6 438,238.3 438.4,237.1 438.8,236 439.2,235 439.6,234.2 440,233.4 440.4,232.8 440.8,232.3 441.2,231.9 441.6,231.7 442,231.6 442.4,231.6 442.8,231.8 443.2,232.1 443.6,232.5 444,233.1 444.4,233.7 444.8,234.5 445.2,235.4 445.6,236.4 446,237.5 446.4,238.8 446.8,240.1 447.2,241.5 447.6,243 448,244.5 448.4,246.2 448.8,247.8 449.2,249.6 449.6,251.4 450,253.3 450.4,255.1 450.8,257 451.2,259 451.6,260.9 452,262.8 452.4,264.8 452.8,266.7 453.2,268.6 453.6,270.5 454,272.3 454.4,274.1 454.8,275.8 455.2,277.4 455.6,279 456,280.5 456.4,281.9 456.8,283.1 457.2,284.3 457.6,285.4 458,286.3 458.4,287.1 458.8,287.7 459.2,288.2 459.6,288.5 460,288.7 460.4,288.8 460.8,288.6 461.2,288.4 461.6,288 462,287.4 462.4,286.7 462.8,285.8 463.2,284.8 463.6,283.7 464,282.5 464.4,281.2 464.8,279.7 465.2,278.2 465.6,276.6 466,274.9 466.4,273.2 466.8,271.4 467.2,269.5 467.6,267.6 468,265.7 468.4,263.8 468.8,261.9 469.2,259.9 469.6,258 470,256.1 470.4,254.2 470.8,252.3 471.2,250.5 471.6,248.7 472,247 472.4,245.4 472.8,243.8 473.2,242.2 473.6,240.8 474,239.4 474.4,238.2 474.8,237 475.2,236 475.6,235 476,234.2 476.4,233.4 476.8,232.8 477.2,232.4 477.6,232 478,231.8 478.4,231.7 478.8,231.7 479.2,231.9 479.6,232.2 480,232.6 480.4,233.2 480.8,233.8 481.2,234.6 481.6,235.6 482,236.6 482.4,237.8 482.8,239 483.2,240.4 483.6,241.8 484,243.4 484.4,245 484.8,246.7 485.2,248.4 485.6,250.3 486,252.1 486.4,254 486.8,255.9 487.2,257.9 487.6,259.9 488,261.8 488.4,263.8 488.8,265.7 489.2,267.6 489.6,269.5 490,271.4 490.4,273.2 490.8,274.9 491.2,276.5 491.6,278.1 492,279.6 492.4,281 492.8,282.3 493.2,283.5 493.6,284.6 494,285.6 494.4,286.4 494.8,287.1 495.2,287.7 495.6,288.2 496,288.5 496.4,288.7 496.8,288.7 497.2,288.6 497.6,288.3 498,288 498.4,287.4 498.8,286.8 499.2,286 499.6,285.1 500,284.1 500.4,282.9 500.8,281.7 501.2,280.3 501.6,278.9 502,277.3 502.4,275.7 502.8,274 503.2,272.3 503.6,270.5 504,268.6 504.4,266.7 504.8,264.8 505.2,262.9 505.6,260.9 506,259 506.4,257.1 506.8,255.1 507.2,253.2 507.6,251.4 508,249.6 508.4,247.8 508.8,246.1 509.2,244.4 509.6,242.8 510,241.3 510.4,239.9 510.8,238.6 511.2,237.4 511.6,236.3 512,235.3 512.4,234.4 512.8,233.6 513.2,233 513.6,232.4 514,232.1 514.4,231.8 514.8,231.7 515.2,231.8 515.6,231.9 516,232.3 516.4,232.7 516.8,233.3 517.2,234.1 517.6,235 518,236 518.4,237.1 518.8,238.4 519.2,239.8 519.6,241.3 520,242.8 520.4,244.5 520.8,246.3 521.2,248.2 521.6,250.1 522,252 522.4,254 522.8,256.1 523.2,258.1 523.6,260.2 524,262.3 524.4,264.3 524.8,266.3 525.2,268.3 525.6,270.3 526,272.2 526.4,274 526.8,275.7 527.2,277.4 527.6,279 528,280.5 528.4,281.8 528.8,283.1 529.2,284.2 529.6,285.3 530,286.2 530.4,286.9 530.8,287.5 531.2,288 531.6,288.4 532,288.6 532.4,288.7 532.8,288.6 533.2,288.4 533.6,288 534,287.5 534.4,286.9 534.8,286.1 535.2,285.2 535.6,284.2 536,283.1 536.4,281.8 536.8,280.4 537.2,279 537.6,277.4 538,275.7 538.4,274 538.8,272.2 539.2,270.3 539.6,268.4 540,266.4 540.4,264.4 540.8,262.4 541.2,260.4 541.6,258.3 542,256.3 542.4,254.3 542.8,252.3 543.2,250.4 543.6,248.5 544,246.7 544.4,244.9 544.8,243.3 545.2,241.7 545.6,240.2 546,238.8 546.4,237.5 546.8,236.3 547.2,235.3 547.6,234.3 548,233.6 548.4,232.9 548.8,232.4 549.2,232 549.6,231.8 550,231.7 550.4,231.8 550.8,232 551.2,232.4 551.6,232.9 552,233.6 552.4,234.4 552.8,235.3 553.2,236.3 553.6,237.5 554,238.8 554.4,240.2 554.8,241.7 555.2,243.3 555.6,245 556,246.8 556.4,248.6 556.8,250.5 557.2,252.5 557.6,254.5 558,256.5 558.4,258.5 558.8,260.6 559.2,262.7 559.6,264.7 560,266.7 560.4,268.7 560.8,270.7 561.2,272.6 561.6,274.4 562,276.2 562.4,277.9 562.8,279.5 563.2,281 563.6,282.3 564,283.6 564.4,284.7 564.8,285.7 565.2,286.6 565.6,287.3 566,287.9 566.4,288.3 566.8,288.5 567.2,288.6 567.6,288.6 568,288.4 568.4,288 568.8,287.5 569.2,286.8 569.6,286 570,285 570.4,283.9 570.8,282.7 571.2,281.3 571.6,279.8 572,278.3 572.4,276.6 572.8,274.9 573.2,273 573.6,271.2 574,269.2 574.4,267.2 574.8,265.2 575.2,263.2 575.6,261.1 576,259.1 576.4,257 576.8,255 577.2,253 577.6,251.1 578,249.2 578.4,247.3 578.8,245.5 579.2,243.8 579.6,242.2 580,240.7 580.4,239.2 580.8,237.9 581.2,236.7 581.6,235.6 582,234.6 582.4,233.8 582.8,233.1 583.2,232.6 583.6,232.2 584,231.9 584.4,231.8 584.8,231.8 585.2,232 585.6,232.3 586,232.8 586.4,233.5 586.8,234.3 587.2,235.2 587.6,236.2 588,237.4 588.4,238.7 588.8,240.2 589.2,241.7 589.6,243.4 590,245.1 590.4,246.9 590.8,248.8 591.2,250.7 591.6,252.7 592,254.8 592.4,256.9 592.8,258.9 593.2,261 593.6,263.1 594,265.2 594.4,267.2 594.8,269.2 595.2,271.2 595.6,273 596,274.9 596.4,276.6 596.8,278.2 597.2,279.8 597.6,281.2 598,282.5 598.4,283.7 598.8,284.8 599.2,285.8 599.6,286.6 600,287.3 600.4,287.8 600.8,288.2 601.2,288.5 601.6,288.6 602,288.6 602.4,288.4 602.8,288.1 603.2,287.6 603.6,287 604,286.2 604.4,285.3 604.8,284.3 605.2,283.2 605.6,281.9 606,280.5 606.4,279 606.8,277.4 607.2,275.7 607.6,274 608,272.1 608.4,270.2 608.8,268.2 609.2,266.1 609.6,264 610,261.9 610.4,259.8 610.8,257.7 611.2,255.6 611.6,253.5 612,251.4 612.4,249.4 612.8,247.5 613.2,245.6 613.6,243.8 614,242.1 614.4,240.5 614.8,239.1 615.2,237.7 615.6,236.5 616,235.4 616.4,234.4 616.8,233.6 617.2,233 617.6,232.5 618,232.1 618.4,231.9 618.8,231.8 619.2,231.9 619.6,232.1 620,232.4 620.4,232.9 620.8,233.5 621.2,234.3 621.6,235.1 622,236.1 622.4,237.2 622.8,238.3 623.2,239.6 623.6,241 624,242.4 624.4,244 624.8,245.6 625.2,247.3 625.6,249 626,250.8 626.4,252.6 626.8,254.5 627.2,256.4 627.6,258.3 628,260.2 628.4,262.2 628.8,264.1 629.2,266 629.6,268 630,269.9 630.4,271.7 630.8,273.5 631.2,275.3 631.6,277 632,278.6 632.4,280.1 632.8,281.5 633.2,282.8 633.6,284 634,285.1 634.4,286.1 634.8,286.9 635.2,287.5 635.6,288 636,288.4 636.4,288.6 636.8,288.6 637.2,288.5 637.6,288.2 638,287.7 638.4,287.1 638.8,286.4 639.2,285.5 639.6,284.4 640,283.3 640.4,282 640.8,280.6 641.2,279 641.6,277.4 642,275.7 642.4,273.9 642.8,272.1 643.2,270.2 643.6,268.2 644,266.2 644.4,264.2 644.8,262.2 645.2,260.1 645.6,258.1 646,256 646.4,254 646.8,252.1 647.2,250.1 647.6,248.2 648,246.4 648.4,244.7 648.8,243 649.2,241.5"/>
<polyline fill="none" stroke="#008000" stroke-width="2.1" stroke-linejoin="round" stroke-linecap="round" points="51.6,264.5 52,264.3 52.4,264.2 52.8,264 53.2,263.8 53.6,263.6 54,263.4 54.4,263.2 54.8,263 55.2,262.7 55.6,262.5 56,262.2 56.4,261.9 56.8,261.7 57.2,261.4 57.6,261.1 58,260.8 58.4,260.5 58.8,260.2 59.2,259.9 59.6,259.6 60,259.3 60.4,259 60.8,258.6 61.2,258.3 61.6,258 62,257.7 62.4,257.3 62.8,257 63.2,256.7 63.6,256.3 64,256 64.4,255.7 64.8,255.3 65.2,255 65.6,254.7 66,254.4 66.4,254.1 66.8,253.9 67.2,253.6 67.6,253.3 68,253.1 68.4,252.8 68.8,252.6 69.2,252.3 69.6,252.1 70,251.9 70.4,251.7 70.8,251.5 71.2,251.4 71.6,251.2 72,251.1 72.4,250.9 72.8,250.8 73.2,250.7 73.6,250.6 74,250.6 74.4,250.5 74.8,250.5 75.2,250.5 75.6,250.5 76,250.5 76.4,250.6 76.8,250.6 77.2,250.7 77.6,250.9 78,251 78.4,251.1 78.8,251.3 79.2,251.5 79.6,251.7 80,252 80.4,252.2 80.8,252.5 81.2,252.8 81.6,253.1 82,253.5 82.4,253.8 82.8,254.2 83.2,254.6 83.6,254.9 84,255.4 84.4,255.8 84.8,256.2 85.2,256.6 85.6,257.1 86,257.5 86.4,258 86.8,258.5 87.2,259 87.6,259.5 88,259.9 88.4,260.4 88.8,261 89.2,261.5 89.6,262 90,262.5 90.4,263 90.8,263.5 91.2,264 91.6,264.5 92,265.1 92.4,265.6 92.8,266.1 93.2,266.6 93.6,267.1 94,267.5 94.4,268 94.8,268.5 95.2,268.9 95.6,269.3 96,269.8 96.4,270.2 96.8,270.5 97.2,270.9 97.6,271.2 98,271.5 98.4,271.8 98.8,272.1 99.2,272.3 99.6,272.5 100,272.7 100.4,272.8 100.8,272.9 101.2,273 101.6,273 102,273 102.4,273 102.8,272.9 103.2,272.8 103.6,272.7 104,272.5 104.4,272.3 104.8,272.1 105.2,271.8 105.6,271.5 106,271.2 106.4,270.8 106.8,270.4 107.2,269.9 107.6,269.5 108,269 108.4,268.5 108.8,268 109.2,267.4 109.6,266.8 110,266.3 110.4,265.7 110.8,265.1 111.2,264.4 111.6,263.8 112,263.2 112.4,262.5 112.8,261.9 113.2,261.2 113.6,260.6 114,259.9 114.4,259.2 114.8,258.5 115.2,257.9 115.6,257.2 116,256.6 116.4,255.9 116.8,255.2 117.2,254.6 117.6,254 118,253.3 118.4,252.7 118.8,252.1 119.2,251.6 119.6,251 120,250.4 120.4,249.9 120.8,249.4 121.2,248.9 121.6,248.4 122,248 122.4,247.6 122.8,247.2 123.2,246.8 123.6,246.4 124,246.1 124.4,245.8 124.8,245.6 125.2,245.4 125.6,245.2 126,245 126.4,244.9 126.8,244.8 127.2,244.7 127.6,244.7 128,244.7 128.4,244.8 128.8,244.9 129.2,245 129.6,245.2 130,245.4 130.4,245.7 130.8,246 131.2,246.3 131.6,246.7 132,247.1 132.4,247.5 132.8,248 133.2,248.6 133.6,249.1 134,249.7 134.4,250.4 134.8,251.1 135.2,251.8 135.6,252.5 136,253.3 136.4,254.1 136.8,254.9 137.2,255.7 137.6,256.5 138,257.4 138.4,258.3 138.8,259.2 139.2,260 139.6,260.9 140,261.8 140.4,262.7 140.8,263.6 141.2,264.5 141.6,265.3 142,266.2 142.4,267 142.8,267.8 143.2,268.6 143.6,269.4 144,270.2 144.4,270.9 144.8,271.6 145.2,272.3 145.6,273 146,273.6 146.4,274.2 146.8,274.7 147.2,275.3 147.6,275.7 148,276.2 148.4,276.6 148.8,276.9 149.2,277.2 149.6,277.4 150,277.6 150.4,277.8 150.8,277.9 151.2,277.9 151.6,277.9 152,277.9 152.4,277.8 152.8,277.6 153.2,277.4 153.6,277.1 154,276.8 154.4,276.5 154.8,276.1 155.2,275.6 155.6,275.1 156,274.6 156.4,274 156.8,273.3 157.2,272.7 157.6,272 158,271.2 158.4,270.4 158.8,269.6 159.2,268.8 159.6,268 160,267.1 160.4,266.2 160.8,265.2 161.2,264.3 161.6,263.3 162,262.4 162.4,261.4 162.8,260.4 163.2,259.4 163.6,258.4 164,257.4 164.4,256.4 164.8,255.4 165.2,254.4 165.6,253.5 166,252.5 166.4,251.6 166.8,250.7 167.2,249.8 167.6,248.9 168,248.1 168.4,247.3 168.8,246.5 169.2,245.8 169.6,245.1 170,244.4 170.4,243.8 170.8,243.3 171.2,242.7 171.6,242.3 172,241.8 172.4,241.5 172.8,241.1 173.2,240.9 173.6,240.6 174,240.5 174.4,240.4 174.8,240.3 175.2,240.3 175.6,240.4 176,240.5 176.4,240.7 176.8,240.9 177.2,241.2 177.6,241.5 178,241.9 178.4,242.3 178.8,242.8 179.2,243.3 179.6,243.9 180,244.6 180.4,245.2 180.8,246 181.2,246.7 181.6,247.5 182,248.4 182.4,249.3 182.8,250.2 183.2,251.2 183.6,252.1 184,253.2 184.4,254.2 184.8,255.3 185.2,256.3 185.6,257.4 186,258.6 186.4,259.7 186.8,260.8 187.2,262 187.6,263.1 188,264.2 188.4,265.4 188.8,266.5 189.2,267.6 189.6,268.7 190,269.8 190.4,270.9 190.8,271.9 191.2,272.9 191.6,273.9 192,274.9 192.4,275.8 192.8,276.6 193.2,277.5 193.6,278.3 194,279 194.4,279.7 194.8,280.3 195.2,280.8 195.6,281.3 196,281.7 196.4,282.1 196.8,282.3 197.2,282.5 197.6,282.7 198,282.7 198.4,282.6 198.8,282.5 199.2,282.3 199.6,282 200,281.7 200.4,281.2 200.8,280.7 201.2,280.2 201.6,279.5 202,278.8 202.4,278 202.8,277.2 203.2,276.3 203.6,275.4 204,274.4 204.4,273.3 204.8,272.3 205.2,271.1 205.6,270 206,268.8 206.4,267.6 206.8,266.3 207.2,265 207.6,263.7 208,262.4 208.4,261.1 208.8,259.8 209.2,258.4 209.6,257.1 210,255.8 210.4,254.5 210.8,253.1 211.2,251.8 211.6,250.6 212,249.3 212.4,248.1 212.8,246.9 213.2,245.8 213.6,244.7 214,243.7 214.4,242.7 214.8,241.8 215.2,240.9 215.6,240.1 216,239.3 216.4,238.6 216.8,238 217.2,237.5 217.6,237 218,236.6 218.4,236.3 218.8,236 219.2,235.8 219.6,235.7 220,235.7 220.4,235.8 220.8,235.9 221.2,236.1 221.6,236.4 222,236.8 222.4,237.2 222.8,237.7 223.2,238.3 223.6,239 224,239.7 224.4,240.5 224.8,241.4 225.2,242.4 225.6,243.4 226,244.5 226.4,245.6 226.8,246.8 227.2,248 227.6,249.3 228,250.7 228.4,252 228.8,253.4 229.2,254.8 229.6,256.3 230,257.8 230.4,259.2 230.8,260.7 231.2,262.2 231.6,263.7 232,265.2 232.4,266.6 232.8,268.1 233.2,269.5 233.6,270.9 234,272.2 234.4,273.6 234.8,274.9 235.2,276.1 235.6,277.3 236,278.5 236.4,279.5 236.8,280.6 237.2,281.5 237.6,282.4 238,283.2 238.4,284 238.8,284.6 239.2,285.2 239.6,285.6 240,286 240.4,286.3 240.8,286.5 241.2,286.6 241.6,286.6 242,286.5 242.4,286.3 242.8,286 243.2,285.6 243.6,285.2 244,284.6 244.4,284 244.8,283.2 245.2,282.4 245.6,281.5 246,280.5 246.4,279.5 246.8,278.4 247.2,277.2 247.6,275.9 248,274.6 248.4,273.3 248.8,271.9 249.2,270.4 249.6,269 250,267.4 250.4,265.9 250.8,264.3 251.2,262.8 251.6,261.2 252,259.6 252.4,258 252.8,256.4 253.2,254.8 253.6,253.3 254,251.7 254.4,250.2 254.8,248.7 255.2,247.3 255.6,245.9 256,244.5 256.4,243.2 256.8,242 257.2,240.8 257.6,239.7 258,238.7 258.4,237.7 258.8,236.8 259.2,236 259.6,235.3 260,234.7 260.4,234.1 260.8,233.7 261.2,233.3 261.6,233.1 262,232.9 262.4,232.9 262.8,232.9 263.2,233.1 263.6,233.3 264,233.7 264.4,234.1 264.8,234.7 265.2,235.3 265.6,236.1 266,236.9 266.4,237.8 266.8,238.8 267.2,239.9 267.6,241.1 268,242.3 268.4,243.6 268.8,245 269.2,246.5 269.6,247.9 270,249.5 270.4,251.1 270.8,252.7 271.2,254.4 271.6,256 272,257.7 272.4,259.4 272.8,261.2 273.2,262.9 273.6,264.6 274,266.3 274.4,267.9 274.8,269.6 275.2,271.2 275.6,272.8 276,274.3 276.4,275.8 276.8,277.2 277.2,278.5 277.6,279.8 278,281.1 278.4,282.2 278.8,283.2 279.2,284.2 279.6,285.1 280,285.8 280.4,286.5 280.8,287.1 281.2,287.5 281.6,287.9 282,288.1 282.4,288.2 282.8,288.2 283.2,288.1 283.6,287.9 284,287.6 284.4,287.1 284.8,286.6 285.2,285.9 285.6,285.2 286,284.3 286.4,283.4 286.8,282.3 287.2,281.2 287.6,280 288,278.8 288.4,277.4 288.8,276 289.2,274.6 289.6,273 290,271.5 290.4,269.9 290.8,268.3 291.2,266.7 291.6,265 292,263.3 292.4,261.7 292.8,260 293.2,258.3 293.6,256.7 294,255 294.4,253.4 294.8,251.8 295.2,250.2 295.6,248.7 296,247.2 296.4,245.7 296.8,244.3 297.2,243 297.6,241.7 298,240.4 298.4,239.3 298.8,238.2 299.2,237.1 299.6,236.2 300,235.3 300.4,234.5 300.8,233.8 301.2,233.2 301.6,232.7 302,232.3 302.4,232 302.8,231.9 303.2,231.8 303.6,231.8 304,231.9 304.4,232.2 304.8,232.6 305.2,233 305.6,233.6 306,234.3 306.4,235.2 306.8,236.1 307.2,237.1 307.6,238.3 308,239.5 308.4,240.9 308.8,242.3 309.2,243.8 309.6,245.3 310,247 310.4,248.7 310.8,250.5 311.2,252.3 311.6,254.1 312,256 312.4,257.8 312.8,259.7 313.2,261.6 313.6,263.5 314,265.4 314.4,267.2 314.8,269 315.2,270.8 315.6,272.5 316,274.2 316.4,275.8 316.8,277.3 317.2,278.8 317.6,280.2 318,281.5 318.4,282.7 318.8,283.8 319.2,284.8 319.6,285.7 320,286.5 320.4,287.2 320.8,287.8 321.2,288.2 321.6,288.6 322,288.8 322.4,288.9 322.8,288.9 323.2,288.7 323.6,288.5 324,288.1 324.4,287.6 324.8,287 325.2,286.2 325.6,285.4 326,284.4 326.4,283.4 326.8,282.3 327.2,281 327.6,279.7 328,278.3 328.4,276.9 328.8,275.3 329.2,273.7 329.6,272.1 330,270.4 330.4,268.7 330.8,266.9 331.2,265.2 331.6,263.4 332,261.5 332.4,259.7 332.8,257.9 333.2,256.1 333.6,254.4 334,252.6 334.4,250.9 334.8,249.2 335.2,247.6 335.6,246 336,244.4 336.4,243 336.8,241.6 337.2,240.2 337.6,239 338,237.8 338.4,236.7 338.8,235.7 339.2,234.8 339.6,234 340,233.3 340.4,232.7 340.8,232.2 341.2,231.8 341.6,231.6 342,231.4 342.4,231.4 342.8,231.5 343.2,231.7 343.6,232 344,232.5 344.4,233 344.8,233.7 345.2,234.5 345.6,235.3 346,236.3 346.4,237.4 346.8,238.6 347.2,239.9 347.6,241.2 348,242.7 348.4,244.2 348.8,245.8 349.2,247.4 349.6,249.1 350,250.9 350.4,252.7 350.8,254.5 351.2,256.3 351.6,258.2 352,260.1 352.4,262 352.8,263.9 353.2,265.7 353.6,267.6 354,269.4 354.4,271.2 354.8,272.9 355.2,274.6 355.6,276.2 356,277.8 356.4,279.3 356.8,280.7 357.2,282 357.6,283.2 358,284.3 358.4,285.3 358.8,286.2 359.2,287 359.6,287.6 360,288.2 360.4,288.6 360.8,288.8 361.2,289 361.6,289 362,288.8 362.4,288.6 362.8,288.2 363.2,287.7 363.6,287 364,286.2 364.4,285.4 364.8,284.3 365.2,283.2 365.6,282 366,280.7 366.4,279.3 366.8,277.8 367.2,276.2 367.6,274.6 368,272.9 368.4,271.1 368.8,269.3 369.2,267.5 369.6,265.6 370,263.7 370.4,261.8 370.8,259.8 371.2,257.9 371.6,256 372,254.1 372.4,252.2 372.8,250.4 373.2,248.6 373.6,246.9 374,245.2 374.4,243.6 374.8,242.1 375.2,240.7 375.6,239.3 376,238 376.4,236.9 376.8,235.8 377.2,234.9 377.6,234 378,233.3 378.4,232.7 378.8,232.2 379.2,231.8 379.6,231.6 380,231.5 380.4,231.5 380.8,231.6 381.2,231.8 381.6,232.2 382,232.7 382.4,233.3 382.8,233.9 383.2,234.7 383.6,235.6 384,236.6 384.4,237.7 384.8,238.9 385.2,240.1 385.6,241.5 386,242.9 386.4,244.4 386.8,245.9 387.2,247.5 387.6,249.1 388,250.8 388.4,252.6 388.8,254.3 389.2,256.1 389.6,258 390,259.8 390.4,261.6 390.8,263.5 391.2,265.3 391.6,267.1 392,268.9 392.4,270.7 392.8,272.4 393.2,274.1 393.6,275.8 394,277.4 394.4,278.9 394.8,280.3 395.2,281.7 395.6,282.9 396,284.1 396.4,285.1 396.8,286 397.2,286.8 397.6,287.5 398,288.1 398.4,288.5 398.8,288.7 399.2,288.9 399.6,288.9 400,288.7 400.4,288.5 400.8,288 401.2,287.5 401.6,286.8 402,285.9 402.4,285 402.8,283.9 403.2,282.7 403.6,281.5 404,280.1 404.4,278.6 404.8,277 405.2,275.4 405.6,273.7 406,271.9 406.4,270.1 406.8,268.3 407.2,266.4 407.6,264.5 408,262.5 408.4,260.6 408.8,258.7 409.2,256.8 409.6,254.8 410,253 410.4,251.1 410.8,249.3 411.2,247.6 411.6,245.9 412,244.2 412.4,242.7 412.8,241.2 413.2,239.8 413.6,238.5 414,237.3 414.4,236.2 414.8,235.2 415.2,234.3 415.6,233.5 416,232.9 416.4,232.3 416.8,231.9 417.2,231.7 417.6,231.6 418,231.6 418.4,231.7 418.8,232 419.2,232.4 419.6,232.9 420,233.6 420.4,234.4 420.8,235.3 421.2,236.3 421.6,237.5 422,238.7 422.4,240.1 422.8,241.6 423.2,243.1 423.6,244.8 424,246.5 424.4,248.3 424.8,250.1 425.2,252 425.6,253.9 426,255.9 426.4,257.8 426.8,259.8 427.2,261.8 427.6,263.8 428,265.8 428.4,267.7 428.8,269.6 429.2,271.4 429.6,273.2 430,274.9 430.4,276.6 430.8,278.2 431.2,279.7 431.6,281.1 432,282.4 432.4,283.6 432.8,284.6 433.2,285.6 433.6,286.5 434,287.2 434.4,287.8 434.8,288.2 435.2,288.6 435.6,288.8 436,288.8 436.4,288.7 436.8,288.5 437.2,288.2 437.6,287.7 438,287.1 438.4,286.4 438.8,285.5 439.2,284.6 439.6,283.5 440,282.3 440.4,281 440.8,279.6 441.2,278.1 441.6,276.6 442,274.9 442.4,273.2 442.8,271.5 443.2,269.7 443.6,267.8 444,265.9 444.4,264 444.8,262.1 445.2,260.2 445.6,258.3 446,256.4 446.4,254.5 446.8,252.7 447.2,250.8 447.6,249.1 448,247.3 448.4,245.7 448.8,244 449.2,242.5 449.6,241 450,239.7 450.4,238.4 450.8,237.2 451.2,236.1 451.6,235.1 452,234.2 452.4,233.5 452.8,232.8 453.2,232.3 453.6,232 454,231.7 454.4,231.6 454.8,231.7 455.2,231.8 455.6,232.2 456,232.6 456.4,233.2 456.8,234 457.2,234.9 457.6,235.9 458,237 458.4,238.3 458.8,239.7 459.2,241.2 459.6,242.9 460,244.6 460.4,246.4 460.8,248.2 461.2,250.2 461.6,252.2 462,254.2 462.4,256.2 462.8,258.3 463.2,260.4 463.6,262.5 464,264.5 464.4,266.5 464.8,268.5 465.2,270.4 465.6,272.3 466,274 466.4,275.8 466.8,277.4 467.2,278.9 467.6,280.3 468,281.7 468.4,282.9 468.8,284 469.2,285.1 469.6,285.9 470,286.7 470.4,287.4 470.8,287.9 471.2,288.3 471.6,288.6 472,288.7 472.4,288.7 472.8,288.6 473.2,288.4 473.6,288 474,287.5 474.4,286.9 474.8,286.2 475.2,285.4 475.6,284.4 476,283.3 476.4,282.2 476.8,280.9 477.2,279.5 477.6,278.1 478,276.5 478.4,274.9 478.8,273.2 479.2,271.4 479.6,269.6 480,267.8 480.4,265.9 480.8,263.9 481.2,262 481.6,260 482,258.1 482.4,256.2 482.8,254.2 483.2,252.3 483.6,250.5 484,248.7 484.4,246.9 484.8,245.2 485.2,243.6 485.6,242 486,240.6 486.4,239.2 486.8,237.9 487.2,236.7 487.6,235.7 488,234.7 488.4,233.9 488.8,233.2 489.2,232.6 489.6,232.2 490,231.9 490.4,231.7 490.8,231.7 491.2,231.8 491.6,232 492,232.4 492.4,232.9 492.8,233.6 493.2,234.3 493.6,235.2 494,236.3 494.4,237.4 494.8,238.7 495.2,240 495.6,241.5 496,243 496.4,244.7 496.8,246.4 497.2,248.2 497.6,250 498,251.9 498.4,253.8 498.8,255.8 499.2,257.8 499.6,259.7 500,261.7 500.4,263.7 500.8,265.7 501.2,267.6 501.6,269.5 502,271.4 502.4,273.1 502.8,274.9 503.2,276.5 503.6,278.1 504,279.6 504.4,281 504.8,282.3 505.2,283.4 505.6,284.5 506,285.5 506.4,286.3 506.8,287 507.2,287.6 507.6,288.1 508,288.4 508.4,288.6 508.8,288.7 509.2,288.6 509.6,288.4 510,288.1 510.4,287.7 510.8,287.1 511.2,286.4 511.6,285.5 512,284.6 512.4,283.5 512.8,282.3 513.2,281 513.6,279.6 514,278.1 514.4,276.6 514.8,274.9 515.2,273.1 515.6,271.3 516,269.4 516.4,267.5 516.8,265.5 517.2,263.5 517.6,261.4 518,259.4 518.4,257.3 518.8,255.3 519.2,253.2 519.6,251.3 520,249.3 520.4,247.4 520.8,245.6 521.2,243.9 521.6,242.2 522,240.7 522.4,239.2 522.8,237.9 523.2,236.6 523.6,235.5 524,234.6 524.4,233.7 524.8,233 525.2,232.5 525.6,232.1 526,231.8 526.4,231.7 526.8,231.8 527.2,231.9 527.6,232.3 528,232.7 528.4,233.3 528.8,234.1 529.2,235 529.6,236 530,237.1 530.4,238.3 530.8,239.7 531.2,241.1 531.6,242.7 532,244.3 532.4,246 532.8,247.8 533.2,249.6 533.6,251.5 534,253.4 534.4,255.4 534.8,257.4 535.2,259.4 535.6,261.4 536,263.5 536.4,265.5 536.8,267.4 537.2,269.4 537.6,271.3 538,273.1 538.4,274.9 538.8,276.6 539.2,278.2 539.6,279.7 540,281.1 540.4,282.5 540.8,283.7 541.2,284.8 541.6,285.7 542,286.6 542.4,287.3 542.8,287.8 543.2,288.2 543.6,288.5 544,288.6 544.4,288.6 544.8,288.5 545.2,288.2 545.6,287.7 546,287.1 546.4,286.4 546.8,285.5 547.2,284.5 547.6,283.4 548,282.2 548.4,280.8 548.8,279.4 549.2,277.8 549.6,276.2 550,274.4 550.4,272.6 550.8,270.7 551.2,268.8 551.6,266.9 552,264.9 552.4,262.8 552.8,260.8 553.2,258.7 553.6,256.7 554,254.7 554.4,252.7 554.8,250.7 555.2,248.8 555.6,247 556,245.2 556.4,243.5 556.8,241.9 557.2,240.4 557.6,238.9 558,237.6 558.4,236.4 558.8,235.4 559.2,234.4 559.6,233.6 560,233 560.4,232.4 560.8,232.1 561.2,231.8 561.6,231.8 562,231.8 562.4,232.1 562.8,232.4 563.2,233 563.6,233.7 564,234.5 564.4,235.5 564.8,236.6 565.2,237.8 565.6,239.2 566,240.7 566.4,242.3 566.8,244 567.2,245.8 567.6,247.6 568,249.6 568.4,251.5 568.8,253.6 569.2,255.7 569.6,257.8 570,259.9 570.4,262 570.8,264.1 571.2,266.2 571.6,268.2 572,270.2 572.4,272.1 572.8,274 573.2,275.7 573.6,277.4 574,279 574.4,280.5 574.8,281.9 575.2,283.2 575.6,284.3 576,285.4 576.4,286.2 576.8,287 577.2,287.6 577.6,288.1 578,288.4 578.4,288.6 578.8,288.6 579.2,288.5 579.6,288.3 580,287.8 580.4,287.3 580.8,286.6 581.2,285.8 581.6,284.8 582,283.8 582.4,282.5 582.8,281.2 583.2,279.8 583.6,278.2 584,276.6 584.4,274.9 584.8,273 585.2,271.2 585.6,269.2 586,267.2 586.4,265.2 586.8,263.1 587.2,261 587.6,258.9 588,256.9 588.4,254.8 588.8,252.7 589.2,250.7 589.6,248.8 590,246.9 590.4,245.1 590.8,243.4 591.2,241.7 591.6,240.2 592,238.7 592.4,237.4 592.8,236.2 593.2,235.2 593.6,234.3 594,233.5 594.4,232.8 594.8,232.4 595.2,232 595.6,231.8 596,231.8 596.4,231.9 596.8,232.2 597.2,232.6 597.6,233.1 598,233.8 598.4,234.6 598.8,235.6 599.2,236.7 599.6,237.9 600,239.2 600.4,240.7 600.8,242.2 601.2,243.8 601.6,245.5 602,247.3 602.4,249.2 602.8,251.1 603.2,253 603.6,255 604,257 604.4,259.1 604.8,261.1 605.2,263.2 605.6,265.2 606,267.2 606.4,269.2 606.8,271.2 607.2,273 607.6,274.9 608,276.6 608.4,278.3 608.8,279.8 609.2,281.3 609.6,282.7 610,283.9 610.4,285 610.8,286 611.2,286.8 611.6,287.5 612,288 612.4,288.4 612.8,288.6 613.2,288.6 613.6,288.5 614,288.2 614.4,287.8 614.8,287.2 615.2,286.5 615.6,285.6 616,284.6 616.4,283.5 616.8,282.2 617.2,280.8 617.6,279.3 618,277.8 618.4,276.1 618.8,274.4 619.2,272.6 619.6,270.8 620,268.9 620.4,267 620.8,265.1 621.2,263.1 621.6,261.2 622,259.3 622.4,257.3 622.8,255.4 623.2,253.5 623.6,251.7 624,249.9 624.4,248.1 624.8,246.4 625.2,244.8 625.6,243.2 626,241.7 626.4,240.3 626.8,239 627.2,237.7 627.6,236.6 628,235.6 628.4,234.7 628.8,233.9 629.2,233.2 629.6,232.7 630,232.2 630.4,232 630.8,231.8 631.2,231.8 631.6,232 632,232.3 632.4,232.7 632.8,233.3 633.2,234 633.6,234.9 634,235.9 634.4,237.1 634.8,238.4 635.2,239.8 635.6,241.3 636,243 636.4,244.7 636.8,246.6 637.2,248.5 637.6,250.4 638,252.5 638.4,254.5 638.8,256.7 639.2,258.8 639.6,260.9 640,263 640.4,265.1 640.8,267.2 641.2,269.2 641.6,271.1 642,273 642.4,274.8 642.8,276.6 643.2,278.2 643.6,279.8 644,281.2 644.4,282.5 644.8,283.7 645.2,284.8 645.6,285.8 646,286.6 646.4,287.3 646.8,287.8 647.2,288.2 647.6,288.5 648,288.6 648.4,288.6 648.8,288.4 649.2,288.1"/>
<polyline fill="none" stroke="#0000ff" stroke-width="2.1" stroke-linejoin="round" stroke-linecap="round" points="51.6,260.8 52,261.2 52.4,261.5 52.8,261.8 53.2,262.2 53.6,262.5 54,262.8 54.4,263.1 54.8,263.5 55.2,263.8 55.6,264.1 56,264.3 56.4,264.6 56.8,264.9 57.2,265.2 57.6,265.4 58,265.7 58.4,265.9 58.8,266.1 59.2,266.4 59.6,266.6 60,266.8 60.4,267 60.8,267.2 61.2,267.3 61.6,267.5 62,267.6 62.4,267.8 62.8,267.9 63.2,268 63.6,268.1 64,268.2 64.4,268.2 64.8,268.3 65.2,268.3 65.6,268.3 66,268.3 66.4,268.3 66.8,268.3 67.2,268.2 67.6,268.1 68,268.1 68.4,268 68.8,267.9 69.2,267.7 69.6,267.6 70,267.4 70.4,267.3 70.8,267.1 71.2,266.9 71.6,266.7 72,266.4 72.4,266.2 72.8,265.9 73.2,265.6 73.6,265.3 74,265 74.4,264.7 74.8,264.3 75.2,264 75.6,263.6 76,263.2 76.4,262.8 76.8,262.4 77.2,262 77.6,261.5 78,261.1 78.4,260.6 78.8,260.2 79.2,259.7 79.6,259.2 80,258.8 80.4,258.3 80.8,257.8 81.2,257.4 81.6,256.9 82,256.4 82.4,256 82.8,255.5 83.2,255.1 83.6,254.6 84,254.2 84.4,253.8 84.8,253.4 85.2,253 85.6,252.6 86,252.2 86.4,251.8 86.8,251.5 87.2,251.2 87.6,250.8 88,250.5 88.4,250.3 88.8,250 89.2,249.7 89.6,249.5 90,249.3 90.4,249.1 90.8,248.9 91.2,248.8 91.6,248.6 92,248.5 92.4,248.4 92.8,248.4 93.2,248.4 93.6,248.3 94,248.4 94.4,248.4 94.8,248.5 95.2,248.6 95.6,248.7 96,248.9 96.4,249.1 96.8,249.3 97.2,249.6 97.6,249.8 98,250.2 98.4,250.5 98.8,250.9 99.2,251.3 99.6,251.7 100,252.1 100.4,252.6 100.8,253.1 101.2,253.6 101.6,254.1 102,254.7 102.4,255.3 102.8,255.9 103.2,256.5 103.6,257.2 104,257.8 104.4,258.5 104.8,259.2 105.2,259.9 105.6,260.6 106,261.3 106.4,262 106.8,262.7 107.2,263.3 107.6,264 108,264.7 108.4,265.4 108.8,266 109.2,266.6 109.6,267.3 110,267.9 110.4,268.4 110.8,269 111.2,269.5 111.6,270 112,270.5 112.4,271 112.8,271.5 113.2,271.9 113.6,272.3 114,272.7 114.4,273 114.8,273.3 115.2,273.6 115.6,273.9 116,274.1 116.4,274.4 116.8,274.5 117.2,274.7 117.6,274.8 118,274.9 118.4,274.9 118.8,274.9 119.2,274.9 119.6,274.9 120,274.8 120.4,274.7 120.8,274.6 121.2,274.4 121.6,274.2 122,273.9 122.4,273.6 122.8,273.3 123.2,273 123.6,272.6 124,272.2 124.4,271.8 124.8,271.3 125.2,270.8 125.6,270.3 126,269.8 126.4,269.2 126.8,268.6 127.2,267.9 127.6,267.3 128,266.6 128.4,265.9 128.8,265.2 129.2,264.4 129.6,263.7 130,262.9 130.4,262.1 130.8,261.3 131.2,260.5 131.6,259.6 132,258.8 132.4,258 132.8,257.1 133.2,256.3 133.6,255.5 134,254.7 134.4,253.8 134.8,253 135.2,252.3 135.6,251.5 136,250.7 136.4,250 136.8,249.3 137.2,248.7 137.6,248 138,247.4 138.4,246.9 138.8,246.3 139.2,245.8 139.6,245.4 140,245 140.4,244.6 140.8,244.3 141.2,244 141.6,243.7 142,243.5 142.4,243.4 142.8,243.3 143.2,243.2 143.6,243.2 144,243.3 144.4,243.3 144.8,243.5 145.2,243.6 145.6,243.9 146,244.1 146.4,244.4 146.8,244.8 147.2,245.2 147.6,245.7 148,246.2 148.4,246.7 148.8,247.3 149.2,247.9 149.6,248.6 150,249.3 150.4,250 150.8,250.8 151.2,251.6 151.6,252.4 152,253.2 152.4,254.1 152.8,255 153.2,255.9 153.6,256.9 154,257.8 154.4,258.7 154.8,259.7 155.2,260.7 155.6,261.6 156,262.6 156.4,263.6 156.8,264.5 157.2,265.5 157.6,266.4 158,267.3 158.4,268.2 158.8,269.1 159.2,270 159.6,270.8 160,271.6 160.4,272.4 160.8,273.1 161.2,273.8 161.6,274.5 162,275.2 162.4,275.8 162.8,276.3 163.2,276.9 163.6,277.3 164,277.8 164.4,278.2 164.8,278.5 165.2,278.8 165.6,279 166,279.2 166.4,279.3 166.8,279.4 167.2,279.4 167.6,279.4 168,279.3 168.4,279.1 168.8,278.9 169.2,278.7 169.6,278.3 170,278 170.4,277.6 170.8,277.1 171.2,276.6 171.6,276 172,275.4 172.4,274.8 172.8,274.1 173.2,273.3 173.6,272.5 174,271.7 174.4,270.9 174.8,270 175.2,269.1 175.6,268.1 176,267.2 176.4,266.2 176.8,265.2 177.2,264.1 177.6,263.1 178,262 178.4,261 178.8,259.9 179.2,258.8 179.6,257.8 180,256.7 180.4,255.6 180.8,254.6 181.2,253.5 181.6,252.5 182,251.5 182.4,250.5 182.8,249.5 183.2,248.6 183.6,247.7 184,246.8 184.4,245.9 184.8,245.1 185.2,244.3 185.6,243.6 186,242.9 186.4,242.3 186.8,241.7 187.2,241.1 187.6,240.6 188,240.2 188.4,239.8 188.8,239.5 189.2,239.2 189.6,239 190,238.8 190.4,238.8 190.8,238.8 191.2,238.8 191.6,238.9 192,239.1 192.4,239.3 192.8,239.6 193.2,240 193.6,240.5 194,241 194.4,241.6 194.8,242.2 195.2,242.9 195.6,243.7 196,244.6 196.4,245.5 196.8,246.4 197.2,247.4 197.6,248.5 198,249.6 198.4,250.8 198.8,252 199.2,253.2 199.6,254.4 200,255.7 200.4,257 200.8,258.3 201.2,259.6 201.6,261 202,262.3 202.4,263.6 202.8,264.9 203.2,266.2 203.6,267.5 204,268.7 204.4,269.9 204.8,271.1 205.2,272.3 205.6,273.4 206,274.5 206.4,275.5 206.8,276.5 207.2,277.5 207.6,278.4 208,279.2 208.4,280 208.8,280.7 209.2,281.4 209.6,282 210,282.5 210.4,283 210.8,283.4 211.2,283.7 211.6,283.9 212,284.1 212.4,284.1 212.8,284.1 213.2,284 213.6,283.9 214,283.6 214.4,283.3 214.8,282.9 215.2,282.4 215.6,281.9 216,281.3 216.4,280.6 216.8,279.8 217.2,279 217.6,278.1 218,277.1 218.4,276.1 218.8,275.1 219.2,274 219.6,272.8 220,271.6 220.4,270.3 220.8,269.1 221.2,267.8 221.6,266.4 222,265.1 222.4,263.7 222.8,262.3 223.2,260.8 223.6,259.4 224,258 224.4,256.5 224.8,255.1 225.2,253.7 225.6,252.3 226,250.9 226.4,249.6 226.8,248.2 227.2,247 227.6,245.7 228,244.5 228.4,243.4 228.8,242.3 229.2,241.3 229.6,240.3 230,239.4 230.4,238.5 230.8,237.8 231.2,237.1 231.6,236.4 232,235.9 232.4,235.4 232.8,235.1 233.2,234.8 233.6,234.5 234,234.4 234.4,234.4 234.8,234.4 235.2,234.6 235.6,234.8 236,235.1 236.4,235.5 236.8,235.9 237.2,236.5 237.6,237.2 238,237.9 238.4,238.7 238.8,239.6 239.2,240.6 239.6,241.7 240,242.8 240.4,244 240.8,245.2 241.2,246.6 241.6,247.9 242,249.3 242.4,250.8 242.8,252.3 243.2,253.8 243.6,255.4 244,256.9 244.4,258.5 244.8,260.1 245.2,261.7 245.6,263.3 246,264.8 246.4,266.4 246.8,267.9 247.2,269.4 247.6,270.9 248,272.4 248.4,273.8 248.8,275.1 249.2,276.4 249.6,277.7 250,278.8 250.4,280 250.8,281 251.2,282 251.6,282.9 252,283.7 252.4,284.5 252.8,285.1 253.2,285.7 253.6,286.2 254,286.6 254.4,286.8 254.8,287.1 255.2,287.2 255.6,287.2 256,287.1 256.4,286.9 256.8,286.6 257.2,286.3 257.6,285.8 258,285.2 258.4,284.6 258.8,283.9 259.2,283 259.6,282.1 260,281.1 260.4,280.1 260.8,278.9 261.2,277.7 261.6,276.4 262,275 262.4,273.6 262.8,272.2 263.2,270.7 263.6,269.1 264,267.5 264.4,265.9 264.8,264.3 265.2,262.6 265.6,260.9 266,259.3 266.4,257.6 266.8,255.9 267.2,254.3 267.6,252.6 268,251 268.4,249.4 268.8,247.9 269.2,246.4 269.6,244.9 270,243.5 270.4,242.2 270.8,240.9 271.2,239.7 271.6,238.6 272,237.6 272.4,236.6 272.8,235.7 273.2,235 273.6,234.3 274,233.7 274.4,233.2 274.8,232.9 275.2,232.6 275.6,232.4 276,232.4 276.4,232.4 276.8,232.6 277.2,232.9 277.6,233.2 278,233.7 278.4,234.3 278.8,235 279.2,235.8 279.6,236.7 280,237.7 280.4,238.8 280.8,240 281.2,241.3 281.6,242.6 282,244 282.4,245.5 282.8,247 283.2,248.6 283.6,250.2 284,251.9 284.4,253.6 284.8,255.4 285.2,257.1 285.6,258.9 286,260.6 286.4,262.4 286.8,264.2 287.2,265.9 287.6,267.6 288,269.3 288.4,270.9 288.8,272.5 289.2,274 289.6,275.5 290,276.9 290.4,278.3 290.8,279.6 291.2,280.8 291.6,281.9 292,282.9 292.4,283.9 292.8,284.8 293.2,285.6 293.6,286.3 294,286.9 294.4,287.4 294.8,287.8 295.2,288.1 295.6,288.3 296,288.5 296.4,288.5 296.8,288.5 297.2,288.3 297.6,288 298,287.7 298.4,287.2 298.8,286.7 299.2,286 299.6,285.3 300,284.5 300.4,283.5 300.8,282.5 301.2,281.4 301.6,280.2 302,279 302.4,277.6 302.8,276.2 303.2,274.7 303.6,273.2 304,271.6 304.4,269.9 304.8,268.2 305.2,266.4 305.6,264.6 306,262.8 306.4,260.9 306.8,259.1 307.2,257.2 307.6,255.4 308,253.5 308.4,251.7 308.8,250 309.2,248.2 309.6,246.5 310,244.9 310.4,243.3 310.8,241.8 311.2,240.4 311.6,239.1 312,237.9 312.4,236.7 312.8,235.7 313.2,234.8 313.6,233.9 314,233.2 314.4,232.7 314.8,232.2 315.2,231.9 315.6,231.7 316,231.6 316.4,231.6 316.8,231.8 317.2,232 317.6,232.4 318,232.9 318.4,233.6 318.8,234.3 319.2,235.2 319.6,236.1 320,237.2 320.4,238.3 320.8,239.6 321.2,240.9 321.6,242.4 322,243.9 322.4,245.4 322.8,247.1 323.2,248.7 323.6,250.5 324,252.3 324.4,254.1 324.8,255.9 325.2,257.7 325.6,259.6 326,261.4 326.4,263.3 326.8,265.1 327.2,266.9 327.6,268.7 328,270.5 328.4,272.2 328.8,273.8 329.2,275.4 329.6,276.9 330,278.4 330.4,279.8 330.8,281.1 331.2,282.3 331.6,283.4 332,284.4 332.4,285.4 332.8,286.2 333.2,286.9 333.6,287.5 334,288 334.4,288.4 334.8,288.7 335.2,288.9 335.6,289 336,289 336.4,288.8 336.8,288.5 337.2,288.2 337.6,287.7 338,287.1 338.4,286.4 338.8,285.6 339.2,284.7 339.6,283.7 340,282.6 340.4,281.4 340.8,280.1 341.2,278.7 341.6,277.3 342,275.8 342.4,274.2 342.8,272.6 343.2,270.9 343.6,269.1 344,267.4 344.4,265.6 344.8,263.7 345.2,261.9 345.6,260 346,258.2 346.4,256.3 346.8,254.5 347.2,252.7 347.6,250.9 348,249.2 348.4,247.5 348.8,245.8 349.2,244.2 349.6,242.7 350,241.3 350.4,239.9 350.8,238.6 351.2,237.4 351.6,236.3 352,235.3 352.4,234.4 352.8,233.6 353.2,233 353.6,232.4 354,232 354.4,231.7 354.8,231.5 355.2,231.4 355.6,231.5 356,231.7 356.4,232 356.8,232.4 357.2,233 357.6,233.7 358,234.5 358.4,235.4 358.8,236.5 359.2,237.7 359.6,238.9 360,240.3 360.4,241.7 360.8,243.3 361.2,244.9 361.6,246.6 362,248.3 362.4,250.2 362.8,252 363.2,253.9 363.6,255.8 364,257.8 364.4,259.7 364.8,261.7 365.2,263.6 365.6,265.5 366,267.4 366.4,269.3 366.8,271.1 367.2,272.9 367.6,274.6 368,276.2 368.4,277.8 368.8,279.3 369.2,280.7 369.6,282 370,283.2 370.4,284.3 370.8,285.3 371.2,286.2 371.6,286.9 372,287.6 372.4,288.1 372.8,288.5 373.2,288.8 373.6,288.9 374,288.9 374.4,288.8 374.8,288.6 375.2,288.2 375.6,287.8 376,287.1 376.4,286.4 376.8,285.6 377.2,284.6 377.6,283.6 378,282.4 378.4,281.2 378.8,279.8 379.2,278.4 379.6,276.9 380,275.4 380.4,273.8 380.8,272.1 381.2,270.4 381.6,268.6 382,266.8 382.4,265 382.8,263.2 383.2,261.4 383.6,259.6 384,257.8 384.4,256 384.8,254.2 385.2,252.4 385.6,250.7 386,249 386.4,247.4 386.8,245.8 387.2,244.2 387.6,242.8 388,241.4 388.4,240 388.8,238.8 389.2,237.6 389.6,236.5 390,235.5 390.4,234.6 390.8,233.9 391.2,233.2 391.6,232.6 392,232.1 392.4,231.8 392.8,231.6 393.2,231.5 393.6,231.5 394,231.7 394.4,232 394.8,232.4 395.2,233 395.6,233.6 396,234.4 396.4,235.4 396.8,236.4 397.2,237.6 397.6,238.9 398,240.3 398.4,241.8 398.8,243.4 399.2,245 399.6,246.8 400,248.6 400.4,250.5 400.8,252.4 401.2,254.3 401.6,256.3 402,258.3 402.4,260.3 402.8,262.3 403.2,264.3 403.6,266.3 404,268.2 404.4,270.1 404.8,271.9 405.2,273.7 405.6,275.4 406,277 406.4,278.6 406.8,280 407.2,281.4 407.6,282.6 408,283.8 408.4,284.8 408.8,285.8 409.2,286.6 409.6,287.3 410,287.9 410.4,288.3 410.8,288.6 411.2,288.8 411.6,288.9 412,288.8 412.4,288.6 412.8,288.3 413.2,287.8 413.6,287.3 414,286.6 414.4,285.8 414.8,284.8 415.2,283.8 415.6,282.6 416,281.4 416.4,280 416.8,278.5 417.2,277 417.6,275.4 418,273.7 418.4,271.9 418.8,270.1 419.2,268.2 419.6,266.3 420,264.4 420.4,262.4 420.8,260.4 421.2,258.4 421.6,256.5 422,254.5 422.4,252.6 422.8,250.7 423.2,248.8 423.6,247 424,245.3 424.4,243.6 424.8,242 425.2,240.5 425.6,239.1 426,237.8 426.4,236.7 426.8,235.6 427.2,234.6 427.6,233.8 428,233.1 428.4,232.5 428.8,232.1 429.2,231.8 429.6,231.6 430,231.6 430.4,231.7 430.8,231.9 431.2,232.3 431.6,232.8 432,233.4 432.4,234.2 432.8,235.1 433.2,236.1 433.6,237.2 434,238.4 434.4,239.8 434.8,241.2 435.2,242.7 435.6,244.3 436,246 436.4,247.7 436.8,249.5 437.2,251.4 437.6,253.2 438,255.2 438.4,257.1 438.8,259.1 439.2,261 439.6,263 440,264.9 440.4,266.8 440.8,268.7 441.2,270.6 441.6,272.3 442,274.1 442.4,275.7 442.8,277.3 443.2,278.8 443.6,280.3 444,281.6 444.4,282.8 444.8,283.9 445.2,285 445.6,285.9 446,286.6 446.4,287.3 446.8,287.9 447.2,288.3 447.6,288.6 448,288.7 448.4,288.8 448.8,288.7 449.2,288.5 449.6,288.2 450,287.7 450.4,287.1 450.8,286.4 451.2,285.5 451.6,284.6 452,283.5 452.4,282.3 452.8,281.1 453.2,279.7 453.6,278.2 454,276.6 454.4,274.9 454.8,273.2 455.2,271.3 455.6,269.5 456,267.5 456.4,265.5 456.8,263.5 457.2,261.4 457.6,259.3 458,257.3 458.4,255.2 458.8,253.2 459.2,251.2 459.6,249.2 460,247.3 460.4,245.5 460.8,243.7 461.2,242 461.6,240.5 462,239 462.4,237.7 462.8,236.5 463.2,235.4 463.6,234.4 464,233.6 464.4,232.9 464.8,232.4 465.2,232 465.6,231.8 466,231.6 466.4,231.7 466.8,231.9 467.2,232.2 467.6,232.6 468,233.2 468.4,233.9 468.8,234.7 469.2,235.6 469.6,236.6 470,237.8 470.4,239 470.8,240.4 471.2,241.8 471.6,243.3 472,244.9 472.4,246.5 472.8,248.2 473.2,250 473.6,251.8 474,253.6 474.4,255.5 474.8,257.4 475.2,259.3 475.6,261.2 476,263.1 476.4,265 476.8,266.9 477.2,268.7 477.6,270.5 478,272.3 478.4,274 478.8,275.7 479.2,277.3 479.6,278.8 480,280.2 480.4,281.6 480.8,282.8 481.2,284 481.6,285 482,285.9 482.4,286.7 482.8,287.3 483.2,287.9 483.6,288.3 484,288.6 484.4,288.7 484.8,288.7 485.2,288.6 485.6,288.3 486,287.9 486.4,287.4 486.8,286.7 487.2,286 487.6,285.1 488,284 488.4,282.9 488.8,281.7 489.2,280.3 489.6,278.9 490,277.3 490.4,275.7 490.8,274 491.2,272.3 491.6,270.4 492,268.6 492.4,266.7 492.8,264.7 493.2,262.7 493.6,260.7 494,258.8 494.4,256.8 494.8,254.8 495.2,252.9 495.6,250.9 496,249.1 496.4,247.3 496.8,245.5 497.2,243.8 497.6,242.2 498,240.7 498.4,239.3 498.8,238 499.2,236.8 499.6,235.7 500,234.8 500.4,233.9 500.8,233.2 501.2,232.7 501.6,232.2 502,231.9 502.4,231.7 502.8,231.7 503.2,231.8 503.6,232 504,232.4 504.4,232.9 504.8,233.5 505.2,234.3 505.6,235.2 506,236.2 506.4,237.2 506.8,238.5 507.2,239.8 507.6,241.2 508,242.6 508.4,244.2 508.8,245.8 509.2,247.6 509.6,249.3 510,251.1 510.4,253 510.8,254.9 511.2,256.8 511.6,258.8 512,260.7 512.4,262.7 512.8,264.7 513.2,266.6 513.6,268.5 514,270.4 514.4,272.2 514.8,274 515.2,275.7 515.6,277.4 516,278.9 516.4,280.4 516.8,281.8 517.2,283.1 517.6,284.2 518,285.3 518.4,286.2 518.8,287 519.2,287.6 519.6,288.1 520,288.4 520.4,288.6 520.8,288.7 521.2,288.6 521.6,288.3 522,287.9 522.4,287.4 522.8,286.7 523.2,285.8 523.6,284.9 524,283.8 524.4,282.5 524.8,281.2 525.2,279.8 525.6,278.2 526,276.6 526.4,274.9 526.8,273.1 527.2,271.2 527.6,269.3 528,267.4 528.4,265.4 528.8,263.4 529.2,261.4 529.6,259.4 530,257.4 530.4,255.4 530.8,253.4 531.2,251.5 531.6,249.6 532,247.7 532.4,245.9 532.8,244.2 533.2,242.6 533.6,241.1 534,239.6 534.4,238.3 534.8,237.1 535.2,235.9 535.6,234.9 536,234.1 536.4,233.3 536.8,232.7 537.2,232.3 537.6,232 538,231.8 538.4,231.7 538.8,231.9 539.2,232.1 539.6,232.5 540,233 540.4,233.7 540.8,234.5 541.2,235.5 541.6,236.5 542,237.7 542.4,239 542.8,240.4 543.2,242 543.6,243.6 544,245.3 544.4,247 544.8,248.9 545.2,250.8 545.6,252.7 546,254.7 546.4,256.7 546.8,258.7 547.2,260.8 547.6,262.8 548,264.9 548.4,266.9 548.8,268.8 549.2,270.7 549.6,272.6 550,274.4 550.4,276.2 550.8,277.8 551.2,279.4 551.6,280.8 552,282.2 552.4,283.4 552.8,284.5 553.2,285.5 553.6,286.4 554,287.1 554.4,287.7 554.8,288.2 555.2,288.5 555.6,288.6 556,288.6 556.4,288.5 556.8,288.2 557.2,287.8 557.6,287.2 558,286.5 558.4,285.6 558.8,284.6 559.2,283.5 559.6,282.3 560,280.9 560.4,279.4 560.8,277.9 561.2,276.2 561.6,274.4 562,272.6 562.4,270.7 562.8,268.7 563.2,266.7 563.6,264.6 564,262.5 564.4,260.4 564.8,258.3 565.2,256.2 565.6,254.1 566,252.1 566.4,250 566.8,248.1 567.2,246.2 567.6,244.4 568,242.7 568.4,241.1 568.8,239.6 569.2,238.2 569.6,236.9 570,235.7 570.4,234.7 570.8,233.9 571.2,233.1 571.6,232.6 572,232.2 572.4,231.9 572.8,231.8 573.2,231.8 573.6,232 574,232.3 574.4,232.8 574.8,233.5 575.2,234.2 575.6,235.1 576,236.2 576.4,237.3 576.8,238.6 577.2,240 577.6,241.5 578,243 578.4,244.7 578.8,246.5 579.2,248.3 579.6,250.2 580,252.1 580.4,254.1 580.8,256.1 581.2,258.1 581.6,260.2 582,262.2 582.4,264.3 582.8,266.3 583.2,268.3 583.6,270.2 584,272.1 584.4,274 584.8,275.7 585.2,277.4 585.6,279 586,280.5 586.4,281.9 586.8,283.2 587.2,284.4 587.6,285.4 588,286.3 588.4,287.1 588.8,287.7 589.2,288.1 589.6,288.4 590,288.6 590.4,288.6 590.8,288.4 591.2,288.1 591.6,287.7 592,287.1 592.4,286.3 592.8,285.4 593.2,284.4 593.6,283.2 594,281.9 594.4,280.5 594.8,279 595.2,277.4 595.6,275.7 596,274 596.4,272.1 596.8,270.2 597.2,268.3 597.6,266.3 598,264.2 598.4,262.2 598.8,260.2 599.2,258.1 599.6,256.1 600,254.1 600.4,252.1 600.8,250.2 601.2,248.3 601.6,246.5 602,244.7 602.4,243 602.8,241.5 603.2,240 603.6,238.6 604,237.3 604.4,236.2 604.8,235.1 605.2,234.2 605.6,233.5 606,232.8 606.4,232.4 606.8,232 607.2,231.8 607.6,231.8 608,231.9 608.4,232.2 608.8,232.6 609.2,233.2 609.6,233.9 610,234.8 610.4,235.8 610.8,237 611.2,238.2 611.6,239.7 612,241.2 612.4,242.8 612.8,244.6 613.2,246.4 613.6,248.3 614,250.3 614.4,252.3 614.8,254.3 615.2,256.4 615.6,258.5 616,260.6 616.4,262.7 616.8,264.8 617.2,266.8 617.6,268.8 618,270.7 618.4,272.6 618.8,274.4 619.2,276.1 619.6,277.7 620,279.3 620.4,280.7 620.8,282 621.2,283.2 621.6,284.3 622,285.3 622.4,286.1 622.8,286.8 623.2,287.4 623.6,287.9 624,288.3 624.4,288.5 624.8,288.6 625.2,288.6 625.6,288.4 626,288.1 626.4,287.7 626.8,287.2 627.2,286.5 627.6,285.7 628,284.8 628.4,283.8 628.8,282.6 629.2,281.3 629.6,280 630,278.5 630.4,276.9 630.8,275.3 631.2,273.5 631.6,271.7 632,269.8 632.4,267.8 632.8,265.8 633.2,263.7 633.6,261.7 634,259.6 634.4,257.4 634.8,255.4 635.2,253.3 635.6,251.2 636,249.2 636.4,247.3 636.8,245.4 637.2,243.7 637.6,242 638,240.4 638.4,238.9 638.8,237.6 639.2,236.3 639.6,235.3 640,234.3 640.4,233.5 640.8,232.9 641.2,232.4 641.6,232 642,231.8 642.4,231.8 642.8,231.9 643.2,232.2 643.6,232.6 644,233.1 644.4,233.8 644.8,234.7 645.2,235.6 645.6,236.7 646,237.9 646.4,239.3 646.8,240.7 647.2,242.2 647.6,243.9 648,245.6 648.4,247.3 648.8,249.2 649.2,251.1"/>
</g>
<line x1="52.8" y1="335.0" x2="648.0" y2="335.0" stroke="#dcdcdc" stroke-width="1.3"/>
<line x1="52.8" y1="368.2" x2="648.0" y2="368.2" stroke="#dcdcdc" stroke-width="1.3"/>
<line x1="52.8" y1="399.8" x2="648.0" y2="399.8" stroke="#dcdcdc" stroke-width="1.3"/>
<line x1="250.9" y1="331.0" x2="250.9" y2="403.2" stroke="#dcdcdc" stroke-width="1.3"/>
<line x1="450.2" y1="331.0" x2="450.2" y2="403.2" stroke="#dcdcdc" stroke-width="1.3"/>
<line x1="52.8" y1="335.0" x2="58.8" y2="335.0" stroke="#2a2a2a" stroke-width="1.25"/>
<line x1="642.0" y1="335.0" x2="648.0" y2="335.0" stroke="#2a2a2a" stroke-width="1.25"/>
<line x1="52.8" y1="368.2" x2="58.8" y2="368.2" stroke="#2a2a2a" stroke-width="1.25"/>
<line x1="642.0" y1="368.2" x2="648.0" y2="368.2" stroke="#2a2a2a" stroke-width="1.25"/>
<line x1="52.8" y1="399.8" x2="58.8" y2="399.8" stroke="#2a2a2a" stroke-width="1.25"/>
<line x1="642.0" y1="399.8" x2="648.0" y2="399.8" stroke="#2a2a2a" stroke-width="1.25"/>
<line x1="250.9" y1="331.0" x2="250.9" y2="338.0" stroke="#2a2a2a" stroke-width="1.25"/>
<line x1="250.9" y1="396.2" x2="250.9" y2="403.2" stroke="#2a2a2a" stroke-width="1.25"/>
<line x1="450.2" y1="331.0" x2="450.2" y2="338.0" stroke="#2a2a2a" stroke-width="1.25"/>
<line x1="450.2" y1="396.2" x2="450.2" y2="403.2" stroke="#2a2a2a" stroke-width="1.25"/>
<rect x="52.5" y="331.5" width="596.0" height="72.0" fill="none" stroke="#151515" stroke-width="1.15"/>
<clipPath id="c4"><rect x="52.0" y="330.2" width="596.8000000000001" height="73.79999999999998"/></clipPath>
<g clip-path="url(#c4)">
<polyline fill="none" stroke="#ff0000" stroke-width="2.1" stroke-linejoin="round" stroke-linecap="round" points="50.8,357.3 51.2,358 51.6,358.8 52,359.6 52.4,360.4 52.8,361.1 53.2,361.9 53.6,362.8 54,363.6 54.4,364.4 54.8,365.2 55.2,366 55.6,366.8 56,367.6 56.4,368.4 56.8,369.3 57.2,370.1 57.6,370.9 58,371.7 58.4,372.4 58.8,373.2 59.2,374 59.6,374.8 60,375.5 60.4,376.2 60.8,376.9 61.2,377.6 61.6,378.3 62,379 62.4,379.6 62.8,380.3 63.2,380.9 63.6,381.4 64,382 64.4,382.5 64.8,383 65.2,383.5 65.6,383.9 66,384.4 66.4,384.7 66.8,385.1 67.2,385.5 67.6,385.8 68,386.1 68.4,386.3 68.8,386.6 69.2,386.8 69.6,387 70,387.1 70.4,387.3 70.8,387.4 71.2,387.5 71.6,387.5 72,387.6 72.4,387.6 72.8,387.6 73.2,387.6 73.6,387.5 74,387.5 74.4,387.3 74.8,387.2 75.2,387 75.6,386.8 76,386.6 76.4,386.3 76.8,386 77.2,385.7 77.6,385.3 78,384.9 78.4,384.5 78.8,384.1 79.2,383.6 79.6,383 80,382.5 80.4,381.9 80.8,381.3 81.2,380.7 81.6,380.1 82,379.4 82.4,378.7 82.8,378 83.2,377.3 83.6,376.6 84,375.9 84.4,375.1 84.8,374.4 85.2,373.6 85.6,372.9 86,372.1 86.4,371.4 86.8,370.6 87.2,369.9 87.6,369.2 88,368.4 88.4,367.7 88.8,367 89.2,366.3 89.6,365.6 90,364.9 90.4,364.3 90.8,363.6 91.2,363 91.6,362.4 92,361.7 92.4,361.1 92.8,360.5 93.2,360 93.6,359.4 94,358.8 94.4,358.3 94.8,357.8 95.2,357.3 95.6,356.8 96,356.4 96.4,355.9 96.8,355.5 97.2,355.1 97.6,354.7 98,354.4 98.4,354 98.8,353.7 99.2,353.4 99.6,353.2 100,352.9 100.4,352.7 100.8,352.6 101.2,352.4 101.6,352.3 102,352.2 102.4,352.2 102.8,352.1 103.2,352.1 103.6,352.2 104,352.2 104.4,352.3 104.8,352.4 105.2,352.6 105.6,352.8 106,353 106.4,353.2 106.8,353.5 107.2,353.8 107.6,354.1 108,354.4 108.4,354.8 108.8,355.2 109.2,355.5 109.6,356 110,356.4 110.4,356.9 110.8,357.3 111.2,357.8 111.6,358.3 112,358.9 112.4,359.4 112.8,360 113.2,360.6 113.6,361.2 114,361.8 114.4,362.4 114.8,363.1 115.2,363.8 115.6,364.5 116,365.2 116.4,366 116.8,366.7 117.2,367.4 117.6,368.2 118,368.9 118.4,369.6 118.8,370.3 119.2,371 119.6,371.7 120,372.4 120.4,373 120.8,373.6 121.2,374.2 121.6,374.8 122,375.3 122.4,375.8 122.8,376.3 123.2,376.8 123.6,377.2 124,377.6 124.4,378 124.8,378.3 125.2,378.7 125.6,379 126,379.3 126.4,379.5 126.8,379.8 127.2,380 127.6,380.1 128,380.3 128.4,380.4 128.8,380.5 129.2,380.5 129.6,380.6 130,380.6 130.4,380.6 130.8,380.5 131.2,380.4 131.6,380.3 132,380.1 132.4,379.9 132.8,379.7 133.2,379.5 133.6,379.2 134,378.9 134.4,378.5 134.8,378.2 135.2,377.8 135.6,377.4 136,376.9 136.4,376.5 136.8,376 137.2,375.5 137.6,375 138,374.4 138.4,373.8 138.8,373.3 139.2,372.7 139.6,372 140,371.4 140.4,370.8 140.8,370.1 141.2,369.5 141.6,368.8 142,368.2 142.4,367.5 142.8,366.9 143.2,366.2 143.6,365.6 144,365 144.4,364.3 144.8,363.7 145.2,363.2 145.6,362.6 146,362 146.4,361.5 146.8,361 147.2,360.5 147.6,360 148,359.6 148.4,359.2 148.8,358.8 149.2,358.4 149.6,358.1 150,357.8 150.4,357.5 150.8,357.3 151.2,357.1 151.6,356.9 152,356.8 152.4,356.8 152.8,356.7 153.2,356.7 153.6,356.8 154,356.8 154.4,357 154.8,357.1 155.2,357.3 155.6,357.5 156,357.7 156.4,358 156.8,358.3 157.2,358.6 157.6,359 158,359.4 158.4,359.8 158.8,360.2 159.2,360.6 159.6,361.1 160,361.5 160.4,362 160.8,362.5 161.2,363 161.6,363.5 162,364 162.4,364.6 162.8,365.1 163.2,365.6 163.6,366.2 164,366.7 164.4,367.3 164.8,367.8 165.2,368.4 165.6,368.9 166,369.5 166.4,370 166.8,370.6 167.2,371.1 167.6,371.6 168,372.1 168.4,372.6 168.8,373 169.2,373.4 169.6,373.8 170,374.2 170.4,374.5 170.8,374.8 171.2,375 171.6,375.3 172,375.5 172.4,375.6 172.8,375.7 173.2,375.8 173.6,375.9 174,376 174.4,376 174.8,376 175.2,375.9 175.6,375.9 176,375.8 176.4,375.6 176.8,375.5 177.2,375.3 177.6,375 178,374.8 178.4,374.5 178.8,374.2 179.2,373.8 179.6,373.5 180,373.1 180.4,372.7 180.8,372.3 181.2,371.8 181.6,371.4 182,371 182.4,370.5 182.8,370 183.2,369.6 183.6,369.1 184,368.7 184.4,368.2 184.8,367.8 185.2,367.3 185.6,366.9 186,366.5 186.4,366 186.8,365.6 187.2,365.2 187.6,364.8 188,364.4 188.4,364 188.8,363.6 189.2,363.3 189.6,362.9 190,362.6 190.4,362.3 190.8,362 191.2,361.7 191.6,361.5 192,361.3 192.4,361.1 192.8,361 193.2,360.9 193.6,360.8 194,360.8 194.4,360.8 194.8,360.8 195.2,360.9 195.6,361 196,361.1 196.4,361.3 196.8,361.5 197.2,361.6 197.6,361.9 198,362.1 198.4,362.4 198.8,362.7 199.2,363 199.6,363.3 200,363.6 200.4,364 200.8,364.4 201.2,364.8 201.6,365.2 202,365.7 202.4,366.1 202.8,366.6 203.2,367.1 203.6,367.6 204,368.1 204.4,368.6 204.8,369.1 205.2,369.6 205.6,370.1 206,370.6 206.4,371 206.8,371.5 207.2,371.9 207.6,372.3 208,372.6 208.4,373 208.8,373.3 209.2,373.5 209.6,373.8 210,374 210.4,374.2 210.8,374.4 211.2,374.5 211.6,374.6 212,374.7 212.4,374.7 212.8,374.7 213.2,374.7 213.6,374.6 214,374.5 214.4,374.4 214.8,374.2 215.2,374 215.6,373.7 216,373.4 216.4,373 216.8,372.6 217.2,372.2 217.6,371.8 218,371.3 218.4,370.8 218.8,370.4 219.2,369.9 219.6,369.4 220,368.9 220.4,368.4 220.8,367.9 221.2,367.4 221.6,366.9 222,366.4 222.4,365.9 222.8,365.5 223.2,365 223.6,364.5 224,364 224.4,363.6 224.8,363.1 225.2,362.7 225.6,362.3 226,361.8 226.4,361.4 226.8,361.1 227.2,360.7 227.6,360.4 228,360.1 228.4,359.8 228.8,359.5 229.2,359.3 229.6,359.1 230,358.9 230.4,358.8 230.8,358.7 231.2,358.7 231.6,358.7 232,358.7 232.4,358.8 232.8,358.9 233.2,359 233.6,359.2 234,359.4 234.4,359.6 234.8,359.9 235.2,360.2 235.6,360.5 236,360.8 236.4,361.2 236.8,361.5 237.2,362 237.6,362.4 238,362.9 238.4,363.3 238.8,363.8 239.2,364.4 239.6,364.9 240,365.5 240.4,366.1 240.8,366.7 241.2,367.3 241.6,367.9 242,368.5 242.4,369.2 242.8,369.8 243.2,370.4 243.6,371 244,371.6 244.4,372.2 244.8,372.7 245.2,373.2 245.6,373.8 246,374.2 246.4,374.7 246.8,375.1 247.2,375.5 247.6,375.9 248,376.2 248.4,376.5 248.8,376.8 249.2,377 249.6,377.2 250,377.4 250.4,377.5 250.8,377.6 251.2,377.7 251.6,377.7 252,377.7 252.4,377.6 252.8,377.5 253.2,377.4 253.6,377.3 254,377.1 254.4,376.9 254.8,376.6 255.2,376.3 255.6,376 256,375.6 256.4,375.2 256.8,374.7 257.2,374.3 257.6,373.8 258,373.2 258.4,372.7 258.8,372.1 259.2,371.4 259.6,370.8 260,370.1 260.4,369.4 260.8,368.8 261.2,368.1 261.6,367.4 262,366.7 262.4,366 262.8,365.3 263.2,364.6 263.6,364 264,363.3 264.4,362.7 264.8,362.1 265.2,361.6 265.6,361 266,360.5 266.4,360 266.8,359.6 267.2,359.2 267.6,358.8 268,358.4 268.4,358.1 268.8,357.8 269.2,357.5 269.6,357.3 270,357.1 270.4,357 270.8,356.9 271.2,356.8 271.6,356.8 272,356.8 272.4,356.9 272.8,357 273.2,357.2 273.6,357.4 274,357.6 274.4,357.9 274.8,358.3 275.2,358.6 275.6,359 276,359.5 276.4,359.9 276.8,360.4 277.2,361 277.6,361.5 278,362.1 278.4,362.7 278.8,363.3 279.2,364 279.6,364.6 280,365.3 280.4,365.9 280.8,366.6 281.2,367.3 281.6,367.9 282,368.6 282.4,369.3 282.8,369.9 283.2,370.6 283.6,371.2 284,371.9 284.4,372.5 284.8,373.1 285.2,373.7 285.6,374.3 286,374.8 286.4,375.3 286.8,375.8 287.2,376.3 287.6,376.7 288,377.1 288.4,377.4 288.8,377.7 289.2,378 289.6,378.2 290,378.4 290.4,378.5 290.8,378.6 291.2,378.6 291.6,378.6 292,378.5 292.4,378.5 292.8,378.3 293.2,378.2 293.6,377.9 294,377.7 294.4,377.4 294.8,377.1 295.2,376.7 295.6,376.3 296,375.9 296.4,375.4 296.8,374.9 297.2,374.4 297.6,373.8 298,373.2 298.4,372.5 298.8,371.9 299.2,371.2 299.6,370.5 300,369.7 300.4,369 300.8,368.3 301.2,367.5 301.6,366.8 302,366 302.4,365.3 302.8,364.6 303.2,363.8 303.6,363.1 304,362.5 304.4,361.8 304.8,361.2 305.2,360.6 305.6,360.1 306,359.5 306.4,359.1 306.8,358.6 307.2,358.2 307.6,357.8 308,357.4 308.4,357.1 308.8,356.8 309.2,356.6 309.6,356.4 310,356.3 310.4,356.2 310.8,356.1 311.2,356.1 311.6,356.1 312,356.2 312.4,356.4 312.8,356.5 313.2,356.8 313.6,357 314,357.4 314.4,357.7 314.8,358.2 315.2,358.6 315.6,359.1 316,359.6 316.4,360.2 316.8,360.8 317.2,361.4 317.6,362.1 318,362.8 318.4,363.5 318.8,364.2 319.2,365 319.6,365.7 320,366.5 320.4,367.3 320.8,368 321.2,368.8 321.6,369.6 322,370.3 322.4,371.1 322.8,371.8 323.2,372.5 323.6,373.2 324,373.8 324.4,374.5 324.8,375.1 325.2,375.6 325.6,376.2 326,376.7 326.4,377.1 326.8,377.5 327.2,377.9 327.6,378.3 328,378.6 328.4,378.9 328.8,379.1 329.2,379.3 329.6,379.4 330,379.5 330.4,379.6 330.8,379.6 331.2,379.5 331.6,379.4 332,379.3 332.4,379 332.8,378.8 333.2,378.5 333.6,378.1 334,377.7 334.4,377.2 334.8,376.7 335.2,376.2 335.6,375.6 336,374.9 336.4,374.3 336.8,373.6 337.2,372.9 337.6,372.2 338,371.5 338.4,370.7 338.8,370 339.2,369.2 339.6,368.4 340,367.7 340.4,366.9 340.8,366.1 341.2,365.4 341.6,364.6 342,363.9 342.4,363.1 342.8,362.4 343.2,361.7 343.6,361 344,360.3 344.4,359.7 344.8,359.1 345.2,358.6 345.6,358 346,357.6 346.4,357.1 346.8,356.8 347.2,356.5 347.6,356.2 348,356 348.4,355.8 348.8,355.7 349.2,355.7 349.6,355.7 350,355.8 350.4,355.9 350.8,356.1 351.2,356.3 351.6,356.5 352,356.8 352.4,357.2 352.8,357.6 353.2,358 353.6,358.5 354,359 354.4,359.5 354.8,360.1 355.2,360.7 355.6,361.4 356,362 356.4,362.7 356.8,363.4 357.2,364.1 357.6,364.8 358,365.5 358.4,366.3 358.8,367 359.2,367.8 359.6,368.5 360,369.2 360.4,370 360.8,370.7 361.2,371.4 361.6,372.1 362,372.8 362.4,373.5 362.8,374.2 363.2,374.8 363.6,375.4 364,376 364.4,376.5 364.8,377 365.2,377.5 365.6,377.9 366,378.3 366.4,378.6 366.8,378.9 367.2,379.1 367.6,379.3 368,379.5 368.4,379.6 368.8,379.6 369.2,379.6 369.6,379.5 370,379.4 370.4,379.2 370.8,379 371.2,378.7 371.6,378.3 372,377.9 372.4,377.4 372.8,376.9 373.2,376.3 373.6,375.7 374,375.1 374.4,374.4 374.8,373.7 375.2,373 375.6,372.2 376,371.4 376.4,370.7 376.8,369.9 377.2,369.1 377.6,368.3 378,367.5 378.4,366.7 378.8,365.9 379.2,365.1 379.6,364.3 380,363.6 380.4,362.8 380.8,362.1 381.2,361.5 381.6,360.8 382,360.2 382.4,359.6 382.8,359 383.2,358.5 383.6,358 384,357.6 384.4,357.2 384.8,356.9 385.2,356.6 385.6,356.3 386,356.1 386.4,356 386.8,355.9 387.2,355.9 387.6,355.9 388,356 388.4,356.1 388.8,356.2 389.2,356.5 389.6,356.7 390,357.1 390.4,357.4 390.8,357.8 391.2,358.3 391.6,358.8 392,359.3 392.4,359.9 392.8,360.5 393.2,361.1 393.6,361.8 394,362.5 394.4,363.2 394.8,364 395.2,364.7 395.6,365.5 396,366.3 396.4,367.1 396.8,367.9 397.2,368.7 397.6,369.5 398,370.2 398.4,371 398.8,371.8 399.2,372.5 399.6,373.2 400,373.9 400.4,374.6 400.8,375.3 401.2,375.9 401.6,376.4 402,377 402.4,377.5 402.8,377.9 403.2,378.3 403.6,378.6 404,378.9 404.4,379.1 404.8,379.3 405.2,379.4 405.6,379.5 406,379.5 406.4,379.4 406.8,379.3 407.2,379.1 407.6,378.9 408,378.6 408.4,378.3 408.8,377.9 409.2,377.5 409.6,377 410,376.4 410.4,375.9 410.8,375.3 411.2,374.6 411.6,373.9 412,373.2 412.4,372.5 412.8,371.8 413.2,371 413.6,370.2 414,369.4 414.4,368.7 414.8,367.9 415.2,367.1 415.6,366.3 416,365.5 416.4,364.7 416.8,364 417.2,363.2 417.6,362.5 418,361.8 418.4,361.1 418.8,360.5 419.2,359.9 419.6,359.3 420,358.8 420.4,358.3 420.8,357.8 421.2,357.4 421.6,357 422,356.7 422.4,356.4 422.8,356.2 423.2,356 423.6,355.9 424,355.9 424.4,355.8 424.8,355.9 425.2,356 425.6,356.1 426,356.3 426.4,356.6 426.8,356.9 427.2,357.2 427.6,357.6 428,358.1 428.4,358.6 428.8,359.1 429.2,359.7 429.6,360.3 430,361 430.4,361.7 430.8,362.4 431.2,363.1 431.6,363.9 432,364.6 432.4,365.4 432.8,366.2 433.2,367.1 433.6,367.9 434,368.7 434.4,369.5 434.8,370.3 435.2,371.1 435.6,371.9 436,372.6 436.4,373.3 436.8,374 437.2,374.7 437.6,375.4 438,376 438.4,376.5 438.8,377.1 439.2,377.6 439.6,378 440,378.4 440.4,378.7 440.8,379 441.2,379.3 441.6,379.4 442,379.6 442.4,379.6 442.8,379.7 443.2,379.6 443.6,379.5 444,379.4 444.4,379.2 444.8,378.9 445.2,378.6 445.6,378.2 446,377.8 446.4,377.3 446.8,376.8 447.2,376.3 447.6,375.7 448,375 448.4,374.4 448.8,373.7 449.2,372.9 449.6,372.2 450,371.4 450.4,370.6 450.8,369.8 451.2,368.9 451.6,368.1 452,367.3 452.4,366.4 452.8,365.6 453.2,364.8 453.6,363.9 454,363.1 454.4,362.4 454.8,361.6 455.2,360.9 455.6,360.2 456,359.6 456.4,359 456.8,358.4 457.2,357.9 457.6,357.4 458,357 458.4,356.6 458.8,356.3 459.2,356.1 459.6,355.9 460,355.7 460.4,355.6 460.8,355.6 461.2,355.6 461.6,355.7 462,355.9 462.4,356.1 462.8,356.3 463.2,356.6 463.6,357 464,357.4 464.4,357.8 464.8,358.3 465.2,358.9 465.6,359.4 466,360.1 466.4,360.7 466.8,361.4 467.2,362.1 467.6,362.8 468,363.6 468.4,364.4 468.8,365.2 469.2,366 469.6,366.8 470,367.6 470.4,368.5 470.8,369.3 471.2,370.1 471.6,370.9 472,371.7 472.4,372.5 472.8,373.3 473.2,374 473.6,374.7 474,375.4 474.4,376 474.8,376.6 475.2,377.2 475.6,377.7 476,378.2 476.4,378.6 476.8,378.9 477.2,379.2 477.6,379.5 478,379.7 478.4,379.8 478.8,379.9 479.2,379.9 479.6,379.9 480,379.7 480.4,379.6 480.8,379.4 481.2,379.1 481.6,378.7 482,378.3 482.4,377.9 482.8,377.4 483.2,376.8 483.6,376.2 484,375.6 484.4,374.9 484.8,374.2 485.2,373.4 485.6,372.6 486,371.8 486.4,371 486.8,370.2 487.2,369.3 487.6,368.4 488,367.5 488.4,366.7 488.8,365.8 489.2,364.9 489.6,364.1 490,363.2 490.4,362.4 490.8,361.7 491.2,360.9 491.6,360.2 492,359.5 492.4,358.9 492.8,358.3 493.2,357.7 493.6,357.3 494,356.8 494.4,356.4 494.8,356.1 495.2,355.8 495.6,355.6 496,355.5 496.4,355.4 496.8,355.4 497.2,355.5 497.6,355.6 498,355.7 498.4,356 498.8,356.3 499.2,356.6 499.6,357 500,357.5 500.4,358 500.8,358.6 501.2,359.2 501.6,359.8 502,360.5 502.4,361.2 502.8,362 503.2,362.8 503.6,363.6 504,364.4 504.4,365.3 504.8,366.2 505.2,367 505.6,367.9 506,368.8 506.4,369.6 506.8,370.5 507.2,371.3 507.6,372.1 508,372.9 508.4,373.7 508.8,374.4 509.2,375.1 509.6,375.8 510,376.4 510.4,377 510.8,377.5 511.2,378 511.6,378.5 512,378.8 512.4,379.2 512.8,379.5 513.2,379.7 513.6,379.9 514,380 514.4,380 514.8,380 515.2,380 515.6,379.9 516,379.7 516.4,379.5 516.8,379.2 517.2,378.8 517.6,378.5 518,378 518.4,377.5 518.8,377 519.2,376.4 519.6,375.8 520,375.1 520.4,374.4 520.8,373.7 521.2,372.9 521.6,372.1 522,371.3 522.4,370.4 522.8,369.6 523.2,368.7 523.6,367.8 524,366.9 524.4,366.1 524.8,365.2 525.2,364.3 525.6,363.5 526,362.7 526.4,361.9 526.8,361.1 527.2,360.4 527.6,359.7 528,359 528.4,358.4 528.8,357.8 529.2,357.3 529.6,356.9 530,356.5 530.4,356.1 530.8,355.8 531.2,355.6 531.6,355.4 532,355.4 532.4,355.3 532.8,355.4 533.2,355.5 533.6,355.6 534,355.8 534.4,356.1 534.8,356.5 535.2,356.9 535.6,357.4 536,357.9 536.4,358.5 536.8,359.1 537.2,359.8 537.6,360.5 538,361.2 538.4,362 538.8,362.9 539.2,363.7 539.6,364.6 540,365.5 540.4,366.3 540.8,367.2 541.2,368.2 541.6,369 542,369.9 542.4,370.8 542.8,371.7 543.2,372.5 543.6,373.3 544,374.1 544.4,374.8 544.8,375.5 545.2,376.2 545.6,376.8 546,377.4 546.4,377.9 546.8,378.4 547.2,378.8 547.6,379.2 548,379.5 548.4,379.7 548.8,379.9 549.2,380 549.6,380.1 550,380.1 550.4,380.1 550.8,379.9 551.2,379.8 551.6,379.5 552,379.3 552.4,378.9 552.8,378.5 553.2,378.1 553.6,377.5 554,377 554.4,376.4 554.8,375.7 555.2,375 555.6,374.3 556,373.5 556.4,372.7 556.8,371.9 557.2,371 557.6,370.1 558,369.2 558.4,368.3 558.8,367.4 559.2,366.5 559.6,365.6 560,364.7 560.4,363.8 560.8,362.9 561.2,362.1 561.6,361.3 562,360.5 562.4,359.8 562.8,359.1 563.2,358.4 563.6,357.9 564,357.3 564.4,356.8 564.8,356.4 565.2,356.1 565.6,355.8 566,355.6 566.4,355.4 566.8,355.3 567.2,355.3 567.6,355.3 568,355.4 568.4,355.5 568.8,355.8 569.2,356 569.6,356.4 570,356.8 570.4,357.2 570.8,357.7 571.2,358.3 571.6,358.8 572,359.5 572.4,360.2 572.8,360.9 573.2,361.6 573.6,362.4 574,363.2 574.4,364 574.8,364.8 575.2,365.7 575.6,366.6 576,367.4 576.4,368.3 576.8,369.2 577.2,370 577.6,370.9 578,371.7 578.4,372.5 578.8,373.3 579.2,374.1 579.6,374.9 580,375.6 580.4,376.2 580.8,376.9 581.2,377.4 581.6,378 582,378.4 582.4,378.9 582.8,379.2 583.2,379.5 583.6,379.8 584,380 584.4,380.1 584.8,380.2 585.2,380.2 585.6,380.1 586,380 586.4,379.8 586.8,379.5 587.2,379.2 587.6,378.8 588,378.4 588.4,377.9 588.8,377.4 589.2,376.8 589.6,376.1 590,375.4 590.4,374.7 590.8,373.9 591.2,373.1 591.6,372.3 592,371.4 592.4,370.6 592.8,369.7 593.2,368.7 593.6,367.8 594,366.9 594.4,366 594.8,365.1 595.2,364.2 595.6,363.3 596,362.4 596.4,361.6 596.8,360.8 597.2,360.1 597.6,359.3 598,358.7 598.4,358 598.8,357.5 599.2,357 599.6,356.5 600,356.1 600.4,355.8 600.8,355.6 601.2,355.4 601.6,355.3 602,355.2 602.4,355.2 602.8,355.3 603.2,355.5 603.6,355.7 604,356 604.4,356.3 604.8,356.7 605.2,357.2 605.6,357.7 606,358.3 606.4,359 606.8,359.6 607.2,360.4 607.6,361.1 608,362 608.4,362.8 608.8,363.7 609.2,364.5 609.6,365.5 610,366.4 610.4,367.3 610.8,368.2 611.2,369.1 611.6,370.1 612,371 612.4,371.9 612.8,372.7 613.2,373.6 613.6,374.4 614,375.1 614.4,375.9 614.8,376.5 615.2,377.2 615.6,377.8 616,378.3 616.4,378.8 616.8,379.2 617.2,379.5 617.6,379.8 618,380 618.4,380.1 618.8,380.2 619.2,380.2 619.6,380.2 620,380 620.4,379.8 620.8,379.6 621.2,379.2 621.6,378.8 622,378.4 622.4,377.9 622.8,377.3 623.2,376.7 623.6,376 624,375.3 624.4,374.6 624.8,373.8 625.2,373 625.6,372.1 626,371.2 626.4,370.4 626.8,369.5 627.2,368.6 627.6,367.7 628,366.7 628.4,365.8 628.8,364.9 629.2,364.1 629.6,363.2 630,362.4 630.4,361.6 630.8,360.8 631.2,360.1 631.6,359.4 632,358.7 632.4,358.1 632.8,357.5 633.2,357 633.6,356.6 634,356.2 634.4,355.9 634.8,355.6 635.2,355.4 635.6,355.2 636,355.1 636.4,355.1 636.8,355.2 637.2,355.3 637.6,355.5 638,355.7 638.4,356 638.8,356.4 639.2,356.8 639.6,357.3 640,357.8 640.4,358.4 640.8,359 641.2,359.7 641.6,360.4 642,361.2 642.4,362 642.8,362.8 643.2,363.7 643.6,364.5 644,365.4 644.4,366.3 644.8,367.2 645.2,368.1 645.6,369 646,369.9 646.4,370.8 646.8,371.7 647.2,372.5 647.6,373.4 648,374.2 648.4,374.9 648.8,375.6 649.2,376.3 649.6,377"/>
<polyline fill="none" stroke="#008000" stroke-width="2.1" stroke-linejoin="round" stroke-linecap="round" points="50.8,353 51.2,352.4 51.6,351.8 52,351.2 52.4,350.6 52.8,350.1 53.2,349.6 53.6,349.1 54,348.6 54.4,348.1 54.8,347.7 55.2,347.3 55.6,346.9 56,346.5 56.4,346.2 56.8,345.9 57.2,345.6 57.6,345.4 58,345.1 58.4,344.9 58.8,344.8 59.2,344.6 59.6,344.5 60,344.4 60.4,344.4 60.8,344.3 61.2,344.4 61.6,344.4 62,344.5 62.4,344.6 62.8,344.7 63.2,344.9 63.6,345.1 64,345.4 64.4,345.6 64.8,345.9 65.2,346.3 65.6,346.6 66,347 66.4,347.4 66.8,347.8 67.2,348.3 67.6,348.8 68,349.3 68.4,349.8 68.8,350.3 69.2,350.9 69.6,351.4 70,352 70.4,352.6 70.8,353.2 71.2,353.9 71.6,354.5 72,355.2 72.4,355.8 72.8,356.5 73.2,357.2 73.6,357.9 74,358.6 74.4,359.4 74.8,360.1 75.2,360.9 75.6,361.7 76,362.5 76.4,363.3 76.8,364.1 77.2,364.9 77.6,365.7 78,366.6 78.4,367.4 78.8,368.2 79.2,369.1 79.6,369.9 80,370.7 80.4,371.5 80.8,372.3 81.2,373.1 81.6,373.8 82,374.6 82.4,375.3 82.8,376 83.2,376.7 83.6,377.3 84,377.9 84.4,378.5 84.8,379 85.2,379.5 85.6,380 86,380.5 86.4,380.9 86.8,381.3 87.2,381.7 87.6,382 88,382.3 88.4,382.6 88.8,382.8 89.2,383 89.6,383.2 90,383.4 90.4,383.5 90.8,383.6 91.2,383.7 91.6,383.8 92,383.8 92.4,383.9 92.8,383.9 93.2,383.9 93.6,383.8 94,383.8 94.4,383.7 94.8,383.6 95.2,383.5 95.6,383.3 96,383.1 96.4,382.9 96.8,382.7 97.2,382.4 97.6,382.1 98,381.8 98.4,381.5 98.8,381.2 99.2,380.8 99.6,380.4 100,380 100.4,379.5 100.8,379.1 101.2,378.6 101.6,378.1 102,377.6 102.4,377 102.8,376.5 103.2,375.9 103.6,375.3 104,374.7 104.4,374.1 104.8,373.5 105.2,372.9 105.6,372.2 106,371.6 106.4,371 106.8,370.4 107.2,369.7 107.6,369.1 108,368.5 108.4,367.9 108.8,367.2 109.2,366.6 109.6,366 110,365.4 110.4,364.8 110.8,364.2 111.2,363.6 111.6,363 112,362.4 112.4,361.8 112.8,361.3 113.2,360.7 113.6,360.1 114,359.6 114.4,359.1 114.8,358.5 115.2,358 115.6,357.6 116,357.1 116.4,356.7 116.8,356.3 117.2,355.9 117.6,355.6 118,355.3 118.4,355 118.8,354.8 119.2,354.6 119.6,354.4 120,354.3 120.4,354.3 120.8,354.2 121.2,354.2 121.6,354.3 122,354.3 122.4,354.4 122.8,354.5 123.2,354.7 123.6,354.9 124,355.1 124.4,355.3 124.8,355.6 125.2,355.8 125.6,356.2 126,356.5 126.4,356.8 126.8,357.2 127.2,357.6 127.6,358 128,358.5 128.4,358.9 128.8,359.4 129.2,359.9 129.6,360.4 130,361 130.4,361.5 130.8,362.1 131.2,362.7 131.6,363.3 132,363.9 132.4,364.5 132.8,365.2 133.2,365.8 133.6,366.4 134,367.1 134.4,367.7 134.8,368.3 135.2,369 135.6,369.6 136,370.2 136.4,370.8 136.8,371.4 137.2,372 137.6,372.6 138,373.2 138.4,373.7 138.8,374.3 139.2,374.8 139.6,375.3 140,375.7 140.4,376.2 140.8,376.6 141.2,377 141.6,377.3 142,377.6 142.4,377.9 142.8,378.2 143.2,378.4 143.6,378.6 144,378.8 144.4,378.9 144.8,379 145.2,379.1 145.6,379.1 146,379.1 146.4,379 146.8,379 147.2,378.8 147.6,378.7 148,378.5 148.4,378.3 148.8,378.1 149.2,377.8 149.6,377.5 150,377.1 150.4,376.7 150.8,376.3 151.2,375.9 151.6,375.4 152,374.9 152.4,374.4 152.8,373.9 153.2,373.4 153.6,372.8 154,372.3 154.4,371.7 154.8,371.1 155.2,370.5 155.6,369.9 156,369.4 156.4,368.8 156.8,368.2 157.2,367.6 157.6,367 158,366.5 158.4,365.9 158.8,365.4 159.2,364.9 159.6,364.3 160,363.8 160.4,363.3 160.8,362.8 161.2,362.4 161.6,361.9 162,361.5 162.4,361.1 162.8,360.7 163.2,360.3 163.6,360 164,359.7 164.4,359.4 164.8,359.1 165.2,358.9 165.6,358.7 166,358.5 166.4,358.4 166.8,358.3 167.2,358.2 167.6,358.1 168,358.1 168.4,358.2 168.8,358.3 169.2,358.4 169.6,358.6 170,358.8 170.4,359 170.8,359.3 171.2,359.6 171.6,360 172,360.3 172.4,360.7 172.8,361.1 173.2,361.5 173.6,362 174,362.4 174.4,362.9 174.8,363.3 175.2,363.8 175.6,364.3 176,364.8 176.4,365.3 176.8,365.8 177.2,366.3 177.6,366.9 178,367.4 178.4,367.9 178.8,368.5 179.2,369 179.6,369.5 180,370 180.4,370.4 180.8,370.9 181.2,371.3 181.6,371.7 182,372.1 182.4,372.5 182.8,372.8 183.2,373.1 183.6,373.4 184,373.6 184.4,373.9 184.8,374.1 185.2,374.2 185.6,374.4 186,374.5 186.4,374.6 186.8,374.7 187.2,374.7 187.6,374.8 188,374.8 188.4,374.8 188.8,374.7 189.2,374.7 189.6,374.6 190,374.4 190.4,374.3 190.8,374.1 191.2,373.8 191.6,373.6 192,373.3 192.4,373 192.8,372.7 193.2,372.3 193.6,371.9 194,371.5 194.4,371.1 194.8,370.7 195.2,370.3 195.6,369.9 196,369.5 196.4,369 196.8,368.6 197.2,368.2 197.6,367.7 198,367.3 198.4,366.9 198.8,366.5 199.2,366 199.6,365.6 200,365.2 200.4,364.8 200.8,364.4 201.2,364 201.6,363.6 202,363.2 202.4,362.9 202.8,362.5 203.2,362.2 203.6,361.9 204,361.7 204.4,361.4 204.8,361.2 205.2,361.1 205.6,360.9 206,360.8 206.4,360.8 206.8,360.8 207.2,360.8 207.6,360.9 208,361 208.4,361.2 208.8,361.3 209.2,361.5 209.6,361.8 210,362 210.4,362.3 210.8,362.7 211.2,363 211.6,363.4 212,363.8 212.4,364.2 212.8,364.7 213.2,365.2 213.6,365.7 214,366.2 214.4,366.8 214.8,367.4 215.2,368 215.6,368.6 216,369.2 216.4,369.8 216.8,370.4 217.2,370.9 217.6,371.5 218,372 218.4,372.4 218.8,372.9 219.2,373.3 219.6,373.6 220,374 220.4,374.3 220.8,374.6 221.2,374.9 221.6,375.1 222,375.3 222.4,375.5 222.8,375.6 223.2,375.8 223.6,375.9 224,375.9 224.4,376 224.8,376 225.2,376 225.6,375.9 226,375.9 226.4,375.8 226.8,375.6 227.2,375.5 227.6,375.3 228,375 228.4,374.8 228.8,374.5 229.2,374.2 229.6,373.8 230,373.5 230.4,373.1 230.8,372.6 231.2,372.2 231.6,371.7 232,371.2 232.4,370.7 232.8,370.2 233.2,369.7 233.6,369.2 234,368.7 234.4,368.1 234.8,367.6 235.2,367.1 235.6,366.5 236,366 236.4,365.5 236.8,364.9 237.2,364.4 237.6,363.9 238,363.4 238.4,362.9 238.8,362.4 239.2,361.9 239.6,361.4 240,361 240.4,360.5 240.8,360.1 241.2,359.8 241.6,359.4 242,359.1 242.4,358.8 242.8,358.6 243.2,358.4 243.6,358.2 244,358.1 244.4,358 244.8,358 245.2,358 245.6,358.1 246,358.2 246.4,358.3 246.8,358.5 247.2,358.7 247.6,358.9 248,359.2 248.4,359.5 248.8,359.8 249.2,360.2 249.6,360.6 250,361 250.4,361.5 250.8,362 251.2,362.5 251.6,363 252,363.6 252.4,364.1 252.8,364.7 253.2,365.3 253.6,365.9 254,366.5 254.4,367.1 254.8,367.7 255.2,368.3 255.6,368.9 256,369.6 256.4,370.2 256.8,370.8 257.2,371.4 257.6,372.1 258,372.7 258.4,373.2 258.8,373.8 259.2,374.3 259.6,374.9 260,375.4 260.4,375.8 260.8,376.3 261.2,376.7 261.6,377 262,377.3 262.4,377.6 262.8,377.8 263.2,378 263.6,378.1 264,378.2 264.4,378.3 264.8,378.3 265.2,378.3 265.6,378.2 266,378.1 266.4,378 266.8,377.8 267.2,377.6 267.6,377.3 268,377.1 268.4,376.7 268.8,376.4 269.2,376 269.6,375.6 270,375.1 270.4,374.6 270.8,374.1 271.2,373.6 271.6,373 272,372.4 272.4,371.8 272.8,371.1 273.2,370.5 273.6,369.8 274,369.1 274.4,368.4 274.8,367.7 275.2,367 275.6,366.3 276,365.6 276.4,365 276.8,364.3 277.2,363.6 277.6,363 278,362.4 278.4,361.8 278.8,361.3 279.2,360.7 279.6,360.2 280,359.7 280.4,359.3 280.8,358.9 281.2,358.5 281.6,358.2 282,357.9 282.4,357.6 282.8,357.4 283.2,357.2 283.6,357.1 284,357 284.4,356.9 284.8,356.9 285.2,356.9 285.6,357 286,357.1 286.4,357.3 286.8,357.5 287.2,357.7 287.6,358 288,358.3 288.4,358.7 288.8,359.1 289.2,359.6 289.6,360 290,360.6 290.4,361.1 290.8,361.7 291.2,362.3 291.6,362.9 292,363.5 292.4,364.1 292.8,364.8 293.2,365.4 293.6,366.1 294,366.8 294.4,367.5 294.8,368.2 295.2,368.9 295.6,369.5 296,370.2 296.4,370.9 296.8,371.6 297.2,372.2 297.6,372.9 298,373.5 298.4,374.2 298.8,374.7 299.2,375.3 299.6,375.9 300,376.4 300.4,376.8 300.8,377.3 301.2,377.7 301.6,378 302,378.3 302.4,378.6 302.8,378.8 303.2,379 303.6,379.1 304,379.2 304.4,379.2 304.8,379.2 305.2,379.1 305.6,379 306,378.8 306.4,378.6 306.8,378.4 307.2,378.1 307.6,377.8 308,377.4 308.4,377 308.8,376.6 309.2,376.1 309.6,375.6 310,375.1 310.4,374.5 310.8,373.9 311.2,373.3 311.6,372.6 312,371.9 312.4,371.2 312.8,370.5 313.2,369.7 313.6,369 314,368.2 314.4,367.5 314.8,366.7 315.2,365.9 315.6,365.2 316,364.4 316.4,363.7 316.8,363 317.2,362.3 317.6,361.6 318,361 318.4,360.3 318.8,359.8 319.2,359.2 319.6,358.7 320,358.2 320.4,357.8 320.8,357.4 321.2,357 321.6,356.7 322,356.5 322.4,356.2 322.8,356.1 323.2,356 323.6,355.9 324,355.9 324.4,355.9 324.8,356 325.2,356.2 325.6,356.3 326,356.5 326.4,356.8 326.8,357.1 327.2,357.4 327.6,357.8 328,358.2 328.4,358.7 328.8,359.2 329.2,359.7 329.6,360.3 330,360.9 330.4,361.5 330.8,362.2 331.2,362.9 331.6,363.6 332,364.3 332.4,365.1 332.8,365.9 333.2,366.7 333.6,367.5 334,368.3 334.4,369.2 334.8,370 335.2,370.8 335.6,371.5 336,372.3 336.4,373 336.8,373.7 337.2,374.4 337.6,375 338,375.6 338.4,376.2 338.8,376.7 339.2,377.2 339.6,377.7 340,378.1 340.4,378.4 340.8,378.8 341.2,379 341.6,379.3 342,379.4 342.4,379.6 342.8,379.7 343.2,379.7 343.6,379.7 344,379.6 344.4,379.4 344.8,379.2 345.2,379 345.6,378.7 346,378.3 346.4,377.9 346.8,377.5 347.2,377 347.6,376.4 348,375.8 348.4,375.2 348.8,374.5 349.2,373.9 349.6,373.2 350,372.5 350.4,371.7 350.8,371 351.2,370.2 351.6,369.5 352,368.7 352.4,367.9 352.8,367.2 353.2,366.4 353.6,365.6 354,364.9 354.4,364.2 354.8,363.4 355.2,362.7 355.6,362.1 356,361.4 356.4,360.8 356.8,360.2 357.2,359.6 357.6,359.1 358,358.6 358.4,358.1 358.8,357.7 359.2,357.3 359.6,356.9 360,356.6 360.4,356.4 360.8,356.2 361.2,356 361.6,355.9 362,355.8 362.4,355.7 362.8,355.7 363.2,355.8 363.6,355.9 364,356.1 364.4,356.3 364.8,356.5 365.2,356.8 365.6,357.2 366,357.6 366.4,358 366.8,358.5 367.2,359 367.6,359.6 368,360.2 368.4,360.8 368.8,361.5 369.2,362.2 369.6,363 370,363.8 370.4,364.6 370.8,365.4 371.2,366.2 371.6,367.1 372,368 372.4,368.8 372.8,369.7 373.2,370.5 373.6,371.3 374,372.1 374.4,372.9 374.8,373.6 375.2,374.3 375.6,375 376,375.6 376.4,376.2 376.8,376.7 377.2,377.2 377.6,377.7 378,378.1 378.4,378.5 378.8,378.8 379.2,379 379.6,379.2 380,379.4 380.4,379.5 380.8,379.6 381.2,379.6 381.6,379.5 382,379.4 382.4,379.2 382.8,379 383.2,378.8 383.6,378.5 384,378.1 384.4,377.7 384.8,377.3 385.2,376.8 385.6,376.3 386,375.7 386.4,375.1 386.8,374.5 387.2,373.8 387.6,373.1 388,372.4 388.4,371.7 388.8,370.9 389.2,370.1 389.6,369.4 390,368.6 390.4,367.8 390.8,367 391.2,366.2 391.6,365.4 392,364.7 392.4,363.9 392.8,363.2 393.2,362.5 393.6,361.8 394,361.1 394.4,360.5 394.8,359.9 395.2,359.3 395.6,358.8 396,358.3 396.4,357.8 396.8,357.4 397.2,357 397.6,356.7 398,356.4 398.4,356.2 398.8,356.1 399.2,356 399.6,355.9 400,355.9 400.4,356 400.8,356.1 401.2,356.2 401.6,356.5 402,356.7 402.4,357.1 402.8,357.5 403.2,357.9 403.6,358.4 404,358.9 404.4,359.5 404.8,360.1 405.2,360.8 405.6,361.5 406,362.2 406.4,362.9 406.8,363.7 407.2,364.5 407.6,365.3 408,366.1 408.4,366.9 408.8,367.8 409.2,368.6 409.6,369.4 410,370.2 410.4,371 410.8,371.8 411.2,372.5 411.6,373.3 412,374 412.4,374.6 412.8,375.3 413.2,375.9 413.6,376.4 414,377 414.4,377.4 414.8,377.9 415.2,378.2 415.6,378.6 416,378.9 416.4,379.1 416.8,379.3 417.2,379.4 417.6,379.5 418,379.5 418.4,379.5 418.8,379.4 419.2,379.3 419.6,379.1 420,378.9 420.4,378.6 420.8,378.3 421.2,377.9 421.6,377.5 422,377 422.4,376.5 422.8,376 423.2,375.4 423.6,374.8 424,374.1 424.4,373.4 424.8,372.7 425.2,372 425.6,371.2 426,370.5 426.4,369.7 426.8,368.9 427.2,368.1 427.6,367.3 428,366.4 428.4,365.6 428.8,364.9 429.2,364.1 429.6,363.3 430,362.6 430.4,361.8 430.8,361.2 431.2,360.5 431.6,359.9 432,359.3 432.4,358.7 432.8,358.2 433.2,357.7 433.6,357.3 434,356.9 434.4,356.6 434.8,356.3 435.2,356.1 435.6,355.9 436,355.8 436.4,355.8 436.8,355.8 437.2,355.8 437.6,355.9 438,356.1 438.4,356.3 438.8,356.6 439.2,356.9 439.6,357.3 440,357.7 440.4,358.2 440.8,358.7 441.2,359.3 441.6,359.9 442,360.5 442.4,361.2 442.8,361.9 443.2,362.6 443.6,363.4 444,364.2 444.4,365 444.8,365.8 445.2,366.6 445.6,367.4 446,368.2 446.4,369 446.8,369.9 447.2,370.7 447.6,371.5 448,372.2 448.4,373 448.8,373.7 449.2,374.4 449.6,375.1 450,375.8 450.4,376.4 450.8,376.9 451.2,377.4 451.6,377.9 452,378.3 452.4,378.7 452.8,379 453.2,379.3 453.6,379.5 454,379.6 454.4,379.7 454.8,379.7 455.2,379.7 455.6,379.6 456,379.5 456.4,379.3 456.8,379 457.2,378.7 457.6,378.3 458,377.9 458.4,377.4 458.8,376.9 459.2,376.3 459.6,375.7 460,375.1 460.4,374.4 460.8,373.7 461.2,373 461.6,372.2 462,371.4 462.4,370.6 462.8,369.8 463.2,369 463.6,368.2 464,367.4 464.4,366.6 464.8,365.7 465.2,364.9 465.6,364.1 466,363.4 466.4,362.6 466.8,361.9 467.2,361.2 467.6,360.5 468,359.8 468.4,359.2 468.8,358.7 469.2,358.1 469.6,357.6 470,357.2 470.4,356.8 470.8,356.5 471.2,356.2 471.6,355.9 472,355.7 472.4,355.6 472.8,355.5 473.2,355.5 473.6,355.6 474,355.7 474.4,355.8 474.8,356.1 475.2,356.3 475.6,356.7 476,357.1 476.4,357.5 476.8,358 477.2,358.5 477.6,359.1 478,359.7 478.4,360.4 478.8,361.1 479.2,361.8 479.6,362.6 480,363.4 480.4,364.2 480.8,365 481.2,365.9 481.6,366.8 482,367.6 482.4,368.5 482.8,369.3 483.2,370.2 483.6,371 484,371.9 484.4,372.7 484.8,373.5 485.2,374.2 485.6,374.9 486,375.6 486.4,376.3 486.8,376.9 487.2,377.4 487.6,377.9 488,378.4 488.4,378.8 488.8,379.1 489.2,379.4 489.6,379.7 490,379.8 490.4,379.9 490.8,380 491.2,379.9 491.6,379.9 492,379.7 492.4,379.5 492.8,379.2 493.2,378.9 493.6,378.5 494,378.1 494.4,377.6 494.8,377 495.2,376.4 495.6,375.8 496,375.1 496.4,374.4 496.8,373.6 497.2,372.9 497.6,372 498,371.2 498.4,370.4 498.8,369.5 499.2,368.6 499.6,367.8 500,366.9 500.4,366 500.8,365.1 501.2,364.3 501.6,363.5 502,362.6 502.4,361.9 502.8,361.1 503.2,360.4 503.6,359.7 504,359 504.4,358.4 504.8,357.9 505.2,357.4 505.6,356.9 506,356.5 506.4,356.2 506.8,355.9 507.2,355.7 507.6,355.5 508,355.4 508.4,355.4 508.8,355.4 509.2,355.5 509.6,355.6 510,355.8 510.4,356 510.8,356.3 511.2,356.7 511.6,357.1 512,357.6 512.4,358.1 512.8,358.6 513.2,359.2 513.6,359.8 514,360.5 514.4,361.2 514.8,361.9 515.2,362.7 515.6,363.4 516,364.2 516.4,365 516.8,365.9 517.2,366.7 517.6,367.6 518,368.4 518.4,369.3 518.8,370.1 519.2,370.9 519.6,371.7 520,372.5 520.4,373.3 520.8,374.1 521.2,374.8 521.6,375.5 522,376.2 522.4,376.8 522.8,377.3 523.2,377.9 523.6,378.3 524,378.8 524.4,379.1 524.8,379.4 525.2,379.7 525.6,379.9 526,380 526.4,380.1 526.8,380.1 527.2,380 527.6,379.9 528,379.7 528.4,379.4 528.8,379.1 529.2,378.7 529.6,378.3 530,377.8 530.4,377.3 530.8,376.7 531.2,376 531.6,375.3 532,374.6 532.4,373.9 532.8,373.1 533.2,372.3 533.6,371.4 534,370.5 534.4,369.7 534.8,368.8 535.2,367.9 535.6,367 536,366.1 536.4,365.2 536.8,364.3 537.2,363.4 537.6,362.6 538,361.8 538.4,361 538.8,360.2 539.2,359.5 539.6,358.9 540,358.3 540.4,357.7 540.8,357.2 541.2,356.7 541.6,356.4 542,356 542.4,355.8 542.8,355.5 543.2,355.4 543.6,355.3 544,355.3 544.4,355.3 544.8,355.5 545.2,355.6 545.6,355.9 546,356.1 546.4,356.5 546.8,356.9 547.2,357.3 547.6,357.8 548,358.4 548.4,359 548.8,359.6 549.2,360.3 549.6,361 550,361.8 550.4,362.5 550.8,363.3 551.2,364.2 551.6,365 552,365.9 552.4,366.7 552.8,367.6 553.2,368.5 553.6,369.3 554,370.2 554.4,371.1 554.8,371.9 555.2,372.7 555.6,373.5 556,374.3 556.4,375 556.8,375.7 557.2,376.4 557.6,377 558,377.6 558.4,378.1 558.8,378.6 559.2,379 559.6,379.4 560,379.7 560.4,379.9 560.8,380 561.2,380.1 561.6,380.1 562,380.1 562.4,380 562.8,379.8 563.2,379.5 563.6,379.2 564,378.8 564.4,378.4 564.8,377.9 565.2,377.3 565.6,376.7 566,376.1 566.4,375.4 566.8,374.7 567.2,373.9 567.6,373.1 568,372.3 568.4,371.5 568.8,370.6 569.2,369.8 569.6,368.9 570,368 570.4,367.1 570.8,366.3 571.2,365.4 571.6,364.5 572,363.7 572.4,362.9 572.8,362.1 573.2,361.3 573.6,360.6 574,359.9 574.4,359.3 574.8,358.6 575.2,358.1 575.6,357.5 576,357.1 576.4,356.6 576.8,356.3 577.2,355.9 577.6,355.7 578,355.5 578.4,355.3 578.8,355.3 579.2,355.2 579.6,355.3 580,355.4 580.4,355.6 580.8,355.8 581.2,356.1 581.6,356.4 582,356.8 582.4,357.3 582.8,357.8 583.2,358.4 583.6,359 584,359.7 584.4,360.4 584.8,361.1 585.2,361.9 585.6,362.7 586,363.5 586.4,364.4 586.8,365.2 587.2,366.1 587.6,367 588,367.9 588.4,368.8 588.8,369.7 589.2,370.6 589.6,371.5 590,372.3 590.4,373.1 590.8,373.9 591.2,374.7 591.6,375.4 592,376.1 592.4,376.8 592.8,377.4 593.2,378 593.6,378.5 594,378.9 594.4,379.3 594.8,379.6 595.2,379.8 595.6,380 596,380.1 596.4,380.2 596.8,380.2 597.2,380.1 597.6,379.9 598,379.7 598.4,379.4 598.8,379 599.2,378.6 599.6,378.1 600,377.6 600.4,377 600.8,376.4 601.2,375.7 601.6,374.9 602,374.2 602.4,373.3 602.8,372.5 603.2,371.6 603.6,370.7 604,369.8 604.4,368.9 604.8,368 605.2,367.1 605.6,366.1 606,365.2 606.4,364.3 606.8,363.4 607.2,362.6 607.6,361.7 608,360.9 608.4,360.2 608.8,359.5 609.2,358.8 609.6,358.2 610,357.6 610.4,357.1 610.8,356.6 611.2,356.2 611.6,355.9 612,355.6 612.4,355.4 612.8,355.3 613.2,355.2 613.6,355.2 614,355.3 614.4,355.4 614.8,355.6 615.2,355.9 615.6,356.2 616,356.6 616.4,357.1 616.8,357.6 617.2,358.2 617.6,358.8 618,359.5 618.4,360.2 618.8,361 619.2,361.8 619.6,362.6 620,363.5 620.4,364.4 620.8,365.3 621.2,366.2 621.6,367.1 622,368 622.4,369 622.8,369.9 623.2,370.8 623.6,371.7 624,372.5 624.4,373.4 624.8,374.2 625.2,374.9 625.6,375.7 626,376.4 626.4,377 626.8,377.6 627.2,378.1 627.6,378.6 628,379 628.4,379.4 628.8,379.7 629.2,379.9 629.6,380.1 630,380.2 630.4,380.3 630.8,380.2 631.2,380.2 631.6,380 632,379.8 632.4,379.5 632.8,379.2 633.2,378.8 633.6,378.3 634,377.8 634.4,377.3 634.8,376.7 635.2,376 635.6,375.3 636,374.6 636.4,373.8 636.8,373 637.2,372.1 637.6,371.3 638,370.4 638.4,369.5 638.8,368.6 639.2,367.7 639.6,366.8 640,365.9 640.4,365 640.8,364.1 641.2,363.3 641.6,362.4 642,361.6 642.4,360.8 642.8,360.1 643.2,359.4 643.6,358.7 644,358.1 644.4,357.6 644.8,357 645.2,356.6 645.6,356.2 646,355.9 646.4,355.6 646.8,355.4 647.2,355.2 647.6,355.1 648,355.1 648.4,355.2 648.8,355.3 649.2,355.4 649.6,355.7"/>
<polyline fill="none" stroke="#0000ff" stroke-width="2.1" stroke-linejoin="round" stroke-linecap="round" points="50.8,392.9 51.2,392.7 51.6,392.5 52,392.3 52.4,392.1 52.8,391.9 53.2,391.6 53.6,391.3 54,391 54.4,390.6 54.8,390.2 55.2,389.8 55.6,389.4 56,388.9 56.4,388.5 56.8,388 57.2,387.4 57.6,386.9 58,386.3 58.4,385.7 58.8,385.1 59.2,384.5 59.6,383.8 60,383.2 60.4,382.5 60.8,381.8 61.2,381.1 61.6,380.4 62,379.6 62.4,378.9 62.8,378.1 63.2,377.3 63.6,376.5 64,375.8 64.4,375 64.8,374.2 65.2,373.4 65.6,372.6 66,371.7 66.4,370.9 66.8,370.1 67.2,369.4 67.6,368.6 68,367.8 68.4,367 68.8,366.2 69.2,365.5 69.6,364.7 70,363.9 70.4,363.2 70.8,362.5 71.2,361.8 71.6,361.1 72,360.4 72.4,359.7 72.8,359 73.2,358.3 73.6,357.7 74,357 74.4,356.4 74.8,355.8 75.2,355.2 75.6,354.6 76,354 76.4,353.5 76.8,353 77.2,352.5 77.6,352 78,351.6 78.4,351.2 78.8,350.8 79.2,350.5 79.6,350.2 80,349.9 80.4,349.7 80.8,349.5 81.2,349.3 81.6,349.2 82,349.1 82.4,349.1 82.8,349.1 83.2,349.1 83.6,349.2 84,349.3 84.4,349.5 84.8,349.7 85.2,349.9 85.6,350.2 86,350.5 86.4,350.8 86.8,351.2 87.2,351.5 87.6,352 88,352.4 88.4,352.8 88.8,353.3 89.2,353.8 89.6,354.3 90,354.8 90.4,355.3 90.8,355.9 91.2,356.4 91.6,357 92,357.5 92.4,358.1 92.8,358.7 93.2,359.3 93.6,359.9 94,360.5 94.4,361.1 94.8,361.7 95.2,362.4 95.6,363 96,363.6 96.4,364.3 96.8,364.9 97.2,365.6 97.6,366.3 98,366.9 98.4,367.6 98.8,368.2 99.2,368.9 99.6,369.5 100,370.2 100.4,370.8 100.8,371.5 101.2,372.1 101.6,372.7 102,373.3 102.4,373.9 102.8,374.5 103.2,375.1 103.6,375.6 104,376.2 104.4,376.7 104.8,377.2 105.2,377.6 105.6,378.1 106,378.5 106.4,378.9 106.8,379.2 107.2,379.6 107.6,379.9 108,380.2 108.4,380.5 108.8,380.7 109.2,380.9 109.6,381.1 110,381.3 110.4,381.5 110.8,381.6 111.2,381.7 111.6,381.8 112,381.8 112.4,381.9 112.8,381.9 113.2,381.8 113.6,381.8 114,381.7 114.4,381.6 114.8,381.4 115.2,381.3 115.6,381 116,380.8 116.4,380.5 116.8,380.1 117.2,379.8 117.6,379.4 118,379 118.4,378.5 118.8,378 119.2,377.5 119.6,377 120,376.4 120.4,375.8 120.8,375.3 121.2,374.7 121.6,374.1 122,373.5 122.4,372.9 122.8,372.3 123.2,371.7 123.6,371 124,370.4 124.4,369.8 124.8,369.2 125.2,368.6 125.6,368 126,367.3 126.4,366.7 126.8,366.1 127.2,365.5 127.6,364.9 128,364.4 128.4,363.8 128.8,363.2 129.2,362.6 129.6,362.1 130,361.5 130.4,361 130.8,360.5 131.2,360 131.6,359.5 132,359.1 132.4,358.6 132.8,358.2 133.2,357.8 133.6,357.5 134,357.2 134.4,356.9 134.8,356.6 135.2,356.3 135.6,356.1 136,355.9 136.4,355.8 136.8,355.7 137.2,355.6 137.6,355.5 138,355.5 138.4,355.5 138.8,355.6 139.2,355.7 139.6,355.8 140,356 140.4,356.2 140.8,356.4 141.2,356.7 141.6,357 142,357.3 142.4,357.6 142.8,358 143.2,358.5 143.6,358.9 144,359.4 144.4,359.8 144.8,360.4 145.2,360.9 145.6,361.4 146,362 146.4,362.6 146.8,363.1 147.2,363.8 147.6,364.4 148,365 148.4,365.6 148.8,366.3 149.2,366.9 149.6,367.6 150,368.2 150.4,368.9 150.8,369.5 151.2,370.1 151.6,370.7 152,371.3 152.4,371.9 152.8,372.5 153.2,373 153.6,373.5 154,374 154.4,374.5 154.8,374.9 155.2,375.3 155.6,375.7 156,376 156.4,376.3 156.8,376.6 157.2,376.8 157.6,377.1 158,377.2 158.4,377.4 158.8,377.5 159.2,377.6 159.6,377.7 160,377.8 160.4,377.8 160.8,377.8 161.2,377.7 161.6,377.7 162,377.6 162.4,377.5 162.8,377.3 163.2,377.1 163.6,376.9 164,376.7 164.4,376.4 164.8,376.1 165.2,375.8 165.6,375.5 166,375.1 166.4,374.7 166.8,374.3 167.2,373.8 167.6,373.4 168,372.9 168.4,372.4 168.8,371.8 169.2,371.3 169.6,370.7 170,370.1 170.4,369.6 170.8,369 171.2,368.4 171.6,367.9 172,367.3 172.4,366.8 172.8,366.3 173.2,365.7 173.6,365.2 174,364.7 174.4,364.3 174.8,363.8 175.2,363.4 175.6,363 176,362.6 176.4,362.2 176.8,361.8 177.2,361.5 177.6,361.2 178,360.9 178.4,360.7 178.8,360.5 179.2,360.3 179.6,360.1 180,360 180.4,360 180.8,359.9 181.2,359.9 181.6,360 182,360 182.4,360.1 182.8,360.3 183.2,360.4 183.6,360.6 184,360.8 184.4,361 184.8,361.3 185.2,361.5 185.6,361.8 186,362.1 186.4,362.4 186.8,362.8 187.2,363.1 187.6,363.5 188,363.9 188.4,364.3 188.8,364.7 189.2,365.2 189.6,365.6 190,366.1 190.4,366.6 190.8,367 191.2,367.5 191.6,368 192,368.5 192.4,369 192.8,369.4 193.2,369.9 193.6,370.3 194,370.8 194.4,371.2 194.8,371.5 195.2,371.9 195.6,372.2 196,372.5 196.4,372.8 196.8,373.1 197.2,373.3 197.6,373.5 198,373.7 198.4,373.8 198.8,374 199.2,374.1 199.6,374.2 200,374.2 200.4,374.3 200.8,374.3 201.2,374.3 201.6,374.2 202,374.2 202.4,374.1 202.8,373.9 203.2,373.8 203.6,373.6 204,373.3 204.4,373.1 204.8,372.8 205.2,372.4 205.6,372 206,371.7 206.4,371.2 206.8,370.8 207.2,370.4 207.6,369.9 208,369.4 208.4,369 208.8,368.5 209.2,368 209.6,367.5 210,367 210.4,366.6 210.8,366.1 211.2,365.6 211.6,365.1 212,364.6 212.4,364.2 212.8,363.7 213.2,363.3 213.6,362.8 214,362.4 214.4,361.9 214.8,361.5 215.2,361.2 215.6,360.8 216,360.5 216.4,360.3 216.8,360.1 217.2,359.9 217.6,359.9 218,359.8 218.4,359.8 218.8,359.9 219.2,360 219.6,360.1 220,360.2 220.4,360.4 220.8,360.6 221.2,360.8 221.6,361.1 222,361.4 222.4,361.7 222.8,362 223.2,362.4 223.6,362.7 224,363.1 224.4,363.5 224.8,364 225.2,364.4 225.6,364.9 226,365.4 226.4,365.9 226.8,366.4 227.2,366.9 227.6,367.5 228,368 228.4,368.5 228.8,369.1 229.2,369.6 229.6,370.2 230,370.7 230.4,371.2 230.8,371.7 231.2,372.2 231.6,372.7 232,373.1 232.4,373.6 232.8,374 233.2,374.4 233.6,374.7 234,375 234.4,375.4 234.8,375.6 235.2,375.9 235.6,376.1 236,376.3 236.4,376.5 236.8,376.6 237.2,376.7 237.6,376.8 238,376.9 238.4,376.9 238.8,376.9 239.2,376.8 239.6,376.7 240,376.6 240.4,376.5 240.8,376.3 241.2,376 241.6,375.8 242,375.4 242.4,375.1 242.8,374.7 243.2,374.3 243.6,373.9 244,373.4 244.4,372.9 244.8,372.4 245.2,371.8 245.6,371.3 246,370.7 246.4,370.1 246.8,369.5 247.2,368.9 247.6,368.3 248,367.7 248.4,367.1 248.8,366.5 249.2,365.9 249.6,365.3 250,364.7 250.4,364.1 250.8,363.5 251.2,362.9 251.6,362.4 252,361.9 252.4,361.4 252.8,360.9 253.2,360.4 253.6,360 254,359.6 254.4,359.2 254.8,358.8 255.2,358.5 255.6,358.2 256,357.9 256.4,357.7 256.8,357.5 257.2,357.4 257.6,357.3 258,357.2 258.4,357.2 258.8,357.2 259.2,357.3 259.6,357.4 260,357.6 260.4,357.8 260.8,358.1 261.2,358.4 261.6,358.7 262,359.1 262.4,359.5 262.8,360 263.2,360.5 263.6,361 264,361.5 264.4,362.1 264.8,362.7 265.2,363.3 265.6,363.9 266,364.5 266.4,365.1 266.8,365.7 267.2,366.3 267.6,367 268,367.6 268.4,368.3 268.8,368.9 269.2,369.6 269.6,370.2 270,370.8 270.4,371.5 270.8,372.1 271.2,372.7 271.6,373.3 272,373.9 272.4,374.4 272.8,374.9 273.2,375.4 273.6,375.9 274,376.4 274.4,376.8 274.8,377.1 275.2,377.5 275.6,377.8 276,378 276.4,378.2 276.8,378.4 277.2,378.5 277.6,378.6 278,378.6 278.4,378.6 278.8,378.5 279.2,378.4 279.6,378.3 280,378.1 280.4,377.9 280.8,377.6 281.2,377.3 281.6,377 282,376.6 282.4,376.2 282.8,375.8 283.2,375.3 283.6,374.8 284,374.2 284.4,373.7 284.8,373.1 285.2,372.5 285.6,371.9 286,371.2 286.4,370.5 286.8,369.8 287.2,369.1 287.6,368.4 288,367.7 288.4,367 288.8,366.3 289.2,365.5 289.6,364.9 290,364.2 290.4,363.5 290.8,362.9 291.2,362.2 291.6,361.6 292,361.1 292.4,360.5 292.8,360 293.2,359.5 293.6,359 294,358.6 294.4,358.2 294.8,357.9 295.2,357.5 295.6,357.2 296,357 296.4,356.8 296.8,356.6 297.2,356.5 297.6,356.4 298,356.4 298.4,356.4 298.8,356.5 299.2,356.6 299.6,356.8 300,357 300.4,357.3 300.8,357.6 301.2,357.9 301.6,358.3 302,358.8 302.4,359.2 302.8,359.7 303.2,360.3 303.6,360.9 304,361.5 304.4,362.1 304.8,362.7 305.2,363.4 305.6,364.1 306,364.7 306.4,365.4 306.8,366.1 307.2,366.8 307.6,367.5 308,368.3 308.4,369 308.8,369.7 309.2,370.4 309.6,371.1 310,371.8 310.4,372.4 310.8,373.1 311.2,373.7 311.6,374.4 312,375 312.4,375.5 312.8,376.1 313.2,376.6 313.6,377.1 314,377.5 314.4,377.9 314.8,378.3 315.2,378.6 315.6,378.8 316,379 316.4,379.2 316.8,379.3 317.2,379.4 317.6,379.4 318,379.4 318.4,379.3 318.8,379.1 319.2,378.9 319.6,378.7 320,378.4 320.4,378.1 320.8,377.7 321.2,377.3 321.6,376.8 322,376.3 322.4,375.8 322.8,375.2 323.2,374.6 323.6,374 324,373.4 324.4,372.7 324.8,372 325.2,371.3 325.6,370.6 326,369.9 326.4,369.2 326.8,368.5 327.2,367.7 327.6,367 328,366.3 328.4,365.6 328.8,364.8 329.2,364.1 329.6,363.4 330,362.7 330.4,362 330.8,361.4 331.2,360.7 331.6,360.1 332,359.5 332.4,358.9 332.8,358.4 333.2,357.9 333.6,357.5 334,357.1 334.4,356.7 334.8,356.4 335.2,356.2 335.6,356 336,355.9 336.4,355.8 336.8,355.8 337.2,355.8 337.6,355.9 338,356 338.4,356.2 338.8,356.4 339.2,356.7 339.6,357 340,357.3 340.4,357.8 340.8,358.2 341.2,358.7 341.6,359.2 342,359.8 342.4,360.4 342.8,361 343.2,361.7 343.6,362.4 344,363.2 344.4,363.9 344.8,364.7 345.2,365.5 345.6,366.4 346,367.2 346.4,368 346.8,368.9 347.2,369.7 347.6,370.5 348,371.3 348.4,372.1 348.8,372.8 349.2,373.5 349.6,374.2 350,374.9 350.4,375.5 350.8,376.1 351.2,376.6 351.6,377.1 352,377.6 352.4,378 352.8,378.4 353.2,378.7 353.6,379 354,379.2 354.4,379.4 354.8,379.5 355.2,379.6 355.6,379.7 356,379.7 356.4,379.6 356.8,379.5 357.2,379.4 357.6,379.2 358,379 358.4,378.7 358.8,378.4 359.2,378 359.6,377.6 360,377.2 360.4,376.7 360.8,376.2 361.2,375.7 361.6,375.1 362,374.5 362.4,373.9 362.8,373.2 363.2,372.5 363.6,371.8 364,371.1 364.4,370.3 364.8,369.6 365.2,368.8 365.6,368 366,367.2 366.4,366.5 366.8,365.7 367.2,364.9 367.6,364.2 368,363.4 368.4,362.7 368.8,361.9 369.2,361.2 369.6,360.6 370,359.9 370.4,359.3 370.8,358.7 371.2,358.2 371.6,357.7 372,357.3 372.4,356.9 372.8,356.5 373.2,356.3 373.6,356.1 374,355.9 374.4,355.8 374.8,355.8 375.2,355.8 375.6,355.9 376,356.1 376.4,356.2 376.8,356.5 377.2,356.8 377.6,357.1 378,357.5 378.4,358 378.8,358.4 379.2,359 379.6,359.5 380,360.1 380.4,360.7 380.8,361.4 381.2,362.1 381.6,362.8 382,363.5 382.4,364.3 382.8,365 383.2,365.8 383.6,366.6 384,367.4 384.4,368.2 384.8,368.9 385.2,369.7 385.6,370.5 386,371.2 386.4,372 386.8,372.7 387.2,373.4 387.6,374.1 388,374.8 388.4,375.4 388.8,376 389.2,376.5 389.6,377 390,377.5 390.4,377.9 390.8,378.3 391.2,378.6 391.6,378.9 392,379.1 392.4,379.3 392.8,379.4 393.2,379.5 393.6,379.5 394,379.5 394.4,379.4 394.8,379.3 395.2,379.1 395.6,378.8 396,378.6 396.4,378.2 396.8,377.8 397.2,377.4 397.6,376.9 398,376.4 398.4,375.8 398.8,375.2 399.2,374.6 399.6,373.9 400,373.2 400.4,372.5 400.8,371.8 401.2,371 401.6,370.2 402,369.4 402.4,368.6 402.8,367.7 403.2,366.9 403.6,366.1 404,365.3 404.4,364.5 404.8,363.7 405.2,362.9 405.6,362.2 406,361.4 406.4,360.7 406.8,360.1 407.2,359.5 407.6,358.9 408,358.4 408.4,357.9 408.8,357.4 409.2,357.1 409.6,356.7 410,356.4 410.4,356.2 410.8,356.1 411.2,355.9 411.6,355.9 412,355.9 412.4,355.9 412.8,356.1 413.2,356.2 413.6,356.4 414,356.7 414.4,357 414.8,357.4 415.2,357.8 415.6,358.2 416,358.7 416.4,359.3 416.8,359.8 417.2,360.4 417.6,361.1 418,361.7 418.4,362.4 418.8,363.2 419.2,363.9 419.6,364.6 420,365.4 420.4,366.2 420.8,367 421.2,367.8 421.6,368.6 422,369.3 422.4,370.1 422.8,370.9 423.2,371.7 423.6,372.4 424,373.1 424.4,373.8 424.8,374.5 425.2,375.1 425.6,375.7 426,376.3 426.4,376.9 426.8,377.3 427.2,377.8 427.6,378.2 428,378.6 428.4,378.9 428.8,379.1 429.2,379.3 429.6,379.5 430,379.6 430.4,379.6 430.8,379.6 431.2,379.5 431.6,379.4 432,379.2 432.4,379 432.8,378.7 433.2,378.3 433.6,377.9 434,377.5 434.4,377 434.8,376.5 435.2,375.9 435.6,375.3 436,374.7 436.4,374 436.8,373.3 437.2,372.5 437.6,371.8 438,371 438.4,370.2 438.8,369.4 439.2,368.6 439.6,367.8 440,367 440.4,366.2 440.8,365.3 441.2,364.5 441.6,363.8 442,363 442.4,362.3 442.8,361.5 443.2,360.8 443.6,360.2 444,359.6 444.4,359 444.8,358.4 445.2,357.9 445.6,357.5 446,357.1 446.4,356.7 446.8,356.4 447.2,356.1 447.6,356 448,355.8 448.4,355.7 448.8,355.7 449.2,355.7 449.6,355.8 450,356 450.4,356.2 450.8,356.4 451.2,356.7 451.6,357.1 452,357.5 452.4,358 452.8,358.5 453.2,359.1 453.6,359.7 454,360.3 454.4,361 454.8,361.7 455.2,362.5 455.6,363.2 456,364 456.4,364.9 456.8,365.7 457.2,366.5 457.6,367.4 458,368.2 458.4,369 458.8,369.9 459.2,370.7 459.6,371.5 460,372.3 460.4,373 460.8,373.8 461.2,374.5 461.6,375.2 462,375.8 462.4,376.4 462.8,376.9 463.2,377.5 463.6,377.9 464,378.3 464.4,378.7 464.8,379 465.2,379.3 465.6,379.5 466,379.7 466.4,379.8 466.8,379.8 467.2,379.8 467.6,379.8 468,379.6 468.4,379.5 468.8,379.2 469.2,379 469.6,378.6 470,378.2 470.4,377.8 470.8,377.3 471.2,376.8 471.6,376.2 472,375.6 472.4,375 472.8,374.3 473.2,373.6 473.6,372.8 474,372 474.4,371.2 474.8,370.4 475.2,369.6 475.6,368.7 476,367.9 476.4,367 476.8,366.2 477.2,365.3 477.6,364.5 478,363.7 478.4,362.9 478.8,362.1 479.2,361.4 479.6,360.6 480,360 480.4,359.3 480.8,358.7 481.2,358.1 481.6,357.6 482,357.2 482.4,356.7 482.8,356.4 483.2,356.1 483.6,355.8 484,355.7 484.4,355.5 484.8,355.5 485.2,355.5 485.6,355.5 486,355.7 486.4,355.8 486.8,356.1 487.2,356.4 487.6,356.7 488,357.2 488.4,357.6 488.8,358.2 489.2,358.7 489.6,359.4 490,360 490.4,360.7 490.8,361.5 491.2,362.3 491.6,363.1 492,363.9 492.4,364.7 492.8,365.6 493.2,366.5 493.6,367.3 494,368.2 494.4,369.1 494.8,370 495.2,370.8 495.6,371.7 496,372.5 496.4,373.3 496.8,374.1 497.2,374.8 497.6,375.5 498,376.1 498.4,376.8 498.8,377.3 499.2,377.9 499.6,378.3 500,378.7 500.4,379.1 500.8,379.4 501.2,379.6 501.6,379.8 502,379.9 502.4,380 502.8,380 503.2,379.9 503.6,379.8 504,379.6 504.4,379.4 504.8,379.1 505.2,378.7 505.6,378.3 506,377.8 506.4,377.3 506.8,376.7 507.2,376.1 507.6,375.4 508,374.8 508.4,374 508.8,373.3 509.2,372.5 509.6,371.7 510,370.9 510.4,370.1 510.8,369.2 511.2,368.4 511.6,367.5 512,366.7 512.4,365.9 512.8,365 513.2,364.2 513.6,363.4 514,362.6 514.4,361.9 514.8,361.2 515.2,360.5 515.6,359.8 516,359.2 516.4,358.6 516.8,358 517.2,357.5 517.6,357.1 518,356.7 518.4,356.3 518.8,356 519.2,355.8 519.6,355.6 520,355.4 520.4,355.4 520.8,355.3 521.2,355.4 521.6,355.5 522,355.7 522.4,355.9 522.8,356.2 523.2,356.5 523.6,356.9 524,357.4 524.4,357.9 524.8,358.5 525.2,359.1 525.6,359.7 526,360.4 526.4,361.2 526.8,361.9 527.2,362.7 527.6,363.6 528,364.4 528.4,365.3 528.8,366.2 529.2,367.1 529.6,367.9 530,368.8 530.4,369.7 530.8,370.6 531.2,371.5 531.6,372.3 532,373.1 532.4,373.9 532.8,374.7 533.2,375.4 533.6,376.1 534,376.7 534.4,377.3 534.8,377.9 535.2,378.3 535.6,378.8 536,379.2 536.4,379.5 536.8,379.7 537.2,379.9 537.6,380 538,380.1 538.4,380.1 538.8,380 539.2,379.9 539.6,379.6 540,379.4 540.4,379 540.8,378.7 541.2,378.2 541.6,377.7 542,377.1 542.4,376.5 542.8,375.9 543.2,375.2 543.6,374.5 544,373.7 544.4,372.9 544.8,372.1 545.2,371.3 545.6,370.4 546,369.6 546.4,368.7 546.8,367.8 547.2,367 547.6,366.1 548,365.2 548.4,364.4 548.8,363.6 549.2,362.8 549.6,362 550,361.2 550.4,360.5 550.8,359.8 551.2,359.2 551.6,358.6 552,358 552.4,357.5 552.8,357 553.2,356.6 553.6,356.2 554,355.9 554.4,355.7 554.8,355.5 555.2,355.4 555.6,355.3 556,355.3 556.4,355.4 556.8,355.5 557.2,355.7 557.6,355.9 558,356.3 558.4,356.6 558.8,357.1 559.2,357.6 559.6,358.2 560,358.8 560.4,359.4 560.8,360.1 561.2,360.9 561.6,361.7 562,362.5 562.4,363.4 562.8,364.2 563.2,365.1 563.6,366 564,366.9 564.4,367.9 564.8,368.8 565.2,369.7 565.6,370.6 566,371.5 566.4,372.3 566.8,373.1 567.2,373.9 567.6,374.7 568,375.4 568.4,376.1 568.8,376.7 569.2,377.3 569.6,377.8 570,378.3 570.4,378.7 570.8,379.1 571.2,379.4 571.6,379.7 572,379.9 572.4,380 572.8,380.1 573.2,380.2 573.6,380.1 574,380 574.4,379.8 574.8,379.6 575.2,379.4 575.6,379 576,378.6 576.4,378.2 576.8,377.7 577.2,377.1 577.6,376.5 578,375.9 578.4,375.2 578.8,374.5 579.2,373.7 579.6,373 580,372.1 580.4,371.3 580.8,370.4 581.2,369.6 581.6,368.7 582,367.8 582.4,366.9 582.8,366 583.2,365.2 583.6,364.3 584,363.5 584.4,362.6 584.8,361.8 585.2,361.1 585.6,360.3 586,359.6 586.4,359 586.8,358.3 587.2,357.8 587.6,357.3 588,356.8 588.4,356.4 588.8,356 589.2,355.7 589.6,355.5 590,355.4 590.4,355.3 590.8,355.2 591.2,355.2 591.6,355.3 592,355.5 592.4,355.7 592.8,356 593.2,356.4 593.6,356.8 594,357.3 594.4,357.8 594.8,358.4 595.2,359.1 595.6,359.8 596,360.5 596.4,361.3 596.8,362.1 597.2,363 597.6,363.8 598,364.7 598.4,365.6 598.8,366.6 599.2,367.5 599.6,368.4 600,369.4 600.4,370.3 600.8,371.2 601.2,372.1 601.6,372.9 602,373.8 602.4,374.5 602.8,375.3 603.2,376 603.6,376.7 604,377.3 604.4,377.9 604.8,378.4 605.2,378.8 605.6,379.2 606,379.6 606.4,379.8 606.8,380 607.2,380.1 607.6,380.2 608,380.2 608.4,380.1 608.8,380 609.2,379.8 609.6,379.5 610,379.1 610.4,378.7 610.8,378.3 611.2,377.7 611.6,377.2 612,376.5 612.4,375.9 612.8,375.1 613.2,374.4 613.6,373.6 614,372.7 614.4,371.9 614.8,371 615.2,370.1 615.6,369.1 616,368.2 616.4,367.3 616.8,366.3 617.2,365.4 617.6,364.5 618,363.6 618.4,362.7 618.8,361.9 619.2,361.1 619.6,360.3 620,359.6 620.4,358.9 620.8,358.3 621.2,357.7 621.6,357.1 622,356.7 622.4,356.3 622.8,355.9 623.2,355.6 623.6,355.4 624,355.3 624.4,355.2 624.8,355.2 625.2,355.2 625.6,355.3 626,355.5 626.4,355.7 626.8,356.1 627.2,356.4 627.6,356.9 628,357.3 628.4,357.9 628.8,358.5 629.2,359.1 629.6,359.8 630,360.5 630.4,361.3 630.8,362.1 631.2,362.9 631.6,363.7 632,364.6 632.4,365.5 632.8,366.4 633.2,367.3 633.6,368.2 634,369.1 634.4,370 634.8,370.9 635.2,371.7 635.6,372.6 636,373.4 636.4,374.2 636.8,374.9 637.2,375.7 637.6,376.3 638,377 638.4,377.6 638.8,378.1 639.2,378.6 639.6,379 640,379.4 640.4,379.7 640.8,379.9 641.2,380.1 641.6,380.2 642,380.3 642.4,380.3 642.8,380.2 643.2,380 643.6,379.8 644,379.6 644.4,379.2 644.8,378.8 645.2,378.4 645.6,377.9 646,377.3 646.4,376.7 646.8,376.1 647.2,375.4 647.6,374.6 648,373.8 648.4,373 648.8,372.2 649.2,371.3 649.6,370.5"/>
</g>
<line x1="50.2" y1="439.3" x2="647.3" y2="439.3" stroke="#a8a8a8" stroke-width="1.3"/>
<line x1="50.2" y1="457.8" x2="647.3" y2="457.8" stroke="#a8a8a8" stroke-width="1.3"/>
<line x1="50.2" y1="476.4" x2="647.3" y2="476.4" stroke="#a8a8a8" stroke-width="1.3"/>
<line x1="249.3" y1="434.0" x2="249.3" y2="480.1" stroke="#909090" stroke-width="1.3"/>
<line x1="448.5" y1="434.0" x2="448.5" y2="480.1" stroke="#909090" stroke-width="1.3"/>
<line x1="50.2" y1="439.3" x2="54.7" y2="439.3" stroke="#2a2a2a" stroke-width="1.25"/>
<line x1="642.8" y1="439.3" x2="647.3" y2="439.3" stroke="#2a2a2a" stroke-width="1.25"/>
<line x1="50.2" y1="457.8" x2="54.7" y2="457.8" stroke="#2a2a2a" stroke-width="1.25"/>
<line x1="642.8" y1="457.8" x2="647.3" y2="457.8" stroke="#2a2a2a" stroke-width="1.25"/>
<line x1="50.2" y1="476.4" x2="54.7" y2="476.4" stroke="#2a2a2a" stroke-width="1.25"/>
<line x1="642.8" y1="476.4" x2="647.3" y2="476.4" stroke="#2a2a2a" stroke-width="1.25"/>
<line x1="249.3" y1="434.0" x2="249.3" y2="440.0" stroke="#2a2a2a" stroke-width="1.25"/>
<line x1="249.3" y1="474.1" x2="249.3" y2="480.1" stroke="#2a2a2a" stroke-width="1.25"/>
<line x1="448.5" y1="434.0" x2="448.5" y2="440.0" stroke="#2a2a2a" stroke-width="1.25"/>
<line x1="448.5" y1="474.1" x2="448.5" y2="480.1" stroke="#2a2a2a" stroke-width="1.25"/>
<rect x="50.5" y="434.5" width="597.0" height="46.0" fill="none" stroke="#383838" stroke-width="1.15"/>
<clipPath id="c5"><rect x="49.400000000000006" y="433.2" width="598.6999999999999" height="47.700000000000024"/></clipPath>
<g clip-path="url(#c5)">
<polyline fill="none" stroke="#ff0000" stroke-width="2.3" stroke-linejoin="round" stroke-linecap="butt" points="50.2,469 51.2,468.9 52.2,468.8 53.2,468.7 54.2,468.6 55.2,468.5 56.2,468.4 57.2,468.3 58.2,468.2 59.2,468.1 60.2,468 61.2,467.9 62.2,467.8 63.2,467.7 64.2,467.5 65.2,467.4 66.2,467.3 67.2,467.2 68.2,467.1 69.2,467 70.2,466.8 71.2,466.7 72.2,466.6 73.2,466.5 74.2,466.4 75.2,466.3 76.2,466.1 77.2,466 78.2,465.9 79.2,465.8 80.2,465.6 81.2,465.5 82.2,465.4 83.2,465.3 84.2,465.2 85.2,465 86.2,464.9 87.2,464.8 88.2,464.7 89.2,464.6 90.2,464.4 91.2,464.3 92.2,464.2 93.2,464.1 94.2,464 95.2,463.8 96.2,463.7 97.2,463.6 98.2,463.5 99.2,463.4 100.2,463.3 101.2,463.2 102.2,463.1 103.2,462.9 104.2,462.8 105.2,462.7 106.2,462.6 107.2,462.5 108.2,462.4 109.2,462.3 110.2,462.2 111.2,462.1 112.2,462 113.2,461.9 114.2,461.7 115.2,461.6 116.2,461.5 117.2,461.4 118.2,461.3 119.2,461.2 120.2,461.1 121.2,461 122.2,460.9 123.2,460.8 124.2,460.7 125.2,460.6 126.2,460.5 127.2,460.3 128.2,460.2 129.2,460.1 130.2,460 131.2,459.9 132.2,459.8 133.2,459.7 134.2,459.6 135.2,459.5 136.2,459.4 137.2,459.2 138.2,459.1 139.2,459 140.2,458.9 141.2,458.8 142.2,458.7 143.2,458.6 144.2,458.5 145.2,458.3 146.2,458.2 147.2,458.1 148.2,458 149.2,457.9 150.2,457.7 151.2,457.6 152.2,457.5 153.2,457.4 154.2,457.3 155.2,457.1 156.2,457 157.2,456.9 158.2,456.8 159.2,456.6 160.2,456.5 161.2,456.4 162.2,456.3 163.2,456.1 164.2,456 165.2,455.9 166.2,455.8 167.2,455.6 168.2,455.5 169.2,455.4 170.2,455.3 171.2,455.1 172.2,455 173.2,454.9 174.2,454.7 175.2,454.6 176.2,454.5 177.2,454.4 178.2,454.2 179.2,454.1 180.2,454 181.2,453.9 182.2,453.7 183.2,453.6 184.2,453.5 185.2,453.4 186.2,453.2 187.2,453.1 188.2,453 189.2,452.9 190.2,452.8 191.2,452.6 192.2,452.5 193.2,452.4 194.2,452.3 195.2,452.2 196.2,452 197.2,451.9 198.2,451.8 199.2,451.7 200.2,451.6 201.2,451.5 202.2,451.3 203.2,451.2 204.2,451.1 205.2,451 206.2,450.9 207.2,450.8 208.2,450.7 209.2,450.5 210.2,450.4 211.2,450.3 212.2,450.2 213.2,450.1 214.2,450 215.2,449.8 216.2,449.7 217.2,449.6 218.2,449.5 219.2,449.4 220.2,449.3 221.2,449.1 222.2,449 223.2,448.9 224.2,448.8 225.2,448.7 226.2,448.6 227.2,448.5 228.2,448.4 229.2,448.3 230.2,448.1 231.2,448 232.2,447.9 233.2,447.8 234.2,447.7 235.2,447.6 236.2,447.5 237.2,447.4 238.2,447.3 239.2,447.2 240.2,447.2 241.2,447.1 242.2,447 243.2,446.9 244.2,446.8 245.2,446.7 246.2,446.6 247.2,446.6 248.2,446.5 249.2,446.4 250.2,446.3 251.2,446.3 252.2,446.2 253.2,446.1 254.2,446.1 255.2,446 256.2,445.9 257.2,445.9 258.2,445.8 259.2,445.7 260.2,445.7 261.2,445.6 262.2,445.5 263.2,445.5 264.2,445.4 265.2,445.4 266.2,445.3 267.2,445.2 268.2,445.2 269.2,445.1 270.2,445.1 271.2,445 272.2,445 273.2,444.9 274.2,444.8 275.2,444.8 276.2,444.7 277.2,444.7 278.2,444.6 279.2,444.6 280.2,444.5 281.2,444.5 282.2,444.4 283.2,444.4 284.2,444.3 285.2,444.3 286.2,444.2 287.2,444.2 288.2,444.1 289.2,444.1 290.2,444 291.2,444 292.2,444 293.2,443.9 294.2,443.9 295.2,443.8 296.2,443.8 297.2,443.7 298.2,443.7 299.2,443.6 300.2,443.6 301.2,443.5 302.2,443.5 303.2,443.5 304.2,443.4 305.2,443.4 306.2,443.3 307.2,443.3 308.2,443.2 309.2,443.2 310.2,443.2 311.2,443.1 312.2,443.1 313.2,443 314.2,443 315.2,443 316.2,442.9 317.2,442.9 318.2,442.8 319.2,442.8 320.2,442.8 321.2,442.7 322.2,442.7 323.2,442.7 324.2,442.6 325.2,442.6 326.2,442.5 327.2,442.5 328.2,442.5 329.2,442.4 330.2,442.4 331.2,442.4 332.2,442.3 333.2,442.3 334.2,442.3 335.2,442.2 336.2,442.2 337.2,442.2 338.2,442.1 339.2,442.1 340.2,442 341.2,442 342.2,442 343.2,441.9 344.2,441.9 345.2,441.9 346.2,441.8 347.2,441.8 348.2,441.8 349.2,441.7 350.2,441.7 351.2,441.7 352.2,441.6 353.2,441.6 354.2,441.5 355.2,441.5 356.2,441.5 357.2,441.4 358.2,441.4 359.2,441.4 360.2,441.3 361.2,441.3 362.2,441.3 363.2,441.2 364.2,441.2 365.2,441.1 366.2,441.1 367.2,441.1 368.2,441 369.2,441 370.2,441 371.2,440.9 372.2,440.9 373.2,440.9 374.2,440.8 375.2,440.8 376.2,440.8 377.2,440.7 378.2,440.7 379.2,440.7 380.2,440.6 381.2,440.6 382.2,440.5 383.2,440.5 384.2,440.5 385.2,440.4 386.2,440.4 387.2,440.4 388.2,440.4 389.2,440.3 390.2,440.3 391.2,440.3 392.2,440.2 393.2,440.2 394.2,440.2 395.2,440.1 396.2,440.1 397.2,440.1 398.2,440 399.2,440 400.2,440 401.2,440 402.2,439.9 403.2,439.9 404.2,439.9 405.2,439.9 406.2,439.8 407.2,439.8 408.2,439.8 409.2,439.7 410.2,439.7 411.2,439.7 412.2,439.7 413.2,439.6 414.2,439.6 415.2,439.6 416.2,439.5 417.2,439.5 418.2,439.5 419.2,439.5 420.2,439.4 421.2,439.4 422.2,439.4 423.2,439.3 424.2,439.3 425.2,439.3 426.2,439.3 427.2,439.2 428.2,439.2 429.2,439.2 430.2,439.2 431.2,439.2 432.2,439.1 433.2,439.1 434.2,439.1 435.2,439.1 436.2,439.1 437.2,439 438.2,439 439.2,439 440.2,439 441.2,439 442.2,439 443.2,438.9 444.2,438.9 445.2,438.9 446.2,438.9 447.2,438.9 448.2,438.9 449.2,438.9 450.2,438.9 451.2,438.9 452.2,438.9 453.2,438.9 454.2,438.9 455.2,438.9 456.2,438.8 457.2,438.8 458.2,438.8 459.2,438.8 460.2,438.8 461.2,438.8 462.2,438.8 463.2,438.8 464.2,438.8 465.2,438.8 466.2,438.8 467.2,438.8 468.2,438.8 469.2,438.8 470.2,438.8 471.2,438.8 472.2,438.8 473.2,438.8 474.2,438.8 475.2,438.8 476.2,438.7 477.2,438.7 478.2,438.7 479.2,438.7 480.2,438.7 481.2,438.7 482.2,438.7 483.2,438.7 484.2,438.7 485.2,438.7 486.2,438.7 487.2,438.7 488.2,438.7 489.2,438.7 490.2,438.7 491.2,438.7 492.2,438.7 493.2,438.7 494.2,438.7 495.2,438.7 496.2,438.7 497.2,438.7 498.2,438.7 499.2,438.7 500.2,438.7 501.2,438.7 502.2,438.7 503.2,438.7 504.2,438.7 505.2,438.7 506.2,438.7 507.2,438.7 508.2,438.7 509.2,438.7 510.2,438.7 511.2,438.7 512.2,438.7 513.2,438.7 514.2,438.7 515.2,438.7 516.2,438.7 517.2,438.7 518.2,438.7 519.2,438.7 520.2,438.7 521.2,438.7 522.2,438.7 523.2,438.7 524.2,438.7 525.2,438.7 526.2,438.7 527.2,438.7 528.2,438.7 529.2,438.7 530.2,438.7 531.2,438.7 532.2,438.7 533.2,438.7 534.2,438.7 535.2,438.7 536.2,438.7 537.2,438.7 538.2,438.7 539.2,438.7 540.2,438.7 541.2,438.7 542.2,438.7 543.2,438.7 544.2,438.7 545.2,438.7 546.2,438.7 547.2,438.7 548.2,438.7 549.2,438.7 550.2,438.7 551.2,438.7 552.2,438.7 553.2,438.7 554.2,438.7 555.2,438.7 556.2,438.7 557.2,438.7 558.2,438.7 559.2,438.7 560.2,438.7 561.2,438.7 562.2,438.7 563.2,438.7 564.2,438.7 565.2,438.7 566.2,438.7 567.2,438.7 568.2,438.7 569.2,438.7 570.2,438.7 571.2,438.7 572.2,438.7 573.2,438.7 574.2,438.7 575.2,438.7 576.2,438.7 577.2,438.7 578.2,438.7 579.2,438.7 580.2,438.7 581.2,438.7 582.2,438.7 583.2,438.7 584.2,438.7 585.2,438.7 586.2,438.7 587.2,438.7 588.2,438.7 589.2,438.7 590.2,438.7 591.2,438.7 592.2,438.7 593.2,438.7 594.2,438.7 595.2,438.7 596.2,438.7 597.2,438.7 598.2,438.7 599.2,438.7 600.2,438.7 601.2,438.7 602.2,438.7 603.2,438.7 604.2,438.7 605.2,438.7 606.2,438.7 607.2,438.7 608.2,438.7 609.2,438.7 610.2,438.7 611.2,438.7 612.2,438.7 613.2,438.7 614.2,438.7 615.2,438.7 616.2,438.7 617.2,438.7 618.2,438.7 619.2,438.7 620.2,438.7 621.2,438.7 622.2,438.7 623.2,438.7 624.2,438.7 625.2,438.7 626.2,438.7 627.2,438.7 628.2,438.7 629.2,438.7 630.2,438.7 631.2,438.7 632.2,438.7 633.2,438.7 634.2,438.7 635.2,438.7 636.2,438.7 637.2,438.7 638.2,438.7 639.2,438.7 640.2,438.7 641.2,438.7 642.2,438.7 643.2,438.7 644.2,438.7 645.2,438.7 646.2,438.7 647.2,438.7 647.6,438.7"/>
</g>
<line x1="34.1" y1="595.5" x2="672.2" y2="595.5" stroke="#e4e4e4" stroke-width="1.3"/>
<line x1="34.1" y1="622.7" x2="672.2" y2="622.7" stroke="#e4e4e4" stroke-width="1.3"/>
<line x1="34.1" y1="650.1" x2="672.2" y2="650.1" stroke="#e4e4e4" stroke-width="1.3"/>
<line x1="34.1" y1="677.5" x2="672.2" y2="677.5" stroke="#e4e4e4" stroke-width="1.3"/>
<line x1="97.91" y1="584.9" x2="97.91" y2="691.3" stroke="#e4e4e4" stroke-width="1.3"/>
<line x1="161.72" y1="584.9" x2="161.72" y2="691.3" stroke="#e4e4e4" stroke-width="1.3"/>
<line x1="225.53" y1="584.9" x2="225.53" y2="691.3" stroke="#e4e4e4" stroke-width="1.3"/>
<line x1="289.34000000000003" y1="584.9" x2="289.34000000000003" y2="691.3" stroke="#e4e4e4" stroke-width="1.3"/>
<line x1="353.15000000000003" y1="584.9" x2="353.15000000000003" y2="691.3" stroke="#e4e4e4" stroke-width="1.3"/>
<line x1="416.96000000000004" y1="584.9" x2="416.96000000000004" y2="691.3" stroke="#e4e4e4" stroke-width="1.3"/>
<line x1="480.77" y1="584.9" x2="480.77" y2="691.3" stroke="#e4e4e4" stroke-width="1.3"/>
<line x1="544.58" y1="584.9" x2="544.58" y2="691.3" stroke="#e4e4e4" stroke-width="1.3"/>
<line x1="608.3900000000001" y1="584.9" x2="608.3900000000001" y2="691.3" stroke="#e4e4e4" stroke-width="1.3"/>
<line x1="34.1" y1="595.5" x2="39.1" y2="595.5" stroke="#2a2a2a" stroke-width="1.25"/>
<line x1="667.2" y1="595.5" x2="672.2" y2="595.5" stroke="#2a2a2a" stroke-width="1.25"/>
<line x1="34.1" y1="622.7" x2="39.1" y2="622.7" stroke="#2a2a2a" stroke-width="1.25"/>
<line x1="667.2" y1="622.7" x2="672.2" y2="622.7" stroke="#2a2a2a" stroke-width="1.25"/>
<line x1="34.1" y1="650.1" x2="39.1" y2="650.1" stroke="#2a2a2a" stroke-width="1.25"/>
<line x1="667.2" y1="650.1" x2="672.2" y2="650.1" stroke="#2a2a2a" stroke-width="1.25"/>
<line x1="34.1" y1="677.5" x2="39.1" y2="677.5" stroke="#2a2a2a" stroke-width="1.25"/>
<line x1="667.2" y1="677.5" x2="672.2" y2="677.5" stroke="#2a2a2a" stroke-width="1.25"/>
<line x1="97.91" y1="584.9" x2="97.91" y2="590.9" stroke="#2a2a2a" stroke-width="1.25"/>
<line x1="97.91" y1="685.3" x2="97.91" y2="691.3" stroke="#2a2a2a" stroke-width="1.25"/>
<line x1="161.72" y1="584.9" x2="161.72" y2="590.9" stroke="#2a2a2a" stroke-width="1.25"/>
<line x1="161.72" y1="685.3" x2="161.72" y2="691.3" stroke="#2a2a2a" stroke-width="1.25"/>
<line x1="225.53" y1="584.9" x2="225.53" y2="590.9" stroke="#2a2a2a" stroke-width="1.25"/>
<line x1="225.53" y1="685.3" x2="225.53" y2="691.3" stroke="#2a2a2a" stroke-width="1.25"/>
<line x1="289.34000000000003" y1="584.9" x2="289.34000000000003" y2="590.9" stroke="#2a2a2a" stroke-width="1.25"/>
<line x1="289.34000000000003" y1="685.3" x2="289.34000000000003" y2="691.3" stroke="#2a2a2a" stroke-width="1.25"/>
<line x1="353.15000000000003" y1="584.9" x2="353.15000000000003" y2="590.9" stroke="#2a2a2a" stroke-width="1.25"/>
<line x1="353.15000000000003" y1="685.3" x2="353.15000000000003" y2="691.3" stroke="#2a2a2a" stroke-width="1.25"/>
<line x1="416.96000000000004" y1="584.9" x2="416.96000000000004" y2="590.9" stroke="#2a2a2a" stroke-width="1.25"/>
<line x1="416.96000000000004" y1="685.3" x2="416.96000000000004" y2="691.3" stroke="#2a2a2a" stroke-width="1.25"/>
<line x1="480.77" y1="584.9" x2="480.77" y2="590.9" stroke="#2a2a2a" stroke-width="1.25"/>
<line x1="480.77" y1="685.3" x2="480.77" y2="691.3" stroke="#2a2a2a" stroke-width="1.25"/>
<line x1="544.58" y1="584.9" x2="544.58" y2="590.9" stroke="#2a2a2a" stroke-width="1.25"/>
<line x1="544.58" y1="685.3" x2="544.58" y2="691.3" stroke="#2a2a2a" stroke-width="1.25"/>
<line x1="608.3900000000001" y1="584.9" x2="608.3900000000001" y2="590.9" stroke="#2a2a2a" stroke-width="1.25"/>
<line x1="608.3900000000001" y1="685.3" x2="608.3900000000001" y2="691.3" stroke="#2a2a2a" stroke-width="1.25"/>
<rect x="34.1" y="584.9" width="638.1" height="106.39999999999998" fill="none" stroke="#4a4a4a" stroke-width="1.6"/>
<clipPath id="c6"><rect x="33.300000000000004" y="584.1" width="639.7" height="107.99999999999997"/></clipPath>
<g clip-path="url(#c6)">
<polyline fill="none" stroke="#ff0000" stroke-width="4.9" stroke-linejoin="round" stroke-linecap="butt" points="33.6,595.2 34.6,595.2 35.6,595.3 36.6,595.4 37.6,595.6 38.6,595.9 39.6,596.5 40.6,597.1 41.6,597.7 42.6,598.3 43.6,599.1 44.6,599.8 45.6,600.5 46.6,601.3 47.6,602.1 48.6,602.8 49.6,603.6 50.6,604.4 51.6,605.2 52.6,605.9 53.6,606.8 54.6,607.6 55.6,608.4 56.6,609.2 57.6,610 58.6,610.6 59.6,611.2 60.6,611.7 61.6,612.2 62.6,612.7 63.6,613.1 64.6,613.5 65.6,613.9 66.6,614.2 67.6,614.5 68.6,614.8 69.6,615.1 70.6,615.4 71.6,615.6 72.6,615.8 73.6,616 74.6,616.1 75.6,616.2 76.6,616.4 77.6,616.5 78.6,616.6 79.6,616.7 80.6,616.8 81.6,616.9 82.6,617 83.6,617 84.6,617.1 85.6,617.2 86.6,617.3 87.6,617.3 88.6,617.4 89.6,617.5 90.6,617.6 91.6,617.6 92.6,617.7 93.6,617.7 94.6,617.8 95.6,617.9 96.6,617.9 97.6,618 98.6,618 99.6,618.1 100.6,618.2 101.6,618.2 102.6,618.3 103.6,618.3 104.6,618.4 105.6,618.5 106.6,618.5 107.6,618.6 108.6,618.7 109.6,618.7 110.6,618.8 111.6,618.9 112.6,618.9 113.6,619 114.6,619.1 115.6,619.1 116.6,619.2 117.6,619.3 118.6,619.4 119.6,619.5 120.6,619.6 121.6,619.7 122.6,619.8 123.6,619.9 124.6,620 125.6,620.1 126.6,620.2 127.6,620.3 128.6,620.4 129.6,620.5 130.6,620.5 131.6,620.6 132.6,620.7 133.6,620.8 134.6,620.9 135.6,620.9 136.6,621 137.6,621.1 138.6,621.2 139.6,621.2 140.6,621.3 141.6,621.4 142.6,621.4 143.6,621.5 144.6,621.6 145.6,621.6 146.6,621.7 147.6,621.8 148.6,621.8 149.6,621.9 150.6,622 151.6,622 152.6,622.1 153.6,622.1 154.6,622.2 155.6,622.2 156.6,622.3 157.6,622.3 158.6,622.3 159.6,622.4 160.6,622.4 161.6,622.5 162.6,622.5 163.6,622.5 164.6,622.6 165.6,622.6 166.6,622.6 167.6,622.7 168.6,622.7 169.6,622.7 170.6,622.7 171.6,622.8 172.6,622.8 173.6,622.8 174.6,622.8 175.6,622.9 176.6,622.9 177.6,622.9 178.6,622.9 179.6,623 180.6,623 181.6,623 182.6,623 183.6,623.1 184.6,623.1 185.6,623.1 186.6,623.1 187.6,623.1 188.6,623.2 189.6,623.2 190.6,623.2 191.6,623.2 192.6,623.3 193.6,623.3 194.6,623.3 195.6,623.3 196.6,623.3 197.6,623.4 198.6,623.4 199.6,623.4 200.6,623.4 201.6,623.5 202.6,623.5 203.6,623.5 204.6,623.5 205.6,623.5 206.6,623.6 207.6,623.6 208.6,623.6 209.6,623.6 210.6,623.6 211.6,623.7 212.6,623.7 213.6,623.7 214.6,623.7 215.6,623.7 216.6,623.8 217.6,623.8 218.6,623.8 219.6,623.8 220.6,623.8 221.6,623.9 222.6,623.9 223.6,623.9 224.6,623.9 225.6,623.9 226.6,623.9 227.6,624 228.6,624 229.6,624 230.6,624 231.6,624 232.6,624 233.6,624.1 234.6,624.1 235.6,624.1 236.6,624.1 237.6,624.1 238.6,624.1 239.6,624.1 240.6,624.1 241.6,624.2 242.6,624.2 243.6,624.2 244.6,624.2 245.6,624.2 246.6,624.2 247.6,624.2 248.6,624.2 249.6,624.3 250.6,624.3 251.6,624.3 252.6,624.3 253.6,624.3 254.6,624.3 255.6,624.3 256.6,624.3 257.6,624.4 258.6,624.4 259.6,624.4 260.6,624.4 261.6,624.4 262.6,624.4 263.6,624.5 264.6,624.5 265.6,624.5 266.6,624.5 267.6,624.5 268.6,624.6 269.6,624.6 270.6,624.6 271.6,624.6 272.6,624.6 273.6,624.7 274.6,624.7 275.6,624.7 276.6,624.7 277.6,624.8 278.6,624.8 279.6,624.8 280.6,624.8 281.6,624.9 282.6,624.9 283.6,624.9 284.6,624.9 285.6,625 286.6,625 287.6,625 288.6,625.1 289.6,625.1 290.6,625.1 291.6,625.2 292.6,625.2 293.6,625.2 294.6,625.3 295.6,625.3 296.6,625.3 297.6,625.4 298.6,625.4 299.6,625.5 300.6,625.5 301.6,625.5 302.6,625.6 303.6,625.6 304.6,625.7 305.6,625.7 306.6,625.8 307.6,625.9 308.6,625.9 309.6,626 310.6,626 311.6,626.1 312.6,626.2 313.6,626.3 314.6,626.4 315.6,626.4 316.6,626.5 317.6,626.6 318.6,626.7 319.6,626.8 320.6,626.9 321.6,627.1 322.6,627.2 323.6,627.3 324.6,627.4 325.6,627.5 326.6,627.6 327.6,627.7 328.6,627.8 329.6,627.9 330.6,628 331.6,628 332.6,628.1 333.6,628.2 334.6,628.3 335.6,628.4 336.6,628.5 337.6,628.5 338.6,628.6 339.6,628.7 340.6,628.8 341.6,628.8 342.6,628.9 343.6,629 344.6,629.1 345.6,629.2 346.6,629.2 347.6,629.3 348.6,629.4 349.6,629.5 350.6,629.5 351.6,629.6 352.6,629.7 353.6,629.8 354.6,629.9 355.6,629.9 356.6,630 357.6,630.1 358.6,630.2 359.6,630.2 360.6,630.3 361.6,630.4 362.6,630.5 363.6,630.6 364.6,630.6 365.6,630.7 366.6,630.8 367.6,630.9 368.6,630.9 369.6,631 370.6,631.1 371.6,631.2 372.6,631.2 373.6,631.3 374.6,631.4 375.6,631.5 376.6,631.5 377.6,631.6 378.6,631.7 379.6,631.8 380.6,631.8 381.6,631.9 382.6,632 383.6,632.1 384.6,632.1 385.6,632.2 386.6,632.3 387.6,632.3 388.6,632.4 389.6,632.5 390.6,632.6 391.6,632.6 392.6,632.7 393.6,632.8 394.6,632.8 395.6,632.9 396.6,633 397.6,633 398.6,633.1 399.6,633.2 400.6,633.3 401.6,633.3 402.6,633.4 403.6,633.5 404.6,633.6 405.6,633.6 406.6,633.7 407.6,633.8 408.6,633.9 409.6,634 410.6,634.1 411.6,634.1 412.6,634.2 413.6,634.3 414.6,634.4 415.6,634.5 416.6,634.6 417.6,634.7 418.6,634.8 419.6,634.9 420.6,635 421.6,635.2 422.6,635.3 423.6,635.4 424.6,635.5 425.6,635.6 426.6,635.7 427.6,635.8 428.6,635.9 429.6,636 430.6,636.1 431.6,636.1 432.6,636.2 433.6,636.3 434.6,636.4 435.6,636.5 436.6,636.6 437.6,636.7 438.6,636.8 439.6,636.9 440.6,636.9 441.6,637 442.6,637.1 443.6,637.2 444.6,637.3 445.6,637.4 446.6,637.4 447.6,637.5 448.6,637.6 449.6,637.7 450.6,637.8 451.6,637.9 452.6,637.9 453.6,638 454.6,638.1 455.6,638.2 456.6,638.3 457.6,638.4 458.6,638.4 459.6,638.5 460.6,638.6 461.6,638.7 462.6,638.8 463.6,638.8 464.6,638.9 465.6,639 466.6,639.1 467.6,639.2 468.6,639.2 469.6,639.3 470.6,639.4 471.6,639.5 472.6,639.6 473.6,639.7 474.6,639.7 475.6,639.8 476.6,639.9 477.6,640 478.6,640.1 479.6,640.2 480.6,640.3 481.6,640.4 482.6,640.4 483.6,640.5 484.6,640.6 485.6,640.7 486.6,640.8 487.6,640.9 488.6,641 489.6,641.1 490.6,641.2 491.6,641.3 492.6,641.4 493.6,641.4 494.6,641.5 495.6,641.6 496.6,641.7 497.6,641.8 498.6,641.9 499.6,642 500.6,642.1 501.6,642.2 502.6,642.3 503.6,642.4 504.6,642.5 505.6,642.6 506.6,642.7 507.6,642.8 508.6,642.9 509.6,643 510.6,643.1 511.6,643.1 512.6,643.2 513.6,643.3 514.6,643.4 515.6,643.5 516.6,643.6 517.6,643.7 518.6,643.8 519.6,643.9 520.6,644 521.6,644.1 522.6,644.2 523.6,644.2 524.6,644.3 525.6,644.4 526.6,644.5 527.6,644.6 528.6,644.7 529.6,644.8 530.6,644.9 531.6,644.9 532.6,645 533.6,645.1 534.6,645.2 535.6,645.3 536.6,645.3 537.6,645.4 538.6,645.5 539.6,645.6 540.6,645.6 541.6,645.7 542.6,645.8 543.6,645.9 544.6,646 545.6,646.1 546.6,646.1 547.6,646.2 548.6,646.3 549.6,646.4 550.6,646.5 551.6,646.6 552.6,646.7 553.6,646.7 554.6,646.8 555.6,646.9 556.6,647 557.6,647.1 558.6,647.2 559.6,647.3 560.6,647.4 561.6,647.5 562.6,647.6 563.6,647.6 564.6,647.7 565.6,647.8 566.6,647.9 567.6,648 568.6,648.1 569.6,648.2 570.6,648.3 571.6,648.4 572.6,648.5 573.6,648.6 574.6,648.7 575.6,648.8 576.6,648.9 577.6,648.9 578.6,649 579.6,649.1 580.6,649.2 581.6,649.3 582.6,649.4 583.6,649.5 584.6,649.6 585.6,649.7 586.6,649.8 587.6,649.9 588.6,650 589.6,650.1 590.6,650.2 591.6,650.3 592.6,650.4 593.6,650.5 594.6,650.6 595.6,650.7 596.6,650.8 597.6,650.9 598.6,650.9 599.6,651 600.6,651.1 601.6,651.2 602.6,651.3 603.6,651.4 604.6,651.5 605.6,651.6 606.6,651.7 607.6,651.8 608.6,651.9 609.6,652 610.6,652.1 611.6,652.2 612.6,652.3 613.6,652.4 614.6,652.5 615.6,652.6 616.6,652.7 617.6,652.8 618.6,652.8 619.6,652.9 620.6,653 621.6,653.1 622.6,653.2 623.6,653.3 624.6,653.4 625.6,653.5 626.6,653.6 627.6,653.7 628.6,653.8 629.6,653.9 630.6,654 631.6,654.1 632.6,654.2 633.6,654.3 634.6,654.4 635.6,654.5 636.6,654.6 637.6,654.7 638.6,654.8 639.6,654.9 640.6,655 641.6,655 642.6,655.1 643.6,655.2 644.6,655.3 645.6,655.4 646.6,655.5 647.6,655.6 648.6,655.7 649.6,655.8 650.6,655.9 651.6,656 652.6,656.1 653.6,656.2 654.6,656.3 655.6,656.4 656.6,656.5 657.6,656.6 658.6,656.7 659.6,656.8 660.6,656.9 661.6,657 662.6,657.1 663.6,657.2 664.6,657.3 665.6,657.4 666.6,657.5 667.6,657.6 668.6,657.7 669.6,657.8 670.6,657.9 671.6,658 672.5,658.1"/>
</g>
<text transform="translate(294.72,18.90) scale(0.6695,1)" font-family='"Liberation Sans", Arial, sans-serif' font-weight="bold" font-size="24.12" fill="#111" stroke="#111" stroke-width="0.597" stroke-linejoin="round">PCC Voltage (pu)</text>
<text transform="translate(285.93,111.50) scale(0.6714,1)" font-family='"Liberation Sans", Arial, sans-serif' font-weight="bold" font-size="23.83" fill="#111" stroke="#111" stroke-width="0.596" stroke-linejoin="round">PCC Current (pu)</text>
<text transform="translate(266.03,222.50) scale(0.7265,1)" font-family='"Liberation Sans", Arial, sans-serif' font-weight="bold" font-size="22.38" fill="#111" stroke="#111" stroke-width="0.551" stroke-linejoin="round">Stator Voltage(pu)</text>
<text transform="translate(281.64,321.90) scale(0.7243,1)" font-family='"Liberation Sans", Arial, sans-serif' font-weight="bold" font-size="21.95" fill="#111" stroke="#111" stroke-width="0.552" stroke-linejoin="round">Stator Current(pu)</text>
<text transform="translate(256.15,427.60) scale(0.8724,1)" font-family='"Liberation Sans", Arial, sans-serif' font-weight="bold" font-size="18.58" fill="#111" stroke="#111" stroke-width="0.458" stroke-linejoin="round">wind dc-link Voltage (pu)</text>
<clipPath id="nf1" clipPathUnits="userSpaceOnUse"><path clip-rule="evenodd" d="M-22.6,-45.3H27.2V22.6H-22.6ZM0.21,-4.17H5.11V4.53H0.21ZM8.56,-4.17H13.18V4.53H8.56Z"/></clipPath><text transform="translate(39.39,42.74) scale(0.8866,1)" font-family='"Liberation Sans", Arial, sans-serif' font-weight="bold" font-size="22.63" fill="#111" stroke="#111" stroke-width="0.338" stroke-linejoin="round" clip-path="url(#nf1)">1</text>
<text transform="translate(39.62,66.37) scale(0.7127,1)" font-family='"Liberation Sans", Arial, sans-serif' font-weight="bold" font-size="22.15" fill="#111" stroke="#111" stroke-width="0.421" stroke-linejoin="round">0</text>
<clipPath id="nf2" clipPathUnits="userSpaceOnUse"><path clip-rule="evenodd" d="M-21.8,-43.6H52.3V21.8H-21.8ZM7.38,-4.06H12.14V4.36H7.38ZM15.54,-4.06H20.02V4.36H15.54Z"/></clipPath><text transform="translate(35.52,90.20) scale(0.7372,1)" font-family='"Liberation Sans", Arial, sans-serif' font-weight="bold" font-size="21.79" fill="#111" stroke="#111" stroke-width="0.407" stroke-linejoin="round" clip-path="url(#nf2)">-1</text>
<text transform="translate(28.95,143.97) scale(0.7072,1)" font-family='"Liberation Sans", Arial, sans-serif' font-weight="bold" font-size="21.29" fill="#111" stroke="#111" stroke-width="0.424" stroke-linejoin="round">0.5</text>
<text transform="translate(41.75,165.08) scale(0.7018,1)" font-family='"Liberation Sans", Arial, sans-serif' font-weight="bold" font-size="21.30" fill="#111" stroke="#111" stroke-width="0.427" stroke-linejoin="round">0</text>
<text transform="translate(25.50,186.36) scale(0.6609,1)" font-family='"Liberation Sans", Arial, sans-serif' font-weight="bold" font-size="21.38" fill="#111" stroke="#111" stroke-width="0.454" stroke-linejoin="round">-0.5</text>
<clipPath id="nf3" clipPathUnits="userSpaceOnUse"><path clip-rule="evenodd" d="M-22.5,-45.0H27.0V22.5H-22.5ZM0.20,-4.14H5.08V4.50H0.20ZM8.50,-4.14H13.10V4.50H8.50Z"/></clipPath><text transform="translate(37.71,250.83) scale(0.8779,1)" font-family='"Liberation Sans", Arial, sans-serif' font-weight="bold" font-size="22.48" fill="#111" stroke="#111" stroke-width="0.342" stroke-linejoin="round" clip-path="url(#nf3)">1</text>
<text transform="translate(37.97,268.89) scale(0.7198,1)" font-family='"Liberation Sans", Arial, sans-serif' font-weight="bold" font-size="20.18" fill="#111" stroke="#111" stroke-width="0.417" stroke-linejoin="round">0</text>
<clipPath id="nf4" clipPathUnits="userSpaceOnUse"><path clip-rule="evenodd" d="M-21.9,-43.8H52.6V21.9H-21.9ZM7.41,-4.09H12.19V4.38H7.41ZM15.63,-4.09H20.13V4.38H15.63Z"/></clipPath><text transform="translate(34.25,287.79) scale(0.6991,1)" font-family='"Liberation Sans", Arial, sans-serif' font-weight="bold" font-size="21.91" fill="#111" stroke="#111" stroke-width="0.429" stroke-linejoin="round" clip-path="url(#nf4)">-1</text>
<clipPath id="nf5" clipPathUnits="userSpaceOnUse"><path clip-rule="evenodd" d="M-21.5,-42.9H25.7V21.5H-21.5ZM0.13,-3.97H4.83V4.29H0.13ZM8.13,-3.97H12.56V4.29H8.13Z"/></clipPath><text transform="translate(37.30,343.43) scale(0.8586,1)" font-family='"Liberation Sans", Arial, sans-serif' font-weight="bold" font-size="21.45" fill="#111" stroke="#111" stroke-width="0.349" stroke-linejoin="round" clip-path="url(#nf5)">1</text>
<text transform="translate(37.28,375.99) scale(0.7096,1)" font-family='"Liberation Sans", Arial, sans-serif' font-weight="bold" font-size="20.17" fill="#111" stroke="#111" stroke-width="0.423" stroke-linejoin="round">0</text>
<clipPath id="nf6" clipPathUnits="userSpaceOnUse"><path clip-rule="evenodd" d="M-21.3,-42.7H51.2V21.3H-21.3ZM7.19,-3.99H11.88V4.27H7.19ZM15.22,-3.99H19.64V4.27H15.22Z"/></clipPath><text transform="translate(33.35,409.69) scale(0.7177,1)" font-family='"Liberation Sans", Arial, sans-serif' font-weight="bold" font-size="21.34" fill="#111" stroke="#111" stroke-width="0.418" stroke-linejoin="round" clip-path="url(#nf6)">-1</text>
<clipPath id="nf7" clipPathUnits="userSpaceOnUse"><path clip-rule="evenodd" d="M-22.3,-44.6H26.8V22.3H-22.3ZM0.17,-4.13H5.02V4.46H0.17ZM8.45,-4.13H13.02V4.46H8.45Z"/></clipPath><text transform="translate(34.72,447.22) scale(0.8114,1)" font-family='"Liberation Sans", Arial, sans-serif' font-weight="bold" font-size="22.30" fill="#111" stroke="#111" stroke-width="0.370" stroke-linejoin="round" clip-path="url(#nf7)">1</text>
<text transform="translate(22.46,465.68) scale(0.7153,1)" font-family='"Liberation Sans", Arial, sans-serif' font-weight="bold" font-size="20.73" fill="#111" stroke="#111" stroke-width="0.419" stroke-linejoin="round">0.5</text>
<text transform="translate(34.78,483.78) scale(0.6863,1)" font-family='"Liberation Sans", Arial, sans-serif' font-weight="bold" font-size="20.86" fill="#111" stroke="#111" stroke-width="0.437" stroke-linejoin="round">0</text>
<text transform="translate(35.67,511.96) scale(0.6745,1)" font-family='"Liberation Sans", Arial, sans-serif' font-weight="bold" font-size="21.39" fill="#111" stroke="#111" stroke-width="0.445" stroke-linejoin="round">0.05</text>
<clipPath id="nf8" clipPathUnits="userSpaceOnUse"><path clip-rule="evenodd" d="M-22.1,-44.3H79.7V22.1H-22.1ZM18.60,-4.12H23.43V4.43H18.60ZM26.88,-4.12H31.42V4.43H26.88Z"/></clipPath><text transform="translate(237.92,511.87) scale(0.7166,1)" font-family='"Liberation Sans", Arial, sans-serif' font-weight="bold" font-size="22.14" fill="#111" stroke="#111" stroke-width="0.419" stroke-linejoin="round" clip-path="url(#nf8)">0.1</text>
<clipPath id="nf9" clipPathUnits="userSpaceOnUse"><path clip-rule="evenodd" d="M-21.7,-43.3H104.0V21.7H-21.7ZM18.17,-4.06H22.91V4.33H18.17ZM26.33,-4.06H30.80V4.33H26.33Z"/></clipPath><text transform="translate(434.87,511.66) scale(0.6707,1)" font-family='"Liberation Sans", Arial, sans-serif' font-weight="bold" font-size="21.67" fill="#111" stroke="#111" stroke-width="0.447" stroke-linejoin="round" clip-path="url(#nf9)">0.15</text>
<text transform="translate(637.36,512.25) scale(0.6701,1)" font-family='"Liberation Sans", Arial, sans-serif' font-weight="bold" font-size="22.10" fill="#111" stroke="#111" stroke-width="0.448" stroke-linejoin="round">0.2</text>
<text transform="translate(342.86,543.68) scale(1.0068,1)" font-family='"Liberation Serif", "Times New Roman", serif' font-weight="normal" font-size="18.85" fill="#111">(a)</text>
<text transform="translate(292.54,574.70) scale(0.9592,1)" font-family='"Liberation Sans", Arial, sans-serif' font-weight="bold" font-size="12.95" fill="#111" stroke="#111" stroke-width="0.313" stroke-linejoin="round">Generator Electromagnetic torque(N-M)</text>
<text transform="translate(20.56,600.32) scale(0.9717,1)" font-family='"Liberation Sans", Arial, sans-serif' font-weight="bold" font-size="12.57" fill="#111" stroke="#111" stroke-width="0.309" stroke-linejoin="round">0</text>
<text transform="translate(9.57,627.91) scale(0.9395,1)" font-family='"Liberation Sans", Arial, sans-serif' font-weight="bold" font-size="13.10" fill="#111" stroke="#111" stroke-width="0.319" stroke-linejoin="round">-50</text>
<clipPath id="nf10" clipPathUnits="userSpaceOnUse"><path clip-rule="evenodd" d="M-13.0,-25.9H62.2V13.0H-13.0ZM3.92,-2.51H7.18V2.59H3.92ZM9.28,-2.51H12.37V2.59H9.28Z"/></clipPath><text transform="translate(3.08,655.01) scale(0.9362,1)" font-family='"Liberation Sans", Arial, sans-serif' font-weight="bold" font-size="12.96" fill="#111" stroke="#111" stroke-width="0.320" stroke-linejoin="round" clip-path="url(#nf10)">-100</text>
<clipPath id="nf11" clipPathUnits="userSpaceOnUse"><path clip-rule="evenodd" d="M-12.7,-25.4H60.9V12.7H-12.7ZM3.82,-2.46H7.03V2.54H3.82ZM9.08,-2.46H12.13V2.54H9.08Z"/></clipPath><text transform="translate(3.08,682.21) scale(0.9564,1)" font-family='"Liberation Sans", Arial, sans-serif' font-weight="bold" font-size="12.68" fill="#111" stroke="#111" stroke-width="0.314" stroke-linejoin="round" clip-path="url(#nf11)">-150</text>
<text transform="translate(30.80,711.37) scale(0.8848,1)" font-family='"Liberation Sans", Arial, sans-serif' font-weight="bold" font-size="13.44" fill="#111" stroke="#111" stroke-width="0.396" stroke-linejoin="round">0</text>
<text transform="translate(85.81,711.37) scale(0.9257,1)" font-family='"Liberation Sans", Arial, sans-serif' font-weight="bold" font-size="13.44" fill="#111" stroke="#111" stroke-width="0.378" stroke-linejoin="round">0.02</text>
<text transform="translate(149.40,711.37) scale(0.9260,1)" font-family='"Liberation Sans", Arial, sans-serif' font-weight="bold" font-size="13.44" fill="#111" stroke="#111" stroke-width="0.378" stroke-linejoin="round">0.04</text>
<text transform="translate(213.40,711.37) scale(0.9257,1)" font-family='"Liberation Sans", Arial, sans-serif' font-weight="bold" font-size="13.44" fill="#111" stroke="#111" stroke-width="0.378" stroke-linejoin="round">0.06</text>
<text transform="translate(277.18,711.37) scale(0.9258,1)" font-family='"Liberation Sans", Arial, sans-serif' font-weight="bold" font-size="13.44" fill="#111" stroke="#111" stroke-width="0.378" stroke-linejoin="round">0.08</text>
<clipPath id="nf12" clipPathUnits="userSpaceOnUse"><path clip-rule="evenodd" d="M-13.5,-27.0H48.6V13.5H-13.5ZM10.89,-2.61H14.24V2.70H10.89ZM16.43,-2.61H19.61V2.70H16.43Z"/></clipPath><text transform="translate(344.42,711.39) scale(1.0381,1)" font-family='"Liberation Sans", Arial, sans-serif' font-weight="bold" font-size="13.50" fill="#111" stroke="#111" stroke-width="0.337" stroke-linejoin="round" clip-path="url(#nf12)">0.1</text>
<clipPath id="nf13" clipPathUnits="userSpaceOnUse"><path clip-rule="evenodd" d="M-13.4,-26.9H64.5V13.4H-13.4ZM10.81,-2.62H14.15V2.69H10.81ZM16.37,-2.62H19.54V2.69H16.37Z"/></clipPath><text transform="translate(404.86,711.37) scale(0.9257,1)" font-family='"Liberation Sans", Arial, sans-serif' font-weight="bold" font-size="13.44" fill="#111" stroke="#111" stroke-width="0.378" stroke-linejoin="round" clip-path="url(#nf13)">0.12</text>
<clipPath id="nf14" clipPathUnits="userSpaceOnUse"><path clip-rule="evenodd" d="M-13.4,-26.9H64.5V13.4H-13.4ZM10.81,-2.62H14.15V2.69H10.81ZM16.37,-2.62H19.54V2.69H16.37Z"/></clipPath><text transform="translate(468.45,711.37) scale(0.9260,1)" font-family='"Liberation Sans", Arial, sans-serif' font-weight="bold" font-size="13.44" fill="#111" stroke="#111" stroke-width="0.378" stroke-linejoin="round" clip-path="url(#nf14)">0.14</text>
<clipPath id="nf15" clipPathUnits="userSpaceOnUse"><path clip-rule="evenodd" d="M-13.4,-26.9H64.5V13.4H-13.4ZM10.81,-2.62H14.15V2.69H10.81ZM16.37,-2.62H19.54V2.69H16.37Z"/></clipPath><text transform="translate(532.45,711.37) scale(0.9257,1)" font-family='"Liberation Sans", Arial, sans-serif' font-weight="bold" font-size="13.44" fill="#111" stroke="#111" stroke-width="0.378" stroke-linejoin="round" clip-path="url(#nf15)">0.16</text>
<clipPath id="nf16" clipPathUnits="userSpaceOnUse"><path clip-rule="evenodd" d="M-13.4,-26.9H64.5V13.4H-13.4ZM10.81,-2.62H14.15V2.69H10.81ZM16.37,-2.62H19.54V2.69H16.37Z"/></clipPath><text transform="translate(596.23,711.37) scale(0.9258,1)" font-family='"Liberation Sans", Arial, sans-serif' font-weight="bold" font-size="13.44" fill="#111" stroke="#111" stroke-width="0.378" stroke-linejoin="round" clip-path="url(#nf16)">0.18</text>
<text transform="translate(663.61,711.37) scale(0.9198,1)" font-family='"Liberation Sans", Arial, sans-serif' font-weight="bold" font-size="13.44" fill="#111" stroke="#111" stroke-width="0.381" stroke-linejoin="round">0.2</text>
<text transform="translate(329.94,720.43) scale(0.9471,1)" font-family='"Liberation Sans", Arial, sans-serif' font-weight="bold" font-size="14.22" fill="#111" stroke="#111" stroke-width="0.422" stroke-linejoin="round">time(sec)</text>
<text transform="translate(343.27,756.14) scale(1.0728,1)" font-family='"Liberation Serif", "Times New Roman", serif' font-weight="normal" font-size="17.64" fill="#111">(b)</text>
</svg>
</body></html>
